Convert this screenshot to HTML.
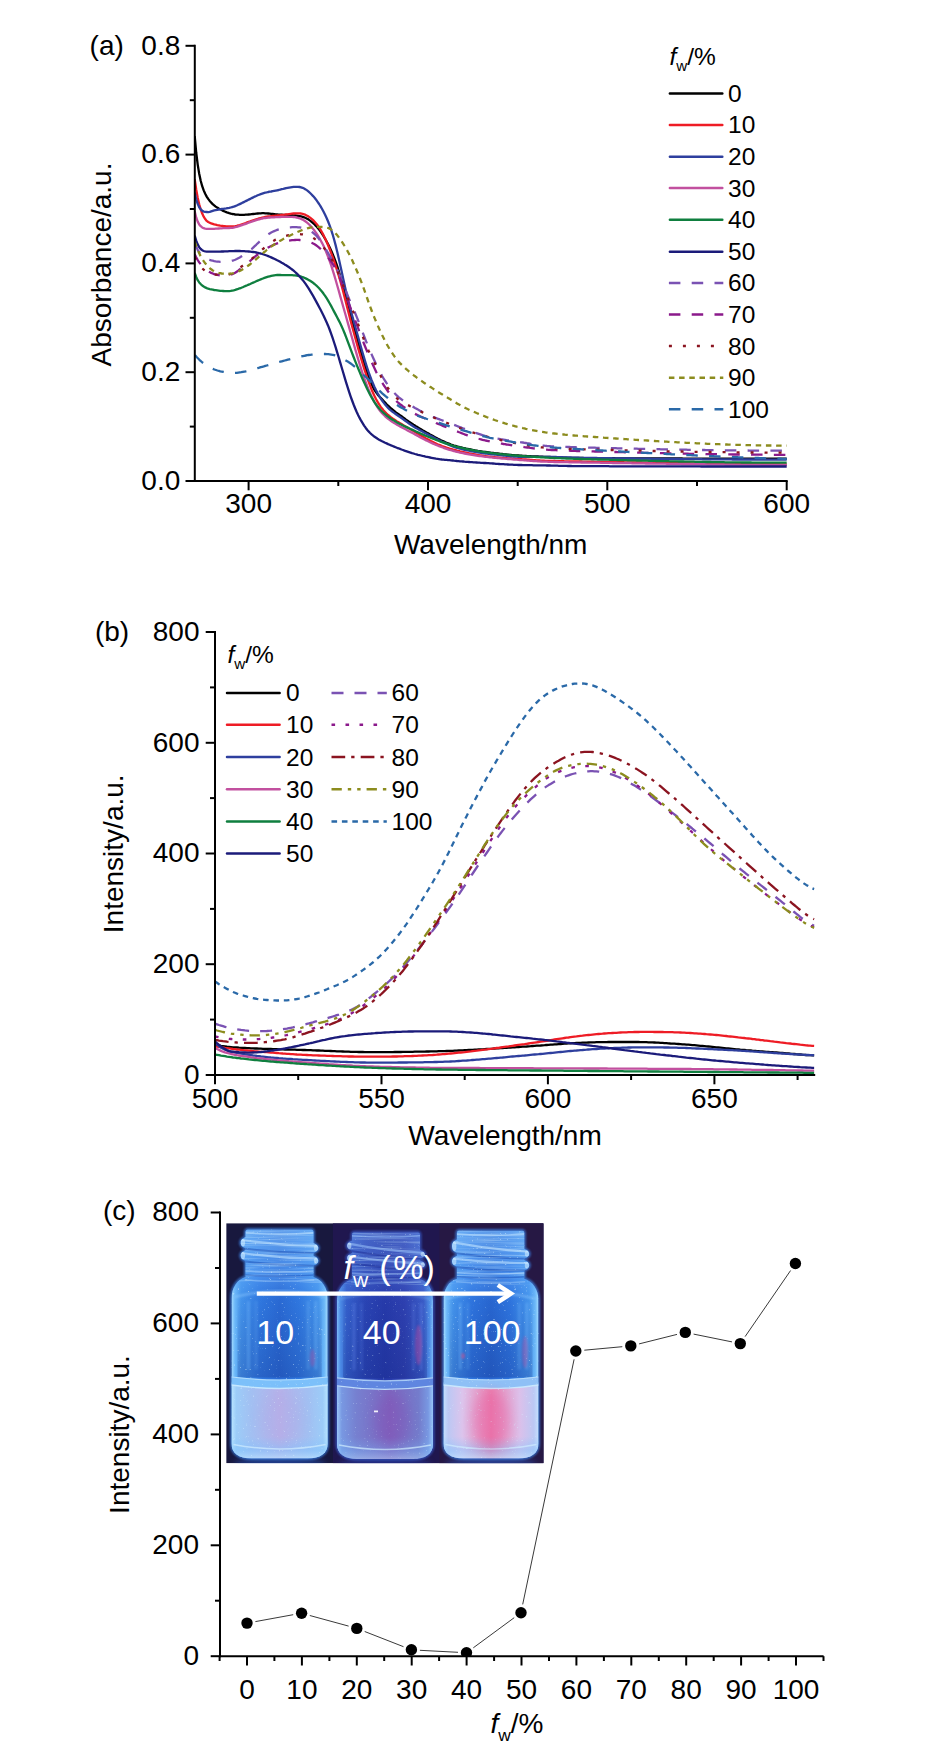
<!DOCTYPE html>
<html lang="en"><head><meta charset="utf-8"><title>Figure</title>
<style>html,body{margin:0;padding:0;background:#fff}svg{display:block}text{font-family:"Liberation Sans", Arial, Helvetica, sans-serif;fill:#000}</style></head><body>
<svg width="947" height="1758" viewBox="0 0 947 1758">
<rect width="947" height="1758" fill="#fff"/>
<g id="chart-a">
<clipPath id="clipA"><rect x="194.8" y="40" width="592.4" height="441.0"/></clipPath>
<g clip-path="url(#clipA)" fill="none" stroke-width="2.3" stroke-linejoin="round">
<path d="M194.7 136.1 L196.2 152.5 L197.7 164.6 L199.2 173.7 L200.7 180.7 L202.2 186.2 L203.7 190.4 L205.2 193.8 L206.7 196.6 L208.2 198.9 L209.7 200.9 L211.2 202.6 L212.7 204.1 L214.2 205.4 L215.7 206.6 L217.2 207.6 L218.7 208.5 L220.2 209.3 L221.7 210.1 L223.2 210.9 L224.7 211.5 L226.2 212.1 L227.7 212.7 L229.2 213.2 L230.7 213.6 L232.2 214.0 L233.7 214.2 L235.2 214.5 L236.7 214.6 L238.2 214.7 L239.7 214.8 L241.2 214.8 L242.7 214.8 L244.2 214.8 L245.7 214.7 L247.2 214.6 L248.7 214.5 L250.2 214.4 L251.7 214.2 L253.2 214.0 L254.7 213.9 L256.2 213.7 L257.7 213.5 L259.2 213.4 L260.7 213.3 L262.2 213.2 L263.7 213.2 L265.2 213.3 L266.7 213.4 L268.2 213.5 L269.7 213.7 L271.2 213.9 L272.7 214.0 L274.2 214.2 L275.7 214.4 L277.2 214.5 L278.7 214.6 L280.2 214.7 L281.7 214.7 L283.2 214.8 L284.6 214.8 L286.1 214.9 L287.6 215.0 L289.1 215.0 L290.6 215.1 L292.1 215.2 L293.6 215.3 L295.1 215.4 L296.6 215.6 L298.1 215.8 L299.6 216.1 L301.1 216.4 L302.6 216.8 L304.1 217.3 L305.6 218.0 L307.1 218.7 L308.6 219.6 L310.1 220.6 L311.6 221.8 L313.1 223.1 L314.6 224.5 L316.1 226.1 L317.6 227.8 L319.1 229.6 L320.6 231.7 L322.1 233.9 L323.6 236.2 L325.1 238.8 L326.6 241.5 L328.1 244.3 L329.6 247.3 L331.1 250.5 L332.6 254.0 L334.1 257.6 L335.6 261.6 L337.1 265.9 L338.6 270.6 L340.1 275.8 L341.6 281.3 L343.1 287.1 L344.6 293.0 L346.1 298.9 L347.6 304.7 L349.1 310.3 L350.6 315.7 L352.1 321.1 L353.6 326.5 L355.1 331.8 L356.6 337.1 L358.1 342.5 L359.6 347.8 L361.1 353.0 L362.6 358.1 L364.1 363.1 L365.6 367.9 L367.1 372.5 L368.6 376.8 L370.1 380.7 L371.6 384.3 L373.1 387.4 L374.6 390.1 L376.1 392.4 L377.6 394.4 L379.1 396.2 L380.6 397.8 L382.1 399.4 L383.6 401.0 L385.1 402.6 L386.6 404.2 L388.1 405.7 L389.6 407.1 L391.1 408.5 L392.6 409.7 L394.1 410.9 L395.6 412.1 L397.0 413.1 L398.5 414.2 L400.0 415.3 L401.5 416.3 L403.0 417.4 L404.5 418.5 L406.0 419.6 L407.5 420.6 L409.0 421.7 L410.5 422.7 L412.0 423.7 L413.5 424.7 L415.0 425.6 L416.5 426.6 L418.0 427.5 L419.5 428.4 L421.0 429.3 L422.5 430.2 L424.0 431.0 L425.5 431.9 L427.0 432.8 L428.5 433.6 L430.0 434.5 L431.5 435.3 L433.0 436.1 L434.5 436.9 L436.0 437.7 L437.5 438.5 L439.0 439.2 L440.5 440.0 L442.0 440.7 L443.5 441.4 L445.0 442.1 L446.5 442.7 L448.0 443.3 L449.5 443.9 L451.0 444.5 L452.5 445.0 L454.0 445.5 L455.5 445.9 L457.0 446.4 L458.5 446.8 L460.0 447.2 L461.5 447.5 L463.0 447.9 L464.5 448.2 L466.0 448.6 L467.5 448.9 L469.0 449.2 L470.5 449.5 L472.0 449.8 L473.5 450.1 L475.0 450.4 L476.5 450.6 L478.0 450.9 L479.5 451.1 L481.0 451.3 L482.5 451.6 L484.0 451.8 L485.5 452.0 L487.0 452.2 L488.5 452.4 L490.0 452.6 L491.5 452.8 L493.0 453.0 L494.5 453.2 L496.0 453.4 L497.5 453.5 L499.0 453.7 L500.5 453.9 L502.0 454.0 L503.5 454.2 L505.0 454.3 L506.5 454.5 L507.9 454.6 L509.4 454.8 L510.9 454.9 L512.4 455.1 L513.9 455.2 L515.4 455.3 L516.9 455.4 L518.4 455.5 L519.9 455.6 L521.4 455.7 L522.9 455.8 L524.4 455.9 L525.9 456.0 L527.4 456.1 L528.9 456.1 L530.4 456.2 L531.9 456.3 L533.4 456.3 L534.9 456.4 L536.4 456.5 L537.9 456.5 L539.4 456.6 L540.9 456.7 L542.4 456.7 L543.9 456.8 L545.4 456.8 L546.9 456.9 L548.4 457.0 L549.9 457.0 L551.4 457.1 L552.9 457.2 L554.4 457.2 L555.9 457.3 L557.4 457.3 L558.9 457.4 L560.4 457.5 L561.9 457.5 L563.4 457.6 L564.9 457.6 L566.4 457.7 L567.9 457.8 L569.4 457.8 L570.9 457.8 L572.4 457.9 L573.9 457.9 L575.4 457.9 L576.9 458.0 L578.4 458.0 L579.9 458.0 L581.4 458.0 L582.9 458.0 L584.4 458.1 L585.9 458.1 L587.4 458.1 L588.9 458.1 L590.4 458.1 L591.9 458.1 L593.4 458.1 L594.9 458.1 L596.4 458.1 L597.9 458.1 L599.4 458.2 L600.9 458.2 L602.4 458.2 L603.9 458.2 L605.4 458.2 L606.9 458.2 L608.4 458.2 L609.9 458.2 L611.4 458.2 L612.9 458.2 L614.4 458.2 L615.9 458.3 L617.4 458.3 L618.9 458.3 L620.3 458.3 L621.8 458.3 L623.3 458.3 L624.8 458.3 L626.3 458.3 L627.8 458.3 L629.3 458.3 L630.8 458.3 L632.3 458.3 L633.8 458.4 L635.3 458.4 L636.8 458.4 L638.3 458.4 L639.8 458.4 L641.3 458.4 L642.8 458.4 L644.3 458.4 L645.8 458.4 L647.3 458.4 L648.8 458.4 L650.3 458.4 L651.8 458.4 L653.3 458.4 L654.8 458.5 L656.3 458.5 L657.8 458.5 L659.3 458.5 L660.8 458.5 L662.3 458.5 L663.8 458.5 L665.3 458.5 L666.8 458.5 L668.3 458.5 L669.8 458.5 L671.3 458.5 L672.8 458.5 L674.3 458.5 L675.8 458.5 L677.3 458.5 L678.8 458.5 L680.3 458.5 L681.8 458.5 L683.3 458.6 L684.8 458.6 L686.3 458.6 L687.8 458.6 L689.3 458.6 L690.8 458.6 L692.3 458.6 L693.8 458.6 L695.3 458.6 L696.8 458.6 L698.3 458.6 L699.8 458.6 L701.3 458.6 L702.8 458.6 L704.3 458.6 L705.8 458.6 L707.3 458.6 L708.8 458.6 L710.3 458.6 L711.8 458.6 L713.3 458.6 L714.8 458.6 L716.3 458.6 L717.8 458.6 L719.3 458.6 L720.8 458.6 L722.3 458.6 L723.8 458.6 L725.3 458.7 L726.8 458.7 L728.3 458.7 L729.8 458.7 L731.2 458.7 L732.7 458.7 L734.2 458.7 L735.7 458.7 L737.2 458.7 L738.7 458.7 L740.2 458.7 L741.7 458.7 L743.2 458.7 L744.7 458.7 L746.2 458.7 L747.7 458.7 L749.2 458.7 L750.7 458.7 L752.2 458.7 L753.7 458.7 L755.2 458.7 L756.7 458.7 L758.2 458.7 L759.7 458.7 L761.2 458.7 L762.7 458.7 L764.2 458.7 L765.7 458.7 L767.2 458.7 L768.7 458.7 L770.2 458.7 L771.7 458.7 L773.2 458.7 L774.7 458.7 L776.2 458.7 L777.7 458.7 L779.2 458.7 L780.7 458.7 L782.2 458.7 L783.7 458.7 L785.2 458.7 L786.7 458.7" stroke="#000000"/>
<path d="M194.7 179.1 L196.2 189.5 L197.7 197.7 L199.2 204.2 L200.7 209.4 L202.2 213.6 L203.7 216.7 L205.2 219.1 L206.7 220.9 L208.2 222.0 L209.7 222.7 L211.2 223.4 L212.7 223.9 L214.2 224.4 L215.7 224.7 L217.2 225.1 L218.7 225.3 L220.2 225.6 L221.7 225.8 L223.2 226.0 L224.7 226.1 L226.2 226.3 L227.7 226.4 L229.2 226.5 L230.7 226.5 L232.2 226.4 L233.7 226.3 L235.2 226.1 L236.7 225.8 L238.2 225.4 L239.7 225.0 L241.2 224.5 L242.7 224.0 L244.2 223.5 L245.7 223.0 L247.2 222.4 L248.7 221.9 L250.2 221.4 L251.7 220.8 L253.2 220.3 L254.7 219.8 L256.2 219.3 L257.7 218.9 L259.2 218.4 L260.7 218.0 L262.2 217.6 L263.7 217.3 L265.2 217.0 L266.7 216.7 L268.2 216.5 L269.7 216.3 L271.2 216.1 L272.7 215.9 L274.2 215.8 L275.7 215.6 L277.2 215.5 L278.7 215.3 L280.2 215.2 L281.7 215.0 L283.2 214.8 L284.6 214.7 L286.1 214.5 L287.6 214.3 L289.1 214.1 L290.6 213.9 L292.1 213.7 L293.6 213.5 L295.1 213.4 L296.6 213.3 L298.1 213.3 L299.6 213.4 L301.1 213.5 L302.6 213.9 L304.1 214.3 L305.6 214.9 L307.1 215.7 L308.6 216.6 L310.1 217.6 L311.6 218.8 L313.1 220.1 L314.6 221.7 L316.1 223.4 L317.6 225.3 L319.1 227.5 L320.6 229.9 L322.1 232.5 L323.6 235.4 L325.1 238.5 L326.6 241.8 L328.1 245.3 L329.6 249.0 L331.1 252.9 L332.6 256.9 L334.1 261.2 L335.6 265.7 L337.1 270.3 L338.6 275.2 L340.1 280.3 L341.6 285.7 L343.1 291.3 L344.6 297.1 L346.1 303.0 L347.6 308.9 L349.1 314.8 L350.6 320.6 L352.1 326.3 L353.6 331.8 L355.1 337.3 L356.6 342.7 L358.1 348.1 L359.6 353.3 L361.1 358.4 L362.6 363.4 L364.1 368.3 L365.6 372.9 L367.1 377.4 L368.6 381.7 L370.1 385.7 L371.6 389.5 L373.1 393.0 L374.6 396.2 L376.1 399.2 L377.6 401.9 L379.1 404.3 L380.6 406.6 L382.1 408.6 L383.6 410.4 L385.1 412.1 L386.6 413.6 L388.1 415.0 L389.6 416.2 L391.1 417.4 L392.6 418.5 L394.1 419.5 L395.6 420.5 L397.0 421.4 L398.5 422.3 L400.0 423.2 L401.5 424.1 L403.0 425.0 L404.5 425.9 L406.0 426.8 L407.5 427.6 L409.0 428.5 L410.5 429.3 L412.0 430.2 L413.5 431.1 L415.0 432.0 L416.5 432.9 L418.0 433.8 L419.5 434.7 L421.0 435.6 L422.5 436.5 L424.0 437.3 L425.5 438.2 L427.0 439.0 L428.5 439.8 L430.0 440.6 L431.5 441.4 L433.0 442.1 L434.5 442.8 L436.0 443.5 L437.5 444.2 L439.0 444.8 L440.5 445.4 L442.0 446.0 L443.5 446.5 L445.0 447.0 L446.5 447.6 L448.0 448.0 L449.5 448.5 L451.0 448.9 L452.5 449.4 L454.0 449.8 L455.5 450.2 L457.0 450.6 L458.5 450.9 L460.0 451.3 L461.5 451.6 L463.0 452.0 L464.5 452.3 L466.0 452.6 L467.5 453.0 L469.0 453.3 L470.5 453.6 L472.0 453.9 L473.5 454.1 L475.0 454.4 L476.5 454.7 L478.0 454.9 L479.5 455.2 L481.0 455.4 L482.5 455.6 L484.0 455.9 L485.5 456.1 L487.0 456.3 L488.5 456.5 L490.0 456.6 L491.5 456.8 L493.0 457.0 L494.5 457.1 L496.0 457.3 L497.5 457.4 L499.0 457.6 L500.5 457.7 L502.0 457.8 L503.5 457.9 L505.0 458.1 L506.5 458.2 L507.9 458.3 L509.4 458.4 L510.9 458.5 L512.4 458.6 L513.9 458.7 L515.4 458.8 L516.9 458.9 L518.4 459.0 L519.9 459.1 L521.4 459.2 L522.9 459.3 L524.4 459.4 L525.9 459.5 L527.4 459.6 L528.9 459.7 L530.4 459.9 L531.9 460.0 L533.4 460.1 L534.9 460.2 L536.4 460.3 L537.9 460.4 L539.4 460.5 L540.9 460.6 L542.4 460.6 L543.9 460.7 L545.4 460.8 L546.9 460.8 L548.4 460.9 L549.9 460.9 L551.4 461.0 L552.9 461.0 L554.4 461.0 L555.9 461.1 L557.4 461.1 L558.9 461.1 L560.4 461.2 L561.9 461.2 L563.4 461.2 L564.9 461.3 L566.4 461.3 L567.9 461.3 L569.4 461.3 L570.9 461.4 L572.4 461.4 L573.9 461.4 L575.4 461.4 L576.9 461.5 L578.4 461.5 L579.9 461.5 L581.4 461.5 L582.9 461.6 L584.4 461.6 L585.9 461.6 L587.4 461.6 L588.9 461.7 L590.4 461.7 L591.9 461.7 L593.4 461.7 L594.9 461.8 L596.4 461.8 L597.9 461.8 L599.4 461.8 L600.9 461.9 L602.4 461.9 L603.9 461.9 L605.4 461.9 L606.9 462.0 L608.4 462.0 L609.9 462.0 L611.4 462.0 L612.9 462.1 L614.4 462.1 L615.9 462.1 L617.4 462.1 L618.9 462.2 L620.3 462.2 L621.8 462.2 L623.3 462.2 L624.8 462.3 L626.3 462.3 L627.8 462.3 L629.3 462.3 L630.8 462.4 L632.3 462.4 L633.8 462.4 L635.3 462.4 L636.8 462.5 L638.3 462.5 L639.8 462.5 L641.3 462.5 L642.8 462.6 L644.3 462.6 L645.8 462.6 L647.3 462.6 L648.8 462.6 L650.3 462.7 L651.8 462.7 L653.3 462.7 L654.8 462.7 L656.3 462.8 L657.8 462.8 L659.3 462.8 L660.8 462.8 L662.3 462.9 L663.8 462.9 L665.3 462.9 L666.8 462.9 L668.3 462.9 L669.8 463.0 L671.3 463.0 L672.8 463.0 L674.3 463.0 L675.8 463.1 L677.3 463.1 L678.8 463.1 L680.3 463.1 L681.8 463.1 L683.3 463.2 L684.8 463.2 L686.3 463.2 L687.8 463.2 L689.3 463.2 L690.8 463.3 L692.3 463.3 L693.8 463.3 L695.3 463.3 L696.8 463.3 L698.3 463.4 L699.8 463.4 L701.3 463.4 L702.8 463.4 L704.3 463.4 L705.8 463.5 L707.3 463.5 L708.8 463.5 L710.3 463.5 L711.8 463.5 L713.3 463.6 L714.8 463.6 L716.3 463.6 L717.8 463.6 L719.3 463.6 L720.8 463.7 L722.3 463.7 L723.8 463.7 L725.3 463.7 L726.8 463.7 L728.3 463.7 L729.8 463.8 L731.2 463.8 L732.7 463.8 L734.2 463.8 L735.7 463.8 L737.2 463.8 L738.7 463.9 L740.2 463.9 L741.7 463.9 L743.2 463.9 L744.7 463.9 L746.2 463.9 L747.7 464.0 L749.2 464.0 L750.7 464.0 L752.2 464.0 L753.7 464.0 L755.2 464.0 L756.7 464.0 L758.2 464.1 L759.7 464.1 L761.2 464.1 L762.7 464.1 L764.2 464.1 L765.7 464.1 L767.2 464.1 L768.7 464.2 L770.2 464.2 L771.7 464.2 L773.2 464.2 L774.7 464.2 L776.2 464.2 L777.7 464.2 L779.2 464.2 L780.7 464.3 L782.2 464.3 L783.7 464.3 L785.2 464.3 L786.7 464.3" stroke="#ee1c25"/>
<path d="M194.7 192.6 L196.2 199.3 L197.7 203.9 L199.2 207.3 L200.7 209.3 L202.2 210.7 L203.7 211.6 L205.2 211.9 L206.7 212.0 L208.2 212.1 L209.7 211.9 L211.2 211.4 L212.7 210.9 L214.2 210.4 L215.7 210.1 L217.2 209.8 L218.7 209.5 L220.2 209.3 L221.7 209.0 L223.2 208.8 L224.7 208.6 L226.2 208.4 L227.7 208.1 L229.2 207.9 L230.7 207.5 L232.2 207.1 L233.7 206.7 L235.2 206.1 L236.7 205.5 L238.2 204.8 L239.7 204.1 L241.2 203.4 L242.7 202.6 L244.2 201.9 L245.7 201.1 L247.2 200.4 L248.7 199.6 L250.2 198.9 L251.7 198.1 L253.2 197.4 L254.7 196.6 L256.2 196.0 L257.7 195.3 L259.2 194.7 L260.7 194.1 L262.2 193.6 L263.7 193.1 L265.2 192.7 L266.7 192.4 L268.2 192.0 L269.7 191.7 L271.2 191.5 L272.7 191.2 L274.2 190.9 L275.7 190.6 L277.2 190.3 L278.7 190.0 L280.2 189.6 L281.7 189.2 L283.2 188.9 L284.6 188.5 L286.1 188.2 L287.6 187.9 L289.1 187.6 L290.6 187.3 L292.1 187.1 L293.6 186.9 L295.1 186.8 L296.6 186.8 L298.1 186.8 L299.6 187.0 L301.1 187.3 L302.6 187.8 L304.1 188.5 L305.6 189.4 L307.1 190.4 L308.6 191.6 L310.1 193.0 L311.6 194.5 L313.1 196.1 L314.6 197.8 L316.1 199.7 L317.6 201.8 L319.1 204.0 L320.6 206.4 L322.1 209.0 L323.6 211.8 L325.1 214.8 L326.6 218.0 L328.1 221.5 L329.6 225.4 L331.1 229.6 L332.6 234.3 L334.1 239.5 L335.6 245.1 L337.1 251.2 L338.6 257.7 L340.1 264.4 L341.6 271.3 L343.1 278.2 L344.6 285.1 L346.1 291.7 L347.6 298.0 L349.1 304.1 L350.6 309.9 L352.1 315.4 L353.6 320.8 L355.1 326.2 L356.6 331.5 L358.1 336.8 L359.6 342.2 L361.1 347.5 L362.6 352.7 L364.1 357.8 L365.6 362.8 L367.1 367.5 L368.6 372.0 L370.1 376.2 L371.6 380.2 L373.1 383.8 L374.6 387.2 L376.1 390.3 L377.6 393.2 L379.1 395.8 L380.6 398.3 L382.1 400.5 L383.6 402.6 L385.1 404.5 L386.6 406.3 L388.1 407.9 L389.6 409.3 L391.1 410.6 L392.6 411.8 L394.1 412.9 L395.6 414.0 L397.0 415.0 L398.5 416.0 L400.0 417.0 L401.5 418.0 L403.0 419.1 L404.5 420.2 L406.0 421.3 L407.5 422.4 L409.0 423.5 L410.5 424.5 L412.0 425.5 L413.5 426.5 L415.0 427.4 L416.5 428.3 L418.0 429.1 L419.5 430.0 L421.0 430.8 L422.5 431.6 L424.0 432.4 L425.5 433.2 L427.0 434.0 L428.5 434.8 L430.0 435.5 L431.5 436.3 L433.0 437.1 L434.5 437.9 L436.0 438.7 L437.5 439.4 L439.0 440.2 L440.5 440.9 L442.0 441.7 L443.5 442.4 L445.0 443.1 L446.5 443.8 L448.0 444.5 L449.5 445.1 L451.0 445.7 L452.5 446.3 L454.0 446.8 L455.5 447.3 L457.0 447.8 L458.5 448.2 L460.0 448.6 L461.5 449.0 L463.0 449.4 L464.5 449.8 L466.0 450.1 L467.5 450.4 L469.0 450.7 L470.5 451.0 L472.0 451.3 L473.5 451.6 L475.0 451.9 L476.5 452.1 L478.0 452.4 L479.5 452.6 L481.0 452.9 L482.5 453.1 L484.0 453.3 L485.5 453.5 L487.0 453.7 L488.5 453.9 L490.0 454.1 L491.5 454.3 L493.0 454.4 L494.5 454.6 L496.0 454.7 L497.5 454.9 L499.0 455.0 L500.5 455.2 L502.0 455.3 L503.5 455.5 L505.0 455.7 L506.5 455.8 L507.9 456.0 L509.4 456.1 L510.9 456.3 L512.4 456.4 L513.9 456.6 L515.4 456.7 L516.9 456.7 L518.4 456.8 L519.9 456.8 L521.4 456.9 L522.9 456.9 L524.4 456.9 L525.9 456.9 L527.4 456.9 L528.9 456.9 L530.4 456.9 L531.9 456.9 L533.4 456.9 L534.9 456.9 L536.4 456.9 L537.9 456.9 L539.4 456.9 L540.9 456.9 L542.4 456.9 L543.9 456.9 L545.4 456.9 L546.9 456.9 L548.4 456.9 L549.9 456.9 L551.4 456.9 L552.9 457.0 L554.4 457.0 L555.9 457.0 L557.4 457.1 L558.9 457.1 L560.4 457.2 L561.9 457.2 L563.4 457.3 L564.9 457.3 L566.4 457.4 L567.9 457.4 L569.4 457.5 L570.9 457.5 L572.4 457.6 L573.9 457.6 L575.4 457.7 L576.9 457.7 L578.4 457.7 L579.9 457.8 L581.4 457.8 L582.9 457.8 L584.4 457.9 L585.9 457.9 L587.4 457.9 L588.9 457.9 L590.4 457.9 L591.9 458.0 L593.4 458.0 L594.9 458.0 L596.4 458.0 L597.9 458.1 L599.4 458.1 L600.9 458.1 L602.4 458.1 L603.9 458.1 L605.4 458.2 L606.9 458.2 L608.4 458.2 L609.9 458.2 L611.4 458.2 L612.9 458.3 L614.4 458.3 L615.9 458.3 L617.4 458.3 L618.9 458.3 L620.3 458.4 L621.8 458.4 L623.3 458.4 L624.8 458.4 L626.3 458.4 L627.8 458.5 L629.3 458.5 L630.8 458.5 L632.3 458.5 L633.8 458.5 L635.3 458.6 L636.8 458.6 L638.3 458.6 L639.8 458.6 L641.3 458.6 L642.8 458.7 L644.3 458.7 L645.8 458.7 L647.3 458.7 L648.8 458.7 L650.3 458.7 L651.8 458.8 L653.3 458.8 L654.8 458.8 L656.3 458.8 L657.8 458.8 L659.3 458.8 L660.8 458.9 L662.3 458.9 L663.8 458.9 L665.3 458.9 L666.8 458.9 L668.3 458.9 L669.8 459.0 L671.3 459.0 L672.8 459.0 L674.3 459.0 L675.8 459.0 L677.3 459.0 L678.8 459.0 L680.3 459.1 L681.8 459.1 L683.3 459.1 L684.8 459.1 L686.3 459.1 L687.8 459.1 L689.3 459.1 L690.8 459.2 L692.3 459.2 L693.8 459.2 L695.3 459.2 L696.8 459.2 L698.3 459.2 L699.8 459.2 L701.3 459.2 L702.8 459.3 L704.3 459.3 L705.8 459.3 L707.3 459.3 L708.8 459.3 L710.3 459.3 L711.8 459.3 L713.3 459.3 L714.8 459.3 L716.3 459.4 L717.8 459.4 L719.3 459.4 L720.8 459.4 L722.3 459.4 L723.8 459.4 L725.3 459.4 L726.8 459.4 L728.3 459.4 L729.8 459.4 L731.2 459.4 L732.7 459.5 L734.2 459.5 L735.7 459.5 L737.2 459.5 L738.7 459.5 L740.2 459.5 L741.7 459.5 L743.2 459.5 L744.7 459.5 L746.2 459.5 L747.7 459.5 L749.2 459.5 L750.7 459.5 L752.2 459.5 L753.7 459.5 L755.2 459.5 L756.7 459.6 L758.2 459.6 L759.7 459.6 L761.2 459.6 L762.7 459.6 L764.2 459.6 L765.7 459.6 L767.2 459.6 L768.7 459.6 L770.2 459.6 L771.7 459.6 L773.2 459.6 L774.7 459.6 L776.2 459.6 L777.7 459.6 L779.2 459.6 L780.7 459.6 L782.2 459.6 L783.7 459.6 L785.2 459.6 L786.7 459.6" stroke="#2e3f9e"/>
<path d="M194.7 211.2 L196.2 217.4 L197.7 221.6 L199.2 224.4 L200.7 226.2 L202.2 227.4 L203.7 228.2 L205.2 228.6 L206.7 228.8 L208.2 228.9 L209.7 228.9 L211.2 228.9 L212.7 228.9 L214.2 228.8 L215.7 228.7 L217.2 228.6 L218.7 228.5 L220.2 228.4 L221.7 228.3 L223.2 228.2 L224.7 228.2 L226.2 228.1 L227.7 228.1 L229.2 228.0 L230.7 227.9 L232.2 227.8 L233.7 227.6 L235.2 227.2 L236.7 226.9 L238.2 226.4 L239.7 225.9 L241.2 225.4 L242.7 224.9 L244.2 224.3 L245.7 223.8 L247.2 223.3 L248.7 222.7 L250.2 222.2 L251.7 221.7 L253.2 221.2 L254.7 220.7 L256.2 220.2 L257.7 219.7 L259.2 219.3 L260.7 218.9 L262.2 218.5 L263.7 218.2 L265.2 218.0 L266.7 217.8 L268.2 217.6 L269.7 217.5 L271.2 217.4 L272.7 217.3 L274.2 217.3 L275.7 217.2 L277.2 217.1 L278.7 217.1 L280.2 217.0 L281.7 216.9 L283.2 216.9 L284.6 216.8 L286.1 216.8 L287.6 216.8 L289.1 216.8 L290.6 216.8 L292.1 216.9 L293.6 217.0 L295.1 217.2 L296.6 217.5 L298.1 217.9 L299.6 218.3 L301.1 218.9 L302.6 219.6 L304.1 220.5 L305.6 221.5 L307.1 222.6 L308.6 224.0 L310.1 225.4 L311.6 227.1 L313.1 228.9 L314.6 230.8 L316.1 232.9 L317.6 235.2 L319.1 237.6 L320.6 240.3 L322.1 243.1 L323.6 246.1 L325.1 249.4 L326.6 253.0 L328.1 256.8 L329.6 260.8 L331.1 265.2 L332.6 269.8 L334.1 274.7 L335.6 279.8 L337.1 285.0 L338.6 290.3 L340.1 295.6 L341.6 300.9 L343.1 306.3 L344.6 311.5 L346.1 316.8 L347.6 322.1 L349.1 327.4 L350.6 332.7 L352.1 338.0 L353.6 343.4 L355.1 348.7 L356.6 353.9 L358.1 359.0 L359.6 364.0 L361.1 368.8 L362.6 373.4 L364.1 377.8 L365.6 382.0 L367.1 386.0 L368.6 389.7 L370.1 393.3 L371.6 396.6 L373.1 399.6 L374.6 402.4 L376.1 405.0 L377.6 407.4 L379.1 409.5 L380.6 411.5 L382.1 413.2 L383.6 414.8 L385.1 416.3 L386.6 417.6 L388.1 418.8 L389.6 419.9 L391.1 421.0 L392.6 422.0 L394.1 422.9 L395.6 423.8 L397.0 424.7 L398.5 425.6 L400.0 426.4 L401.5 427.2 L403.0 428.0 L404.5 428.8 L406.0 429.6 L407.5 430.4 L409.0 431.2 L410.5 432.0 L412.0 432.8 L413.5 433.6 L415.0 434.4 L416.5 435.2 L418.0 436.1 L419.5 436.9 L421.0 437.7 L422.5 438.5 L424.0 439.3 L425.5 440.1 L427.0 440.8 L428.5 441.5 L430.0 442.2 L431.5 442.9 L433.0 443.6 L434.5 444.2 L436.0 444.9 L437.5 445.5 L439.0 446.1 L440.5 446.7 L442.0 447.2 L443.5 447.8 L445.0 448.3 L446.5 448.8 L448.0 449.3 L449.5 449.8 L451.0 450.2 L452.5 450.6 L454.0 451.1 L455.5 451.5 L457.0 451.8 L458.5 452.2 L460.0 452.6 L461.5 452.9 L463.0 453.2 L464.5 453.5 L466.0 453.8 L467.5 454.1 L469.0 454.4 L470.5 454.6 L472.0 454.9 L473.5 455.1 L475.0 455.3 L476.5 455.6 L478.0 455.8 L479.5 456.0 L481.0 456.2 L482.5 456.4 L484.0 456.6 L485.5 456.8 L487.0 456.9 L488.5 457.1 L490.0 457.3 L491.5 457.4 L493.0 457.6 L494.5 457.8 L496.0 457.9 L497.5 458.0 L499.0 458.2 L500.5 458.3 L502.0 458.5 L503.5 458.6 L505.0 458.7 L506.5 458.9 L507.9 459.0 L509.4 459.1 L510.9 459.2 L512.4 459.4 L513.9 459.5 L515.4 459.6 L516.9 459.7 L518.4 459.8 L519.9 460.0 L521.4 460.1 L522.9 460.2 L524.4 460.3 L525.9 460.4 L527.4 460.6 L528.9 460.7 L530.4 460.8 L531.9 460.9 L533.4 461.0 L534.9 461.1 L536.4 461.2 L537.9 461.3 L539.4 461.4 L540.9 461.5 L542.4 461.6 L543.9 461.6 L545.4 461.7 L546.9 461.7 L548.4 461.8 L549.9 461.8 L551.4 461.9 L552.9 461.9 L554.4 462.0 L555.9 462.0 L557.4 462.0 L558.9 462.1 L560.4 462.1 L561.9 462.1 L563.4 462.2 L564.9 462.2 L566.4 462.2 L567.9 462.2 L569.4 462.3 L570.9 462.3 L572.4 462.3 L573.9 462.3 L575.4 462.4 L576.9 462.4 L578.4 462.4 L579.9 462.4 L581.4 462.5 L582.9 462.5 L584.4 462.5 L585.9 462.5 L587.4 462.6 L588.9 462.6 L590.4 462.6 L591.9 462.6 L593.4 462.7 L594.9 462.7 L596.4 462.7 L597.9 462.7 L599.4 462.7 L600.9 462.8 L602.4 462.8 L603.9 462.8 L605.4 462.8 L606.9 462.9 L608.4 462.9 L609.9 462.9 L611.4 462.9 L612.9 463.0 L614.4 463.0 L615.9 463.0 L617.4 463.0 L618.9 463.1 L620.3 463.1 L621.8 463.1 L623.3 463.1 L624.8 463.1 L626.3 463.2 L627.8 463.2 L629.3 463.2 L630.8 463.2 L632.3 463.3 L633.8 463.3 L635.3 463.3 L636.8 463.3 L638.3 463.3 L639.8 463.4 L641.3 463.4 L642.8 463.4 L644.3 463.4 L645.8 463.5 L647.3 463.5 L648.8 463.5 L650.3 463.5 L651.8 463.5 L653.3 463.6 L654.8 463.6 L656.3 463.6 L657.8 463.6 L659.3 463.7 L660.8 463.7 L662.3 463.7 L663.8 463.7 L665.3 463.7 L666.8 463.8 L668.3 463.8 L669.8 463.8 L671.3 463.8 L672.8 463.8 L674.3 463.9 L675.8 463.9 L677.3 463.9 L678.8 463.9 L680.3 463.9 L681.8 464.0 L683.3 464.0 L684.8 464.0 L686.3 464.0 L687.8 464.0 L689.3 464.0 L690.8 464.1 L692.3 464.1 L693.8 464.1 L695.3 464.1 L696.8 464.1 L698.3 464.2 L699.8 464.2 L701.3 464.2 L702.8 464.2 L704.3 464.2 L705.8 464.2 L707.3 464.3 L708.8 464.3 L710.3 464.3 L711.8 464.3 L713.3 464.3 L714.8 464.3 L716.3 464.4 L717.8 464.4 L719.3 464.4 L720.8 464.4 L722.3 464.4 L723.8 464.4 L725.3 464.5 L726.8 464.5 L728.3 464.5 L729.8 464.5 L731.2 464.5 L732.7 464.5 L734.2 464.5 L735.7 464.6 L737.2 464.6 L738.7 464.6 L740.2 464.6 L741.7 464.6 L743.2 464.6 L744.7 464.6 L746.2 464.6 L747.7 464.7 L749.2 464.7 L750.7 464.7 L752.2 464.7 L753.7 464.7 L755.2 464.7 L756.7 464.7 L758.2 464.7 L759.7 464.7 L761.2 464.8 L762.7 464.8 L764.2 464.8 L765.7 464.8 L767.2 464.8 L768.7 464.8 L770.2 464.8 L771.7 464.8 L773.2 464.8 L774.7 464.8 L776.2 464.8 L777.7 464.9 L779.2 464.9 L780.7 464.9 L782.2 464.9 L783.7 464.9 L785.2 464.9 L786.7 464.9" stroke="#c2509f"/>
<path d="M194.7 272.9 L196.2 276.9 L197.7 280.2 L199.2 282.4 L200.7 284.1 L202.2 285.5 L203.7 286.5 L205.2 287.4 L206.7 288.1 L208.2 288.7 L209.7 289.1 L211.2 289.4 L212.7 289.7 L214.2 290.0 L215.7 290.2 L217.2 290.4 L218.7 290.6 L220.2 290.8 L221.7 290.9 L223.2 291.0 L224.7 291.1 L226.2 291.2 L227.7 291.2 L229.2 291.1 L230.7 290.9 L232.2 290.6 L233.7 290.3 L235.2 289.9 L236.7 289.4 L238.2 288.9 L239.7 288.3 L241.2 287.8 L242.7 287.2 L244.2 286.5 L245.7 285.9 L247.2 285.3 L248.7 284.6 L250.2 284.0 L251.7 283.3 L253.2 282.6 L254.7 282.0 L256.2 281.3 L257.7 280.6 L259.2 280.0 L260.7 279.4 L262.2 278.8 L263.7 278.2 L265.2 277.7 L266.7 277.2 L268.2 276.7 L269.7 276.3 L271.2 275.9 L272.7 275.6 L274.2 275.3 L275.7 275.1 L277.2 275.0 L278.7 275.0 L280.2 275.0 L281.7 275.1 L283.2 275.1 L284.6 275.2 L286.1 275.2 L287.6 275.2 L289.1 275.2 L290.6 275.2 L292.1 275.2 L293.6 275.3 L295.1 275.4 L296.6 275.6 L298.1 275.8 L299.6 276.2 L301.1 276.6 L302.6 277.2 L304.1 277.7 L305.6 278.4 L307.1 279.1 L308.6 279.9 L310.1 280.8 L311.6 281.8 L313.1 282.8 L314.6 284.0 L316.1 285.3 L317.6 286.8 L319.1 288.3 L320.6 290.0 L322.1 291.8 L323.6 293.8 L325.1 295.9 L326.6 298.2 L328.1 300.6 L329.6 303.2 L331.1 305.9 L332.6 308.7 L334.1 311.6 L335.6 314.4 L337.1 317.2 L338.6 320.1 L340.1 323.0 L341.6 326.2 L343.1 329.6 L344.6 333.3 L346.1 337.2 L347.6 341.2 L349.1 345.2 L350.6 349.2 L352.1 353.2 L353.6 357.0 L355.1 360.9 L356.6 364.6 L358.1 368.3 L359.6 371.9 L361.1 375.5 L362.6 379.0 L364.1 382.3 L365.6 385.6 L367.1 388.8 L368.6 391.8 L370.1 394.7 L371.6 397.4 L373.1 399.9 L374.6 402.3 L376.1 404.5 L377.6 406.5 L379.1 408.3 L380.6 410.0 L382.1 411.5 L383.6 412.9 L385.1 414.2 L386.6 415.5 L388.1 416.6 L389.6 417.7 L391.1 418.7 L392.6 419.7 L394.1 420.6 L395.6 421.5 L397.0 422.4 L398.5 423.2 L400.0 424.0 L401.5 424.7 L403.0 425.5 L404.5 426.2 L406.0 426.9 L407.5 427.6 L409.0 428.3 L410.5 429.0 L412.0 429.6 L413.5 430.3 L415.0 431.0 L416.5 431.7 L418.0 432.4 L419.5 433.0 L421.0 433.7 L422.5 434.4 L424.0 435.0 L425.5 435.7 L427.0 436.3 L428.5 436.9 L430.0 437.5 L431.5 438.1 L433.0 438.7 L434.5 439.3 L436.0 439.9 L437.5 440.5 L439.0 441.0 L440.5 441.6 L442.0 442.1 L443.5 442.7 L445.0 443.2 L446.5 443.7 L448.0 444.2 L449.5 444.7 L451.0 445.1 L452.5 445.6 L454.0 446.0 L455.5 446.4 L457.0 446.8 L458.5 447.1 L460.0 447.5 L461.5 447.8 L463.0 448.2 L464.5 448.5 L466.0 448.8 L467.5 449.2 L469.0 449.5 L470.5 449.8 L472.0 450.0 L473.5 450.3 L475.0 450.6 L476.5 450.9 L478.0 451.1 L479.5 451.4 L481.0 451.6 L482.5 451.8 L484.0 452.0 L485.5 452.3 L487.0 452.5 L488.5 452.7 L490.0 452.9 L491.5 453.1 L493.0 453.3 L494.5 453.4 L496.0 453.6 L497.5 453.8 L499.0 454.0 L500.5 454.1 L502.0 454.3 L503.5 454.4 L505.0 454.6 L506.5 454.7 L507.9 454.9 L509.4 455.0 L510.9 455.2 L512.4 455.3 L513.9 455.4 L515.4 455.5 L516.9 455.7 L518.4 455.8 L519.9 455.9 L521.4 456.0 L522.9 456.1 L524.4 456.2 L525.9 456.3 L527.4 456.4 L528.9 456.5 L530.4 456.6 L531.9 456.7 L533.4 456.8 L534.9 456.9 L536.4 457.0 L537.9 457.1 L539.4 457.2 L540.9 457.3 L542.4 457.4 L543.9 457.4 L545.4 457.5 L546.9 457.6 L548.4 457.7 L549.9 457.8 L551.4 457.8 L552.9 457.9 L554.4 458.0 L555.9 458.0 L557.4 458.1 L558.9 458.2 L560.4 458.2 L561.9 458.3 L563.4 458.4 L564.9 458.4 L566.4 458.5 L567.9 458.5 L569.4 458.6 L570.9 458.7 L572.4 458.7 L573.9 458.8 L575.4 458.8 L576.9 458.9 L578.4 458.9 L579.9 459.0 L581.4 459.0 L582.9 459.0 L584.4 459.1 L585.9 459.1 L587.4 459.2 L588.9 459.2 L590.4 459.2 L591.9 459.3 L593.4 459.3 L594.9 459.4 L596.4 459.4 L597.9 459.5 L599.4 459.5 L600.9 459.5 L602.4 459.6 L603.9 459.6 L605.4 459.7 L606.9 459.7 L608.4 459.7 L609.9 459.8 L611.4 459.8 L612.9 459.9 L614.4 459.9 L615.9 459.9 L617.4 460.0 L618.9 460.0 L620.3 460.1 L621.8 460.1 L623.3 460.1 L624.8 460.2 L626.3 460.2 L627.8 460.3 L629.3 460.3 L630.8 460.3 L632.3 460.4 L633.8 460.4 L635.3 460.4 L636.8 460.5 L638.3 460.5 L639.8 460.6 L641.3 460.6 L642.8 460.6 L644.3 460.7 L645.8 460.7 L647.3 460.7 L648.8 460.8 L650.3 460.8 L651.8 460.8 L653.3 460.9 L654.8 460.9 L656.3 461.0 L657.8 461.0 L659.3 461.0 L660.8 461.1 L662.3 461.1 L663.8 461.1 L665.3 461.2 L666.8 461.2 L668.3 461.2 L669.8 461.3 L671.3 461.3 L672.8 461.3 L674.3 461.4 L675.8 461.4 L677.3 461.4 L678.8 461.5 L680.3 461.5 L681.8 461.5 L683.3 461.5 L684.8 461.6 L686.3 461.6 L687.8 461.6 L689.3 461.7 L690.8 461.7 L692.3 461.7 L693.8 461.7 L695.3 461.8 L696.8 461.8 L698.3 461.8 L699.8 461.9 L701.3 461.9 L702.8 461.9 L704.3 461.9 L705.8 462.0 L707.3 462.0 L708.8 462.0 L710.3 462.0 L711.8 462.1 L713.3 462.1 L714.8 462.1 L716.3 462.1 L717.8 462.2 L719.3 462.2 L720.8 462.2 L722.3 462.2 L723.8 462.2 L725.3 462.3 L726.8 462.3 L728.3 462.3 L729.8 462.3 L731.2 462.3 L732.7 462.4 L734.2 462.4 L735.7 462.4 L737.2 462.4 L738.7 462.4 L740.2 462.4 L741.7 462.5 L743.2 462.5 L744.7 462.5 L746.2 462.5 L747.7 462.5 L749.2 462.5 L750.7 462.5 L752.2 462.6 L753.7 462.6 L755.2 462.6 L756.7 462.6 L758.2 462.6 L759.7 462.6 L761.2 462.6 L762.7 462.6 L764.2 462.6 L765.7 462.6 L767.2 462.7 L768.7 462.7 L770.2 462.7 L771.7 462.7 L773.2 462.7 L774.7 462.7 L776.2 462.7 L777.7 462.7 L779.2 462.7 L780.7 462.7 L782.2 462.7 L783.7 462.7 L785.2 462.7 L786.7 462.7" stroke="#0f7f3f"/>
<path d="M194.7 235.7 L196.2 240.7 L197.7 244.4 L199.2 247.1 L200.7 249.0 L202.2 250.2 L203.7 251.0 L205.2 251.4 L206.7 251.6 L208.2 251.7 L209.7 251.7 L211.2 251.7 L212.7 251.7 L214.2 251.7 L215.7 251.7 L217.2 251.7 L218.7 251.6 L220.2 251.6 L221.7 251.5 L223.2 251.5 L224.7 251.4 L226.2 251.3 L227.7 251.3 L229.2 251.2 L230.7 251.1 L232.2 251.1 L233.7 251.1 L235.2 251.0 L236.7 251.0 L238.2 251.0 L239.7 251.0 L241.2 251.1 L242.7 251.1 L244.2 251.2 L245.7 251.3 L247.2 251.4 L248.7 251.5 L250.2 251.6 L251.7 251.8 L253.2 252.0 L254.7 252.2 L256.2 252.5 L257.7 252.8 L259.2 253.2 L260.7 253.5 L262.2 254.0 L263.7 254.5 L265.2 255.0 L266.7 255.5 L268.2 256.1 L269.7 256.7 L271.2 257.4 L272.7 258.1 L274.2 258.8 L275.7 259.5 L277.2 260.3 L278.7 261.0 L280.2 261.8 L281.7 262.7 L283.2 263.5 L284.6 264.4 L286.1 265.3 L287.6 266.3 L289.1 267.3 L290.6 268.4 L292.1 269.5 L293.6 270.7 L295.1 272.0 L296.6 273.4 L298.1 274.9 L299.6 276.5 L301.1 278.2 L302.6 279.9 L304.1 281.9 L305.6 283.9 L307.1 286.1 L308.6 288.3 L310.1 290.8 L311.6 293.3 L313.1 295.9 L314.6 298.6 L316.1 301.4 L317.6 304.1 L319.1 307.0 L320.6 309.8 L322.1 312.7 L323.6 315.7 L325.1 318.9 L326.6 322.2 L328.1 325.7 L329.6 329.5 L331.1 333.6 L332.6 337.9 L334.1 342.5 L335.6 347.2 L337.1 352.1 L338.6 357.0 L340.1 362.1 L341.6 367.2 L343.1 372.3 L344.6 377.4 L346.1 382.4 L347.6 387.2 L349.1 391.9 L350.6 396.3 L352.1 400.5 L353.6 404.5 L355.1 408.2 L356.6 411.7 L358.1 414.9 L359.6 417.9 L361.1 420.7 L362.6 423.2 L364.1 425.6 L365.6 427.7 L367.1 429.7 L368.6 431.4 L370.1 433.0 L371.6 434.4 L373.1 435.6 L374.6 436.8 L376.1 437.8 L377.6 438.8 L379.1 439.7 L380.6 440.5 L382.1 441.3 L383.6 442.0 L385.1 442.8 L386.6 443.4 L388.1 444.1 L389.6 444.7 L391.1 445.4 L392.6 446.0 L394.1 446.6 L395.6 447.2 L397.0 447.8 L398.5 448.3 L400.0 448.9 L401.5 449.5 L403.0 450.0 L404.5 450.6 L406.0 451.1 L407.5 451.6 L409.0 452.1 L410.5 452.6 L412.0 453.1 L413.5 453.5 L415.0 454.0 L416.5 454.4 L418.0 454.8 L419.5 455.1 L421.0 455.5 L422.5 455.9 L424.0 456.2 L425.5 456.6 L427.0 456.9 L428.5 457.2 L430.0 457.5 L431.5 457.8 L433.0 458.1 L434.5 458.4 L436.0 458.7 L437.5 458.9 L439.0 459.1 L440.5 459.3 L442.0 459.5 L443.5 459.6 L445.0 459.8 L446.5 459.9 L448.0 460.1 L449.5 460.2 L451.0 460.4 L452.5 460.5 L454.0 460.7 L455.5 460.8 L457.0 461.0 L458.5 461.1 L460.0 461.3 L461.5 461.4 L463.0 461.5 L464.5 461.7 L466.0 461.8 L467.5 461.9 L469.0 462.0 L470.5 462.1 L472.0 462.2 L473.5 462.3 L475.0 462.4 L476.5 462.5 L478.0 462.6 L479.5 462.7 L481.0 462.8 L482.5 462.9 L484.0 463.0 L485.5 463.0 L487.0 463.1 L488.5 463.2 L490.0 463.3 L491.5 463.4 L493.0 463.5 L494.5 463.6 L496.0 463.8 L497.5 463.9 L499.0 464.0 L500.5 464.1 L502.0 464.1 L503.5 464.2 L505.0 464.3 L506.5 464.4 L507.9 464.5 L509.4 464.6 L510.9 464.6 L512.4 464.7 L513.9 464.8 L515.4 464.8 L516.9 464.9 L518.4 465.0 L519.9 465.0 L521.4 465.0 L522.9 465.1 L524.4 465.1 L525.9 465.1 L527.4 465.2 L528.9 465.2 L530.4 465.2 L531.9 465.2 L533.4 465.3 L534.9 465.3 L536.4 465.3 L537.9 465.3 L539.4 465.3 L540.9 465.4 L542.4 465.4 L543.9 465.4 L545.4 465.4 L546.9 465.5 L548.4 465.5 L549.9 465.5 L551.4 465.6 L552.9 465.6 L554.4 465.6 L555.9 465.7 L557.4 465.7 L558.9 465.8 L560.4 465.8 L561.9 465.8 L563.4 465.9 L564.9 465.9 L566.4 465.9 L567.9 466.0 L569.4 466.0 L570.9 466.0 L572.4 466.1 L573.9 466.1 L575.4 466.1 L576.9 466.1 L578.4 466.1 L579.9 466.1 L581.4 466.2 L582.9 466.2 L584.4 466.2 L585.9 466.2 L587.4 466.2 L588.9 466.2 L590.4 466.2 L591.9 466.2 L593.4 466.2 L594.9 466.2 L596.4 466.2 L597.9 466.2 L599.4 466.2 L600.9 466.2 L602.4 466.2 L603.9 466.2 L605.4 466.2 L606.9 466.2 L608.4 466.2 L609.9 466.3 L611.4 466.3 L612.9 466.3 L614.4 466.3 L615.9 466.3 L617.4 466.3 L618.9 466.3 L620.3 466.3 L621.8 466.3 L623.3 466.3 L624.8 466.3 L626.3 466.3 L627.8 466.3 L629.3 466.3 L630.8 466.3 L632.3 466.3 L633.8 466.3 L635.3 466.3 L636.8 466.3 L638.3 466.3 L639.8 466.3 L641.3 466.3 L642.8 466.3 L644.3 466.3 L645.8 466.4 L647.3 466.4 L648.8 466.4 L650.3 466.4 L651.8 466.4 L653.3 466.4 L654.8 466.4 L656.3 466.4 L657.8 466.4 L659.3 466.4 L660.8 466.4 L662.3 466.4 L663.8 466.4 L665.3 466.4 L666.8 466.4 L668.3 466.4 L669.8 466.4 L671.3 466.4 L672.8 466.4 L674.3 466.4 L675.8 466.4 L677.3 466.4 L678.8 466.4 L680.3 466.4 L681.8 466.4 L683.3 466.4 L684.8 466.4 L686.3 466.4 L687.8 466.4 L689.3 466.4 L690.8 466.4 L692.3 466.4 L693.8 466.4 L695.3 466.4 L696.8 466.4 L698.3 466.4 L699.8 466.4 L701.3 466.5 L702.8 466.5 L704.3 466.5 L705.8 466.5 L707.3 466.5 L708.8 466.5 L710.3 466.5 L711.8 466.5 L713.3 466.5 L714.8 466.5 L716.3 466.5 L717.8 466.5 L719.3 466.5 L720.8 466.5 L722.3 466.5 L723.8 466.5 L725.3 466.5 L726.8 466.5 L728.3 466.5 L729.8 466.5 L731.2 466.5 L732.7 466.5 L734.2 466.5 L735.7 466.5 L737.2 466.5 L738.7 466.5 L740.2 466.5 L741.7 466.5 L743.2 466.5 L744.7 466.5 L746.2 466.5 L747.7 466.5 L749.2 466.5 L750.7 466.5 L752.2 466.5 L753.7 466.5 L755.2 466.5 L756.7 466.5 L758.2 466.5 L759.7 466.5 L761.2 466.5 L762.7 466.5 L764.2 466.5 L765.7 466.5 L767.2 466.5 L768.7 466.5 L770.2 466.5 L771.7 466.5 L773.2 466.5 L774.7 466.5 L776.2 466.5 L777.7 466.5 L779.2 466.5 L780.7 466.5 L782.2 466.5 L783.7 466.5 L785.2 466.5 L786.7 466.5" stroke="#1b1b7a"/>
<path d="M194.7 243.3 L196.2 246.7 L197.7 249.8 L199.2 252.3 L200.7 254.1 L202.2 255.5 L203.7 256.7 L205.2 257.7 L206.7 258.6 L208.2 259.2 L209.7 259.8 L211.2 260.3 L212.7 260.7 L214.2 261.1 L215.7 261.4 L217.2 261.6 L218.7 261.7 L220.2 261.8 L221.7 261.8 L223.2 261.8 L224.7 261.8 L226.2 261.7 L227.7 261.6 L229.2 261.4 L230.7 261.1 L232.2 260.7 L233.7 260.3 L235.2 259.7 L236.7 259.0 L238.2 258.2 L239.7 257.4 L241.2 256.5 L242.7 255.6 L244.2 254.6 L245.7 253.6 L247.2 252.6 L248.7 251.5 L250.2 250.3 L251.7 249.0 L253.2 247.6 L254.7 246.2 L256.2 244.8 L257.7 243.3 L259.2 241.9 L260.7 240.4 L262.2 239.1 L263.7 237.8 L265.2 236.5 L266.7 235.4 L268.2 234.4 L269.7 233.4 L271.2 232.5 L272.7 231.8 L274.2 231.1 L275.7 230.5 L277.2 229.9 L278.7 229.4 L280.2 229.0 L281.7 228.6 L283.2 228.3 L284.6 228.0 L286.1 227.8 L287.6 227.6 L289.1 227.4 L290.6 227.3 L292.1 227.2 L293.6 227.2 L295.1 227.1 L296.6 227.2 L298.1 227.3 L299.6 227.4 L301.1 227.7 L302.6 228.0 L304.1 228.4 L305.6 228.9 L307.1 229.4 L308.6 230.1 L310.1 230.9 L311.6 231.8 L313.1 232.8 L314.6 234.1 L316.1 235.5 L317.6 237.1 L319.1 239.0 L320.6 241.1 L322.1 243.3 L323.6 245.6 L325.1 248.0 L326.6 250.5 L328.1 253.1 L329.6 255.6 L331.1 258.2 L332.6 260.8 L334.1 263.5 L335.6 266.3 L337.1 269.4 L338.6 272.6 L340.1 276.1 L341.6 279.8 L343.1 283.6 L344.6 287.5 L346.1 291.4 L347.6 295.2 L349.1 298.9 L350.6 302.5 L352.1 306.0 L353.6 309.5 L355.1 313.0 L356.6 316.6 L358.1 320.4 L359.6 324.3 L361.1 328.3 L362.6 332.3 L364.1 336.2 L365.6 340.1 L367.1 343.8 L368.6 347.5 L370.1 351.0 L371.6 354.4 L373.1 357.7 L374.6 361.0 L376.1 364.2 L377.6 367.3 L379.1 370.4 L380.6 373.3 L382.1 376.0 L383.6 378.5 L385.1 380.9 L386.6 383.2 L388.1 385.3 L389.6 387.3 L391.1 389.2 L392.6 391.0 L394.1 392.7 L395.6 394.2 L397.0 395.7 L398.5 397.1 L400.0 398.3 L401.5 399.4 L403.0 400.5 L404.5 401.5 L406.0 402.5 L407.5 403.4 L409.0 404.3 L410.5 405.2 L412.0 406.1 L413.5 407.0 L415.0 407.9 L416.5 408.7 L418.0 409.6 L419.5 410.4 L421.0 411.2 L422.5 412.0 L424.0 412.7 L425.5 413.4 L427.0 414.1 L428.5 414.8 L430.0 415.5 L431.5 416.1 L433.0 416.8 L434.5 417.4 L436.0 418.0 L437.5 418.6 L439.0 419.1 L440.5 419.7 L442.0 420.3 L443.5 420.9 L445.0 421.4 L446.5 422.0 L448.0 422.6 L449.5 423.1 L451.0 423.7 L452.5 424.3 L454.0 424.9 L455.5 425.4 L457.0 426.0 L458.5 426.6 L460.0 427.2 L461.5 427.7 L463.0 428.3 L464.5 428.8 L466.0 429.4 L467.5 429.9 L469.0 430.5 L470.5 431.0 L472.0 431.5 L473.5 432.1 L475.0 432.6 L476.5 433.1 L478.0 433.6 L479.5 434.1 L481.0 434.6 L482.5 435.1 L484.0 435.5 L485.5 436.0 L487.0 436.4 L488.5 436.8 L490.0 437.1 L491.5 437.5 L493.0 437.8 L494.5 438.1 L496.0 438.4 L497.5 438.7 L499.0 438.9 L500.5 439.2 L502.0 439.4 L503.5 439.6 L505.0 439.8 L506.5 440.1 L507.9 440.3 L509.4 440.5 L510.9 440.7 L512.4 440.9 L513.9 441.1 L515.4 441.3 L516.9 441.6 L518.4 441.8 L519.9 442.0 L521.4 442.3 L522.9 442.5 L524.4 442.8 L525.9 443.0 L527.4 443.3 L528.9 443.5 L530.4 443.8 L531.9 444.1 L533.4 444.3 L534.9 444.6 L536.4 444.8 L537.9 445.0 L539.4 445.2 L540.9 445.4 L542.4 445.6 L543.9 445.7 L545.4 445.8 L546.9 446.0 L548.4 446.1 L549.9 446.2 L551.4 446.3 L552.9 446.3 L554.4 446.4 L555.9 446.5 L557.4 446.6 L558.9 446.6 L560.4 446.7 L561.9 446.8 L563.4 446.8 L564.9 446.9 L566.4 446.9 L567.9 447.0 L569.4 447.0 L570.9 447.1 L572.4 447.1 L573.9 447.2 L575.4 447.2 L576.9 447.3 L578.4 447.3 L579.9 447.3 L581.4 447.4 L582.9 447.4 L584.4 447.5 L585.9 447.5 L587.4 447.5 L588.9 447.6 L590.4 447.6 L591.9 447.6 L593.4 447.7 L594.9 447.7 L596.4 447.8 L597.9 447.8 L599.4 447.8 L600.9 447.9 L602.4 447.9 L603.9 448.0 L605.4 448.0 L606.9 448.0 L608.4 448.1 L609.9 448.1 L611.4 448.1 L612.9 448.2 L614.4 448.2 L615.9 448.2 L617.4 448.3 L618.9 448.3 L620.3 448.4 L621.8 448.4 L623.3 448.4 L624.8 448.5 L626.3 448.5 L627.8 448.5 L629.3 448.6 L630.8 448.6 L632.3 448.6 L633.8 448.7 L635.3 448.7 L636.8 448.7 L638.3 448.8 L639.8 448.8 L641.3 448.8 L642.8 448.9 L644.3 448.9 L645.8 448.9 L647.3 449.0 L648.8 449.0 L650.3 449.0 L651.8 449.1 L653.3 449.1 L654.8 449.1 L656.3 449.2 L657.8 449.2 L659.3 449.2 L660.8 449.3 L662.3 449.3 L663.8 449.3 L665.3 449.4 L666.8 449.4 L668.3 449.4 L669.8 449.4 L671.3 449.5 L672.8 449.5 L674.3 449.5 L675.8 449.6 L677.3 449.6 L678.8 449.6 L680.3 449.6 L681.8 449.7 L683.3 449.7 L684.8 449.7 L686.3 449.7 L687.8 449.8 L689.3 449.8 L690.8 449.8 L692.3 449.8 L693.8 449.9 L695.3 449.9 L696.8 449.9 L698.3 449.9 L699.8 450.0 L701.3 450.0 L702.8 450.0 L704.3 450.0 L705.8 450.1 L707.3 450.1 L708.8 450.1 L710.3 450.1 L711.8 450.1 L713.3 450.2 L714.8 450.2 L716.3 450.2 L717.8 450.2 L719.3 450.2 L720.8 450.3 L722.3 450.3 L723.8 450.3 L725.3 450.3 L726.8 450.3 L728.3 450.4 L729.8 450.4 L731.2 450.4 L732.7 450.4 L734.2 450.4 L735.7 450.4 L737.2 450.4 L738.7 450.5 L740.2 450.5 L741.7 450.5 L743.2 450.5 L744.7 450.5 L746.2 450.5 L747.7 450.5 L749.2 450.6 L750.7 450.6 L752.2 450.6 L753.7 450.6 L755.2 450.6 L756.7 450.6 L758.2 450.6 L759.7 450.6 L761.2 450.6 L762.7 450.6 L764.2 450.6 L765.7 450.7 L767.2 450.7 L768.7 450.7 L770.2 450.7 L771.7 450.7 L773.2 450.7 L774.7 450.7 L776.2 450.7 L777.7 450.7 L779.2 450.7 L780.7 450.7 L782.2 450.7 L783.7 450.7 L785.2 450.7 L786.7 450.7" stroke="#7a52b3" stroke-dasharray="11.5 11.3"/>
<path d="M194.7 254.3 L196.2 257.3 L197.7 260.0 L199.2 262.4 L200.7 264.3 L202.2 266.1 L203.7 267.7 L205.2 269.1 L206.7 270.2 L208.2 271.2 L209.7 272.1 L211.2 272.9 L212.7 273.5 L214.2 274.1 L215.7 274.5 L217.2 274.8 L218.7 275.1 L220.2 275.3 L221.7 275.4 L223.2 275.5 L224.7 275.5 L226.2 275.5 L227.7 275.4 L229.2 275.1 L230.7 274.7 L232.2 274.2 L233.7 273.5 L235.2 272.7 L236.7 271.7 L238.2 270.6 L239.7 269.4 L241.2 268.3 L242.7 267.0 L244.2 265.8 L245.7 264.6 L247.2 263.3 L248.7 262.0 L250.2 260.8 L251.7 259.5 L253.2 258.2 L254.7 256.9 L256.2 255.7 L257.7 254.5 L259.2 253.3 L260.7 252.2 L262.2 251.2 L263.7 250.2 L265.2 249.2 L266.7 248.3 L268.2 247.5 L269.7 246.7 L271.2 246.0 L272.7 245.3 L274.2 244.6 L275.7 244.0 L277.2 243.4 L278.7 242.9 L280.2 242.5 L281.7 242.1 L283.2 241.7 L284.6 241.4 L286.1 241.1 L287.6 240.9 L289.1 240.6 L290.6 240.4 L292.1 240.2 L293.6 240.1 L295.1 240.0 L296.6 239.9 L298.1 239.9 L299.6 240.0 L301.1 240.1 L302.6 240.3 L304.1 240.5 L305.6 240.8 L307.1 241.2 L308.6 241.6 L310.1 242.2 L311.6 242.8 L313.1 243.5 L314.6 244.3 L316.1 245.3 L317.6 246.4 L319.1 247.6 L320.6 249.0 L322.1 250.6 L323.6 252.2 L325.1 253.9 L326.6 255.7 L328.1 257.6 L329.6 259.5 L331.1 261.6 L332.6 263.7 L334.1 266.1 L335.6 268.7 L337.1 271.7 L338.6 275.0 L340.1 278.7 L341.6 282.7 L343.1 287.0 L344.6 291.3 L346.1 295.7 L347.6 300.0 L349.1 304.2 L350.6 308.2 L352.1 312.2 L353.6 316.2 L355.1 320.2 L356.6 324.2 L358.1 328.2 L359.6 332.2 L361.1 336.2 L362.6 340.1 L364.1 344.0 L365.6 347.7 L367.1 351.4 L368.6 355.0 L370.1 358.5 L371.6 361.9 L373.1 365.3 L374.6 368.5 L376.1 371.7 L377.6 374.7 L379.1 377.5 L380.6 380.1 L382.1 382.6 L383.6 385.0 L385.1 387.2 L386.6 389.4 L388.1 391.5 L389.6 393.5 L391.1 395.4 L392.6 397.2 L394.1 398.8 L395.6 400.3 L397.0 401.7 L398.5 403.0 L400.0 404.2 L401.5 405.3 L403.0 406.4 L404.5 407.4 L406.0 408.5 L407.5 409.5 L409.0 410.5 L410.5 411.4 L412.0 412.3 L413.5 413.1 L415.0 413.9 L416.5 414.6 L418.0 415.4 L419.5 416.1 L421.0 416.7 L422.5 417.4 L424.0 418.0 L425.5 418.6 L427.0 419.3 L428.5 419.9 L430.0 420.5 L431.5 421.1 L433.0 421.7 L434.5 422.3 L436.0 423.0 L437.5 423.6 L439.0 424.2 L440.5 424.8 L442.0 425.4 L443.5 426.1 L445.0 426.7 L446.5 427.3 L448.0 427.9 L449.5 428.5 L451.0 429.0 L452.5 429.6 L454.0 430.2 L455.5 430.8 L457.0 431.4 L458.5 432.0 L460.0 432.5 L461.5 433.1 L463.0 433.7 L464.5 434.3 L466.0 434.8 L467.5 435.3 L469.0 435.9 L470.5 436.4 L472.0 436.9 L473.5 437.3 L475.0 437.8 L476.5 438.2 L478.0 438.6 L479.5 439.0 L481.0 439.4 L482.5 439.8 L484.0 440.1 L485.5 440.5 L487.0 440.8 L488.5 441.1 L490.0 441.5 L491.5 441.8 L493.0 442.1 L494.5 442.4 L496.0 442.7 L497.5 442.9 L499.0 443.2 L500.5 443.5 L502.0 443.7 L503.5 444.0 L505.0 444.2 L506.5 444.5 L507.9 444.7 L509.4 444.9 L510.9 445.1 L512.4 445.4 L513.9 445.6 L515.4 445.8 L516.9 446.0 L518.4 446.2 L519.9 446.4 L521.4 446.6 L522.9 446.8 L524.4 447.1 L525.9 447.3 L527.4 447.5 L528.9 447.7 L530.4 447.9 L531.9 448.1 L533.4 448.3 L534.9 448.5 L536.4 448.7 L537.9 448.9 L539.4 449.0 L540.9 449.2 L542.4 449.3 L543.9 449.5 L545.4 449.6 L546.9 449.7 L548.4 449.8 L549.9 449.9 L551.4 450.0 L552.9 450.0 L554.4 450.1 L555.9 450.2 L557.4 450.3 L558.9 450.3 L560.4 450.4 L561.9 450.5 L563.4 450.5 L564.9 450.6 L566.4 450.6 L567.9 450.7 L569.4 450.7 L570.9 450.8 L572.4 450.8 L573.9 450.9 L575.4 450.9 L576.9 451.0 L578.4 451.0 L579.9 451.1 L581.4 451.1 L582.9 451.1 L584.4 451.2 L585.9 451.2 L587.4 451.3 L588.9 451.3 L590.4 451.3 L591.9 451.4 L593.4 451.4 L594.9 451.5 L596.4 451.5 L597.9 451.6 L599.4 451.6 L600.9 451.6 L602.4 451.7 L603.9 451.7 L605.4 451.8 L606.9 451.8 L608.4 451.8 L609.9 451.9 L611.4 451.9 L612.9 452.0 L614.4 452.0 L615.9 452.0 L617.4 452.1 L618.9 452.1 L620.3 452.2 L621.8 452.2 L623.3 452.2 L624.8 452.3 L626.3 452.3 L627.8 452.4 L629.3 452.4 L630.8 452.4 L632.3 452.5 L633.8 452.5 L635.3 452.5 L636.8 452.6 L638.3 452.6 L639.8 452.7 L641.3 452.7 L642.8 452.7 L644.3 452.8 L645.8 452.8 L647.3 452.8 L648.8 452.9 L650.3 452.9 L651.8 453.0 L653.3 453.0 L654.8 453.0 L656.3 453.1 L657.8 453.1 L659.3 453.1 L660.8 453.2 L662.3 453.2 L663.8 453.2 L665.3 453.3 L666.8 453.3 L668.3 453.3 L669.8 453.4 L671.3 453.4 L672.8 453.4 L674.3 453.5 L675.8 453.5 L677.3 453.5 L678.8 453.6 L680.3 453.6 L681.8 453.6 L683.3 453.6 L684.8 453.7 L686.3 453.7 L687.8 453.7 L689.3 453.8 L690.8 453.8 L692.3 453.8 L693.8 453.9 L695.3 453.9 L696.8 453.9 L698.3 453.9 L699.8 454.0 L701.3 454.0 L702.8 454.0 L704.3 454.0 L705.8 454.1 L707.3 454.1 L708.8 454.1 L710.3 454.1 L711.8 454.2 L713.3 454.2 L714.8 454.2 L716.3 454.2 L717.8 454.3 L719.3 454.3 L720.8 454.3 L722.3 454.3 L723.8 454.3 L725.3 454.4 L726.8 454.4 L728.3 454.4 L729.8 454.4 L731.2 454.4 L732.7 454.5 L734.2 454.5 L735.7 454.5 L737.2 454.5 L738.7 454.5 L740.2 454.5 L741.7 454.6 L743.2 454.6 L744.7 454.6 L746.2 454.6 L747.7 454.6 L749.2 454.6 L750.7 454.6 L752.2 454.7 L753.7 454.7 L755.2 454.7 L756.7 454.7 L758.2 454.7 L759.7 454.7 L761.2 454.7 L762.7 454.7 L764.2 454.7 L765.7 454.7 L767.2 454.8 L768.7 454.8 L770.2 454.8 L771.7 454.8 L773.2 454.8 L774.7 454.8 L776.2 454.8 L777.7 454.8 L779.2 454.8 L780.7 454.8 L782.2 454.8 L783.7 454.8 L785.2 454.8 L786.7 454.8" stroke="#8b1a8b" stroke-dasharray="11.5 11.3"/>
<path d="M194.7 256.8 L196.2 259.6 L197.7 262.2 L199.2 264.6 L200.7 266.7 L202.2 268.4 L203.7 269.7 L205.2 270.8 L206.7 271.8 L208.2 272.7 L209.7 273.4 L211.2 273.9 L212.7 274.3 L214.2 274.4 L215.7 274.6 L217.2 274.7 L218.7 274.8 L220.2 274.9 L221.7 274.9 L223.2 274.9 L224.7 274.9 L226.2 274.8 L227.7 274.6 L229.2 274.3 L230.7 273.8 L232.2 273.2 L233.7 272.3 L235.2 271.3 L236.7 270.2 L238.2 269.1 L239.7 268.0 L241.2 266.8 L242.7 265.7 L244.2 264.6 L245.7 263.5 L247.2 262.4 L248.7 261.3 L250.2 260.2 L251.7 259.0 L253.2 257.7 L254.7 256.4 L256.2 255.1 L257.7 253.7 L259.2 252.4 L260.7 251.0 L262.2 249.6 L263.7 248.3 L265.2 247.0 L266.7 245.7 L268.2 244.6 L269.7 243.4 L271.2 242.4 L272.7 241.4 L274.2 240.5 L275.7 239.6 L277.2 238.9 L278.7 238.3 L280.2 237.7 L281.7 237.1 L283.2 236.6 L284.6 236.2 L286.1 235.8 L287.6 235.4 L289.1 235.1 L290.6 234.8 L292.1 234.6 L293.6 234.4 L295.1 234.3 L296.6 234.2 L298.1 234.2 L299.6 234.2 L301.1 234.3 L302.6 234.4 L304.1 234.6 L305.6 234.8 L307.1 235.1 L308.6 235.6 L310.1 236.1 L311.6 236.9 L313.1 237.8 L314.6 238.8 L316.1 240.0 L317.6 241.3 L319.1 242.7 L320.6 244.2 L322.1 245.8 L323.6 247.5 L325.1 249.3 L326.6 251.3 L328.1 253.4 L329.6 255.7 L331.1 258.2 L332.6 260.9 L334.1 263.7 L335.6 266.8 L337.1 270.1 L338.6 273.7 L340.1 277.4 L341.6 281.4 L343.1 285.4 L344.6 289.5 L346.1 293.6 L347.6 297.6 L349.1 301.4 L350.6 305.2 L352.1 309.0 L353.6 312.7 L355.1 316.5 L356.6 320.3 L358.1 324.2 L359.6 328.2 L361.1 332.2 L362.6 336.1 L364.1 340.0 L365.6 343.8 L367.1 347.3 L368.6 350.7 L370.1 353.9 L371.6 356.9 L373.1 359.9 L374.6 363.0 L376.1 366.1 L377.6 369.3 L379.1 372.5 L380.6 375.7 L382.1 378.6 L383.6 381.4 L385.1 383.9 L386.6 386.2 L388.1 388.3 L389.6 390.3 L391.1 392.2 L392.6 394.0 L394.1 395.6 L395.6 397.1 L397.0 398.4 L398.5 399.6 L400.0 400.6 L401.5 401.6 L403.0 402.5 L404.5 403.3 L406.0 404.1 L407.5 404.9 L409.0 405.6 L410.5 406.4 L412.0 407.1 L413.5 407.9 L415.0 408.7 L416.5 409.4 L418.0 410.2 L419.5 410.9 L421.0 411.6 L422.5 412.4 L424.0 413.1 L425.5 413.8 L427.0 414.5 L428.5 415.2 L430.0 415.9 L431.5 416.6 L433.0 417.2 L434.5 417.9 L436.0 418.5 L437.5 419.2 L439.0 419.8 L440.5 420.4 L442.0 421.0 L443.5 421.6 L445.0 422.2 L446.5 422.8 L448.0 423.4 L449.5 424.0 L451.0 424.6 L452.5 425.2 L454.0 425.8 L455.5 426.4 L457.0 426.9 L458.5 427.5 L460.0 428.1 L461.5 428.6 L463.0 429.2 L464.5 429.7 L466.0 430.2 L467.5 430.7 L469.0 431.2 L470.5 431.7 L472.0 432.2 L473.5 432.7 L475.0 433.1 L476.5 433.6 L478.0 434.0 L479.5 434.5 L481.0 434.9 L482.5 435.3 L484.0 435.7 L485.5 436.2 L487.0 436.6 L488.5 437.0 L490.0 437.4 L491.5 437.8 L493.0 438.1 L494.5 438.5 L496.0 438.9 L497.5 439.3 L499.0 439.6 L500.5 440.0 L502.0 440.3 L503.5 440.6 L505.0 441.0 L506.5 441.3 L507.9 441.6 L509.4 441.9 L510.9 442.2 L512.4 442.5 L513.9 442.8 L515.4 443.1 L516.9 443.3 L518.4 443.6 L519.9 443.9 L521.4 444.2 L522.9 444.4 L524.4 444.7 L525.9 445.0 L527.4 445.2 L528.9 445.5 L530.4 445.7 L531.9 446.0 L533.4 446.2 L534.9 446.5 L536.4 446.7 L537.9 446.9 L539.4 447.1 L540.9 447.3 L542.4 447.4 L543.9 447.6 L545.4 447.7 L546.9 447.8 L548.4 447.9 L549.9 448.0 L551.4 448.1 L552.9 448.2 L554.4 448.3 L555.9 448.4 L557.4 448.4 L558.9 448.5 L560.4 448.6 L561.9 448.6 L563.4 448.7 L564.9 448.7 L566.4 448.8 L567.9 448.8 L569.4 448.9 L570.9 448.9 L572.4 449.0 L573.9 449.0 L575.4 449.1 L576.9 449.1 L578.4 449.2 L579.9 449.2 L581.4 449.2 L582.9 449.3 L584.4 449.3 L585.9 449.4 L587.4 449.4 L588.9 449.4 L590.4 449.5 L591.9 449.5 L593.4 449.5 L594.9 449.6 L596.4 449.6 L597.9 449.7 L599.4 449.7 L600.9 449.7 L602.4 449.8 L603.9 449.8 L605.4 449.9 L606.9 449.9 L608.4 449.9 L609.9 450.0 L611.4 450.0 L612.9 450.0 L614.4 450.1 L615.9 450.1 L617.4 450.2 L618.9 450.2 L620.3 450.2 L621.8 450.3 L623.3 450.3 L624.8 450.3 L626.3 450.4 L627.8 450.4 L629.3 450.4 L630.8 450.5 L632.3 450.5 L633.8 450.5 L635.3 450.6 L636.8 450.6 L638.3 450.6 L639.8 450.7 L641.3 450.7 L642.8 450.8 L644.3 450.8 L645.8 450.8 L647.3 450.9 L648.8 450.9 L650.3 450.9 L651.8 450.9 L653.3 451.0 L654.8 451.0 L656.3 451.0 L657.8 451.1 L659.3 451.1 L660.8 451.1 L662.3 451.2 L663.8 451.2 L665.3 451.2 L666.8 451.3 L668.3 451.3 L669.8 451.3 L671.3 451.4 L672.8 451.4 L674.3 451.4 L675.8 451.4 L677.3 451.5 L678.8 451.5 L680.3 451.5 L681.8 451.5 L683.3 451.6 L684.8 451.6 L686.3 451.6 L687.8 451.7 L689.3 451.7 L690.8 451.7 L692.3 451.7 L693.8 451.8 L695.3 451.8 L696.8 451.8 L698.3 451.8 L699.8 451.9 L701.3 451.9 L702.8 451.9 L704.3 451.9 L705.8 451.9 L707.3 452.0 L708.8 452.0 L710.3 452.0 L711.8 452.0 L713.3 452.1 L714.8 452.1 L716.3 452.1 L717.8 452.1 L719.3 452.1 L720.8 452.2 L722.3 452.2 L723.8 452.2 L725.3 452.2 L726.8 452.2 L728.3 452.2 L729.8 452.3 L731.2 452.3 L732.7 452.3 L734.2 452.3 L735.7 452.3 L737.2 452.3 L738.7 452.4 L740.2 452.4 L741.7 452.4 L743.2 452.4 L744.7 452.4 L746.2 452.4 L747.7 452.4 L749.2 452.4 L750.7 452.5 L752.2 452.5 L753.7 452.5 L755.2 452.5 L756.7 452.5 L758.2 452.5 L759.7 452.5 L761.2 452.5 L762.7 452.5 L764.2 452.5 L765.7 452.6 L767.2 452.6 L768.7 452.6 L770.2 452.6 L771.7 452.6 L773.2 452.6 L774.7 452.6 L776.2 452.6 L777.7 452.6 L779.2 452.6 L780.7 452.6 L782.2 452.6 L783.7 452.6 L785.2 452.6 L786.7 452.6" stroke="#8b1420" stroke-dasharray="3 11"/>
<path d="M194.7 241.6 L196.2 245.9 L197.7 249.8 L199.2 253.3 L200.7 256.3 L202.2 258.9 L203.7 261.2 L205.2 263.3 L206.7 265.1 L208.2 266.7 L209.7 268.1 L211.2 269.3 L212.7 270.4 L214.2 271.2 L215.7 271.9 L217.2 272.4 L218.7 272.9 L220.2 273.2 L221.7 273.5 L223.2 273.7 L224.7 273.8 L226.2 273.8 L227.7 273.8 L229.2 273.7 L230.7 273.6 L232.2 273.4 L233.7 273.1 L235.2 272.7 L236.7 272.2 L238.2 271.6 L239.7 270.9 L241.2 270.2 L242.7 269.3 L244.2 268.4 L245.7 267.4 L247.2 266.4 L248.7 265.3 L250.2 264.2 L251.7 263.0 L253.2 261.8 L254.7 260.5 L256.2 259.2 L257.7 257.9 L259.2 256.5 L260.7 255.2 L262.2 253.8 L263.7 252.5 L265.2 251.3 L266.7 250.0 L268.2 248.9 L269.7 247.7 L271.2 246.6 L272.7 245.6 L274.2 244.5 L275.7 243.5 L277.2 242.6 L278.7 241.7 L280.2 240.8 L281.7 239.9 L283.2 239.1 L284.6 238.3 L286.1 237.5 L287.6 236.7 L289.1 236.0 L290.6 235.2 L292.1 234.5 L293.6 233.8 L295.1 233.1 L296.6 232.4 L298.1 231.7 L299.6 231.1 L301.1 230.5 L302.6 229.9 L304.1 229.4 L305.6 228.9 L307.1 228.4 L308.6 228.0 L310.1 227.7 L311.6 227.4 L313.1 227.2 L314.6 227.1 L316.1 227.0 L317.6 226.9 L319.1 226.9 L320.6 226.9 L322.1 227.0 L323.6 227.1 L325.1 227.3 L326.6 227.6 L328.1 228.0 L329.6 228.6 L331.1 229.5 L332.6 230.5 L334.1 231.8 L335.6 233.4 L337.1 235.1 L338.6 237.1 L340.1 239.1 L341.6 241.3 L343.1 243.6 L344.6 246.0 L346.1 248.5 L347.6 251.2 L349.1 254.0 L350.6 257.0 L352.1 260.1 L353.6 263.4 L355.1 266.7 L356.6 270.2 L358.1 273.8 L359.6 277.5 L361.1 281.3 L362.6 285.3 L364.1 289.4 L365.6 293.7 L367.1 298.0 L368.6 302.3 L370.1 306.5 L371.6 310.5 L373.1 314.4 L374.6 318.1 L376.1 321.7 L377.6 325.2 L379.1 328.6 L380.6 331.9 L382.1 335.1 L383.6 338.1 L385.1 341.1 L386.6 343.9 L388.1 346.5 L389.6 349.1 L391.1 351.5 L392.6 353.7 L394.1 355.9 L395.6 357.9 L397.0 359.7 L398.5 361.5 L400.0 363.1 L401.5 364.6 L403.0 366.1 L404.5 367.5 L406.0 368.9 L407.5 370.2 L409.0 371.5 L410.5 372.7 L412.0 373.9 L413.5 375.1 L415.0 376.2 L416.5 377.4 L418.0 378.5 L419.5 379.6 L421.0 380.6 L422.5 381.6 L424.0 382.7 L425.5 383.7 L427.0 384.7 L428.5 385.7 L430.0 386.7 L431.5 387.6 L433.0 388.6 L434.5 389.6 L436.0 390.6 L437.5 391.5 L439.0 392.5 L440.5 393.4 L442.0 394.3 L443.5 395.3 L445.0 396.2 L446.5 397.1 L448.0 397.9 L449.5 398.8 L451.0 399.7 L452.5 400.6 L454.0 401.6 L455.5 402.5 L457.0 403.4 L458.5 404.3 L460.0 405.1 L461.5 406.0 L463.0 406.8 L464.5 407.6 L466.0 408.3 L467.5 409.0 L469.0 409.7 L470.5 410.4 L472.0 411.1 L473.5 411.7 L475.0 412.3 L476.5 413.0 L478.0 413.6 L479.5 414.2 L481.0 414.8 L482.5 415.4 L484.0 416.0 L485.5 416.6 L487.0 417.2 L488.5 417.8 L490.0 418.3 L491.5 418.9 L493.0 419.4 L494.5 420.0 L496.0 420.5 L497.5 421.0 L499.0 421.5 L500.5 422.0 L502.0 422.5 L503.5 422.9 L505.0 423.4 L506.5 423.8 L507.9 424.3 L509.4 424.7 L510.9 425.1 L512.4 425.5 L513.9 425.9 L515.4 426.3 L516.9 426.7 L518.4 427.0 L519.9 427.4 L521.4 427.7 L522.9 428.1 L524.4 428.4 L525.9 428.8 L527.4 429.1 L528.9 429.4 L530.4 429.7 L531.9 430.0 L533.4 430.3 L534.9 430.6 L536.4 430.9 L537.9 431.2 L539.4 431.4 L540.9 431.7 L542.4 431.9 L543.9 432.1 L545.4 432.4 L546.9 432.6 L548.4 432.8 L549.9 433.0 L551.4 433.2 L552.9 433.4 L554.4 433.5 L555.9 433.7 L557.4 433.9 L558.9 434.1 L560.4 434.2 L561.9 434.4 L563.4 434.5 L564.9 434.7 L566.4 434.8 L567.9 435.0 L569.4 435.1 L570.9 435.2 L572.4 435.4 L573.9 435.5 L575.4 435.6 L576.9 435.7 L578.4 435.9 L579.9 436.0 L581.4 436.1 L582.9 436.2 L584.4 436.3 L585.9 436.4 L587.4 436.5 L588.9 436.6 L590.4 436.7 L591.9 436.8 L593.4 436.9 L594.9 437.0 L596.4 437.1 L597.9 437.2 L599.4 437.3 L600.9 437.4 L602.4 437.5 L603.9 437.7 L605.4 437.8 L606.9 437.9 L608.4 438.0 L609.9 438.1 L611.4 438.2 L612.9 438.3 L614.4 438.4 L615.9 438.5 L617.4 438.6 L618.9 438.7 L620.3 438.8 L621.8 438.9 L623.3 439.0 L624.8 439.1 L626.3 439.2 L627.8 439.3 L629.3 439.4 L630.8 439.5 L632.3 439.6 L633.8 439.7 L635.3 439.8 L636.8 439.9 L638.3 440.0 L639.8 440.1 L641.3 440.2 L642.8 440.3 L644.3 440.3 L645.8 440.4 L647.3 440.5 L648.8 440.6 L650.3 440.7 L651.8 440.8 L653.3 440.9 L654.8 441.0 L656.3 441.1 L657.8 441.2 L659.3 441.3 L660.8 441.4 L662.3 441.4 L663.8 441.5 L665.3 441.6 L666.8 441.7 L668.3 441.8 L669.8 441.9 L671.3 442.0 L672.8 442.0 L674.3 442.1 L675.8 442.2 L677.3 442.3 L678.8 442.4 L680.3 442.5 L681.8 442.5 L683.3 442.6 L684.8 442.7 L686.3 442.8 L687.8 442.8 L689.3 442.9 L690.8 443.0 L692.3 443.1 L693.8 443.1 L695.3 443.2 L696.8 443.3 L698.3 443.4 L699.8 443.4 L701.3 443.5 L702.8 443.6 L704.3 443.6 L705.8 443.7 L707.3 443.8 L708.8 443.8 L710.3 443.9 L711.8 443.9 L713.3 444.0 L714.8 444.1 L716.3 444.1 L717.8 444.2 L719.3 444.2 L720.8 444.3 L722.3 444.4 L723.8 444.4 L725.3 444.5 L726.8 444.5 L728.3 444.6 L729.8 444.6 L731.2 444.7 L732.7 444.7 L734.2 444.8 L735.7 444.8 L737.2 444.8 L738.7 444.9 L740.2 444.9 L741.7 445.0 L743.2 445.0 L744.7 445.0 L746.2 445.1 L747.7 445.1 L749.2 445.2 L750.7 445.2 L752.2 445.2 L753.7 445.3 L755.2 445.3 L756.7 445.3 L758.2 445.3 L759.7 445.4 L761.2 445.4 L762.7 445.4 L764.2 445.4 L765.7 445.5 L767.2 445.5 L768.7 445.5 L770.2 445.5 L771.7 445.5 L773.2 445.5 L774.7 445.5 L776.2 445.6 L777.7 445.6 L779.2 445.6 L780.7 445.6 L782.2 445.6 L783.7 445.6 L785.2 445.6 L786.7 445.6" stroke="#8c8c1e" stroke-dasharray="5.5 4.7"/>
<path d="M194.9 355.0 L196.4 356.7 L197.9 358.3 L199.4 359.8 L200.9 361.2 L202.4 362.5 L203.9 363.6 L205.4 364.7 L206.9 365.8 L208.4 366.7 L209.9 367.6 L211.4 368.3 L212.9 368.9 L214.4 369.5 L215.9 370.0 L217.4 370.5 L218.9 370.9 L220.3 371.3 L221.8 371.6 L223.3 371.9 L224.8 372.2 L226.3 372.4 L227.8 372.6 L229.3 372.8 L230.8 372.9 L232.3 372.9 L233.8 372.9 L235.3 372.9 L236.8 372.8 L238.3 372.6 L239.8 372.4 L241.3 372.2 L242.8 371.9 L244.3 371.6 L245.8 371.3 L247.3 370.9 L248.8 370.6 L250.3 370.2 L251.8 369.8 L253.3 369.4 L254.8 369.0 L256.3 368.5 L257.8 368.1 L259.3 367.7 L260.8 367.2 L262.3 366.8 L263.8 366.4 L265.3 365.9 L266.8 365.5 L268.3 365.1 L269.8 364.6 L271.3 364.2 L272.8 363.8 L274.3 363.3 L275.8 362.9 L277.3 362.5 L278.8 362.1 L280.3 361.7 L281.8 361.3 L283.3 360.9 L284.8 360.5 L286.3 360.1 L287.8 359.7 L289.3 359.3 L290.8 358.9 L292.3 358.6 L293.8 358.2 L295.3 357.8 L296.8 357.5 L298.3 357.1 L299.8 356.8 L301.3 356.4 L302.8 356.1 L304.3 355.8 L305.8 355.5 L307.2 355.2 L308.7 355.0 L310.2 354.8 L311.7 354.6 L313.2 354.5 L314.7 354.4 L316.2 354.2 L317.7 354.1 L319.2 354.1 L320.7 354.0 L322.2 354.0 L323.7 354.0 L325.2 354.0 L326.7 354.1 L328.2 354.2 L329.7 354.4 L331.2 354.6 L332.7 354.8 L334.2 355.2 L335.7 355.6 L337.2 356.2 L338.7 356.8 L340.2 357.5 L341.7 358.3 L343.2 359.1 L344.7 359.9 L346.2 360.7 L347.7 361.6 L349.2 362.5 L350.7 363.5 L352.2 364.6 L353.7 365.8 L355.2 367.0 L356.7 368.4 L358.2 369.8 L359.7 371.2 L361.2 372.7 L362.7 374.1 L364.2 375.5 L365.7 376.8 L367.2 378.3 L368.7 379.7 L370.2 381.3 L371.7 382.8 L373.2 384.4 L374.7 386.0 L376.2 387.6 L377.7 389.1 L379.2 390.5 L380.7 391.9 L382.2 393.3 L383.7 394.6 L385.2 395.9 L386.7 397.1 L388.2 398.4 L389.7 399.6 L391.2 400.8 L392.7 401.9 L394.2 403.0 L395.6 404.1 L397.1 405.1 L398.6 406.0 L400.1 406.9 L401.6 407.8 L403.1 408.6 L404.6 409.4 L406.1 410.2 L407.6 411.0 L409.1 411.8 L410.6 412.5 L412.1 413.3 L413.6 414.0 L415.1 414.6 L416.6 415.3 L418.1 415.9 L419.6 416.4 L421.1 417.0 L422.6 417.5 L424.1 418.0 L425.6 418.5 L427.1 419.0 L428.6 419.4 L430.1 419.9 L431.6 420.4 L433.1 420.9 L434.6 421.3 L436.1 421.8 L437.6 422.3 L439.1 422.8 L440.6 423.3 L442.1 423.8 L443.6 424.3 L445.1 424.8 L446.6 425.3 L448.1 425.8 L449.6 426.3 L451.1 426.8 L452.6 427.2 L454.1 427.7 L455.6 428.1 L457.1 428.6 L458.6 429.0 L460.1 429.5 L461.6 429.9 L463.1 430.4 L464.6 430.8 L466.1 431.2 L467.6 431.7 L469.1 432.1 L470.6 432.6 L472.1 433.0 L473.6 433.4 L475.1 433.9 L476.6 434.3 L478.1 434.7 L479.6 435.2 L481.1 435.6 L482.5 436.0 L484.0 436.3 L485.5 436.7 L487.0 437.1 L488.5 437.4 L490.0 437.8 L491.5 438.1 L493.0 438.4 L494.5 438.7 L496.0 439.0 L497.5 439.3 L499.0 439.5 L500.5 439.8 L502.0 440.1 L503.5 440.4 L505.0 440.6 L506.5 440.9 L508.0 441.2 L509.5 441.4 L511.0 441.7 L512.5 442.0 L514.0 442.2 L515.5 442.5 L517.0 442.7 L518.5 443.0 L520.0 443.2 L521.5 443.5 L523.0 443.7 L524.5 444.0 L526.0 444.2 L527.5 444.4 L529.0 444.7 L530.5 444.9 L532.0 445.1 L533.5 445.3 L535.0 445.5 L536.5 445.7 L538.0 445.9 L539.5 446.1 L541.0 446.3 L542.5 446.5 L544.0 446.6 L545.5 446.8 L547.0 446.9 L548.5 447.1 L550.0 447.2 L551.5 447.3 L553.0 447.5 L554.5 447.6 L556.0 447.7 L557.5 447.8 L559.0 447.9 L560.5 448.0 L562.0 448.1 L563.5 448.2 L565.0 448.3 L566.5 448.4 L568.0 448.5 L569.4 448.6 L570.9 448.7 L572.4 448.8 L573.9 448.9 L575.4 448.9 L576.9 449.0 L578.4 449.1 L579.9 449.2 L581.4 449.3 L582.9 449.4 L584.4 449.5 L585.9 449.6 L587.4 449.6 L588.9 449.7 L590.4 449.8 L591.9 449.9 L593.4 450.0 L594.9 450.1 L596.4 450.2 L597.9 450.3 L599.4 450.3 L600.9 450.4 L602.4 450.5 L603.9 450.6 L605.4 450.7 L606.9 450.8 L608.4 450.9 L609.9 450.9 L611.4 451.0 L612.9 451.1 L614.4 451.2 L615.9 451.3 L617.4 451.4 L618.9 451.4 L620.4 451.5 L621.9 451.6 L623.4 451.7 L624.9 451.8 L626.4 451.9 L627.9 451.9 L629.4 452.0 L630.9 452.1 L632.4 452.2 L633.9 452.3 L635.4 452.4 L636.9 452.4 L638.4 452.5 L639.9 452.6 L641.4 452.7 L642.9 452.8 L644.4 452.8 L645.9 452.9 L647.4 453.0 L648.9 453.1 L650.4 453.2 L651.9 453.2 L653.4 453.3 L654.9 453.4 L656.3 453.5 L657.8 453.6 L659.3 453.6 L660.8 453.7 L662.3 453.8 L663.8 453.9 L665.3 453.9 L666.8 454.0 L668.3 454.1 L669.8 454.2 L671.3 454.3 L672.8 454.3 L674.3 454.4 L675.8 454.5 L677.3 454.6 L678.8 454.6 L680.3 454.7 L681.8 454.8 L683.3 454.8 L684.8 454.9 L686.3 455.0 L687.8 455.1 L689.3 455.1 L690.8 455.2 L692.3 455.3 L693.8 455.3 L695.3 455.4 L696.8 455.5 L698.3 455.6 L699.8 455.6 L701.3 455.7 L702.8 455.8 L704.3 455.8 L705.8 455.9 L707.3 456.0 L708.8 456.0 L710.3 456.1 L711.8 456.2 L713.3 456.2 L714.8 456.3 L716.3 456.4 L717.8 456.4 L719.3 456.5 L720.8 456.6 L722.3 456.6 L723.8 456.7 L725.3 456.7 L726.8 456.8 L728.3 456.9 L729.8 456.9 L731.3 457.0 L732.8 457.1 L734.3 457.1 L735.8 457.2 L737.3 457.2 L738.8 457.3 L740.3 457.3 L741.8 457.4 L743.2 457.5 L744.7 457.5 L746.2 457.6 L747.7 457.6 L749.2 457.7 L750.7 457.7 L752.2 457.8 L753.7 457.8 L755.2 457.9 L756.7 458.0 L758.2 458.0 L759.7 458.1 L761.2 458.1 L762.7 458.2 L764.2 458.2 L765.7 458.3 L767.2 458.3 L768.7 458.4 L770.2 458.4 L771.7 458.5 L773.2 458.5 L774.7 458.5 L776.2 458.6 L777.7 458.6 L779.2 458.7 L780.7 458.7 L782.2 458.8 L783.7 458.8 L785.2 458.8 L786.7 458.9" stroke="#2a69a8" stroke-dasharray="11.5 11.3"/>
</g>
<g stroke="#000" stroke-width="2" fill="none" stroke-linecap="butt">
<path d="M194.8 44.8 V482.0"/>
<path d="M193.8 481.0 H787.7"/>
<path d="M185.5 481.0 H194.8"/>
<path d="M189.8 426.6 H194.8"/>
<path d="M185.5 372.2 H194.8"/>
<path d="M189.8 317.8 H194.8"/>
<path d="M185.5 263.4 H194.8"/>
<path d="M189.8 209.0 H194.8"/>
<path d="M185.5 154.6 H194.8"/>
<path d="M189.8 100.2 H194.8"/>
<path d="M185.5 45.8 H194.8"/>
<path d="M248.6 481.0 V490.3"/>
<path d="M338.3 481.0 V486.0"/>
<path d="M428.0 481.0 V490.3"/>
<path d="M517.7 481.0 V486.0"/>
<path d="M607.3 481.0 V490.3"/>
<path d="M697.0 481.0 V486.0"/>
<path d="M786.7 481.0 V490.3"/>
</g>
<text x="180.3" y="489.7" font-size="28.0" text-anchor="end">0.0</text>
<text x="180.3" y="380.9" font-size="28.0" text-anchor="end">0.2</text>
<text x="180.3" y="272.1" font-size="28.0" text-anchor="end">0.4</text>
<text x="180.3" y="163.3" font-size="28.0" text-anchor="end">0.6</text>
<text x="180.3" y="54.5" font-size="28.0" text-anchor="end">0.8</text>
<text x="248.6" y="513.0" font-size="28.0" text-anchor="middle">300</text>
<text x="428.0" y="513.0" font-size="28.0" text-anchor="middle">400</text>
<text x="607.3" y="513.0" font-size="28.0" text-anchor="middle">500</text>
<text x="786.7" y="513.0" font-size="28.0" text-anchor="middle">600</text>
<text x="490.7" y="554.1" font-size="28.0" text-anchor="middle">Wavelength/nm</text>
<text transform="translate(111.4 264.5) rotate(-90)" font-size="28.0" text-anchor="middle">Absorbance/a.u.</text>
<text x="89.6" y="55.3" font-size="28.0">(a)</text>
<text x="669.5" y="64.5" font-size="24.5" text-anchor="start" fill="#000"><tspan font-style="italic">f</tspan><tspan font-size="15.2" dy="6.6">w</tspan><tspan dy="-6.6">/%</tspan></text>
<path d="M669.9 93.6 H722.3" stroke="#000000" stroke-width="2.5" stroke-linecap="round" fill="none"/>
<text x="728" y="102.0" font-size="24.5">0</text>
<path d="M669.9 125.0 H722.3" stroke="#ee1c25" stroke-width="2.5" stroke-linecap="round" fill="none"/>
<text x="728" y="133.4" font-size="24.5">10</text>
<path d="M669.9 156.7 H722.3" stroke="#2e3f9e" stroke-width="2.5" stroke-linecap="round" fill="none"/>
<text x="728" y="165.1" font-size="24.5">20</text>
<path d="M669.9 188.1 H722.3" stroke="#c2509f" stroke-width="2.5" stroke-linecap="round" fill="none"/>
<text x="728" y="196.5" font-size="24.5">30</text>
<path d="M669.9 219.8 H722.3" stroke="#0f7f3f" stroke-width="2.5" stroke-linecap="round" fill="none"/>
<text x="728" y="228.2" font-size="24.5">40</text>
<path d="M669.9 251.7 H722.3" stroke="#1b1b7a" stroke-width="2.5" stroke-linecap="round" fill="none"/>
<text x="728" y="260.1" font-size="24.5">50</text>
<path d="M668.9 283.0 H723.3" stroke="#7a52b3" stroke-width="2.5" fill="none" stroke-dasharray="11.5 11.3"/>
<text x="728" y="291.4" font-size="24.5">60</text>
<path d="M668.9 314.6 H723.3" stroke="#8b1a8b" stroke-width="2.5" fill="none" stroke-dasharray="11.5 11.3"/>
<text x="728" y="323.0" font-size="24.5">70</text>
<path d="M668.9 346.1 H723.3" stroke="#8b1420" stroke-width="2.5" fill="none" stroke-dasharray="3 11"/>
<text x="728" y="354.5" font-size="24.5">80</text>
<path d="M668.9 377.7 H723.3" stroke="#8c8c1e" stroke-width="2.5" fill="none" stroke-dasharray="5.5 4.7"/>
<text x="728" y="386.1" font-size="24.5">90</text>
<path d="M668.9 409.2 H723.3" stroke="#2a69a8" stroke-width="2.5" fill="none" stroke-dasharray="11.5 11.3"/>
<text x="728" y="417.6" font-size="24.5">100</text>
</g>
<g id="chart-b">
<clipPath id="clipB"><rect x="215.0" y="620" width="599.7" height="455.0"/></clipPath>
<g clip-path="url(#clipB)" fill="none" stroke-width="2.3" stroke-linejoin="round">
<path d="M215.0 1044.6 L217.0 1045.0 L219.0 1045.4 L221.0 1045.8 L223.0 1046.1 L225.0 1046.4 L227.0 1046.7 L229.0 1046.9 L231.0 1047.1 L233.0 1047.3 L235.0 1047.4 L237.0 1047.5 L239.0 1047.7 L241.0 1047.8 L243.0 1047.9 L245.0 1048.0 L247.0 1048.1 L249.0 1048.2 L251.0 1048.3 L253.0 1048.4 L254.9 1048.5 L256.9 1048.5 L258.9 1048.6 L260.9 1048.7 L262.9 1048.8 L264.9 1048.8 L266.9 1048.9 L268.9 1049.0 L270.9 1049.0 L272.9 1049.1 L274.9 1049.2 L276.9 1049.2 L278.9 1049.3 L280.9 1049.3 L282.9 1049.4 L284.9 1049.5 L286.9 1049.5 L288.9 1049.6 L290.9 1049.6 L292.9 1049.7 L294.9 1049.7 L296.9 1049.8 L298.9 1049.9 L300.9 1049.9 L302.9 1050.0 L304.9 1050.0 L306.9 1050.1 L308.9 1050.2 L310.9 1050.2 L312.9 1050.3 L314.9 1050.4 L316.9 1050.5 L318.9 1050.5 L320.9 1050.6 L322.9 1050.7 L324.9 1050.8 L326.9 1050.9 L328.9 1050.9 L330.8 1051.0 L332.8 1051.1 L334.8 1051.2 L336.8 1051.3 L338.8 1051.3 L340.8 1051.4 L342.8 1051.5 L344.8 1051.6 L346.8 1051.6 L348.8 1051.7 L350.8 1051.8 L352.8 1051.8 L354.8 1051.9 L356.8 1051.9 L358.8 1052.0 L360.8 1052.0 L362.8 1052.0 L364.8 1052.1 L366.8 1052.1 L368.8 1052.1 L370.8 1052.1 L372.8 1052.1 L374.8 1052.2 L376.8 1052.2 L378.8 1052.2 L380.8 1052.2 L382.8 1052.1 L384.8 1052.1 L386.8 1052.1 L388.8 1052.1 L390.8 1052.1 L392.8 1052.1 L394.8 1052.0 L396.8 1052.0 L398.8 1052.0 L400.8 1052.0 L402.8 1051.9 L404.8 1051.9 L406.8 1051.9 L408.7 1051.9 L410.7 1051.8 L412.7 1051.8 L414.7 1051.7 L416.7 1051.7 L418.7 1051.7 L420.7 1051.6 L422.7 1051.6 L424.7 1051.6 L426.7 1051.5 L428.7 1051.5 L430.7 1051.4 L432.7 1051.4 L434.7 1051.3 L436.7 1051.3 L438.7 1051.2 L440.7 1051.2 L442.7 1051.1 L444.7 1051.1 L446.7 1051.0 L448.7 1050.9 L450.7 1050.9 L452.7 1050.8 L454.7 1050.7 L456.7 1050.6 L458.7 1050.5 L460.7 1050.4 L462.7 1050.3 L464.7 1050.2 L466.7 1050.1 L468.7 1050.0 L470.7 1049.9 L472.7 1049.8 L474.7 1049.7 L476.7 1049.6 L478.7 1049.5 L480.7 1049.4 L482.7 1049.3 L484.6 1049.1 L486.6 1049.0 L488.6 1048.9 L490.6 1048.8 L492.6 1048.7 L494.6 1048.5 L496.6 1048.4 L498.6 1048.3 L500.6 1048.2 L502.6 1048.0 L504.6 1047.9 L506.6 1047.8 L508.6 1047.7 L510.6 1047.5 L512.6 1047.4 L514.6 1047.3 L516.6 1047.1 L518.6 1047.0 L520.6 1046.9 L522.6 1046.7 L524.6 1046.6 L526.6 1046.5 L528.6 1046.3 L530.6 1046.2 L532.6 1046.0 L534.6 1045.9 L536.6 1045.7 L538.6 1045.6 L540.6 1045.5 L542.6 1045.3 L544.6 1045.2 L546.6 1045.0 L548.6 1044.9 L550.6 1044.7 L552.6 1044.6 L554.6 1044.4 L556.6 1044.3 L558.6 1044.1 L560.6 1044.0 L562.5 1043.8 L564.5 1043.7 L566.5 1043.6 L568.5 1043.4 L570.5 1043.3 L572.5 1043.2 L574.5 1043.1 L576.5 1043.0 L578.5 1042.9 L580.5 1042.8 L582.5 1042.7 L584.5 1042.6 L586.5 1042.6 L588.5 1042.5 L590.5 1042.4 L592.5 1042.3 L594.5 1042.3 L596.5 1042.2 L598.5 1042.2 L600.5 1042.1 L602.5 1042.1 L604.5 1042.1 L606.5 1042.1 L608.5 1042.0 L610.5 1042.0 L612.5 1042.0 L614.5 1042.0 L616.5 1042.0 L618.5 1042.0 L620.5 1042.0 L622.5 1042.0 L624.5 1042.0 L626.5 1042.0 L628.5 1042.0 L630.5 1042.0 L632.5 1042.0 L634.5 1042.0 L636.5 1042.0 L638.4 1042.0 L640.4 1042.1 L642.4 1042.1 L644.4 1042.1 L646.4 1042.2 L648.4 1042.3 L650.4 1042.3 L652.4 1042.4 L654.4 1042.5 L656.4 1042.6 L658.4 1042.7 L660.4 1042.8 L662.4 1042.9 L664.4 1043.1 L666.4 1043.2 L668.4 1043.3 L670.4 1043.5 L672.4 1043.6 L674.4 1043.7 L676.4 1043.9 L678.4 1044.0 L680.4 1044.1 L682.4 1044.3 L684.4 1044.4 L686.4 1044.6 L688.4 1044.7 L690.4 1044.9 L692.4 1045.1 L694.4 1045.2 L696.4 1045.4 L698.4 1045.6 L700.4 1045.8 L702.4 1045.9 L704.4 1046.1 L706.4 1046.3 L708.4 1046.5 L710.4 1046.7 L712.4 1046.9 L714.4 1047.1 L716.3 1047.3 L718.3 1047.5 L720.3 1047.7 L722.3 1047.9 L724.3 1048.1 L726.3 1048.3 L728.3 1048.5 L730.3 1048.7 L732.3 1048.9 L734.3 1049.1 L736.3 1049.3 L738.3 1049.5 L740.3 1049.7 L742.3 1049.8 L744.3 1050.0 L746.3 1050.2 L748.3 1050.3 L750.3 1050.5 L752.3 1050.7 L754.3 1050.8 L756.3 1051.0 L758.3 1051.1 L760.3 1051.3 L762.3 1051.4 L764.3 1051.6 L766.3 1051.8 L768.3 1051.9 L770.3 1052.1 L772.3 1052.2 L774.3 1052.4 L776.3 1052.5 L778.3 1052.7 L780.3 1052.9 L782.3 1053.0 L784.3 1053.2 L786.3 1053.4 L788.3 1053.5 L790.3 1053.7 L792.2 1053.8 L794.2 1054.0 L796.2 1054.2 L798.2 1054.3 L800.2 1054.5 L802.2 1054.7 L804.2 1054.8 L806.2 1055.0 L808.2 1055.1 L810.2 1055.2 L812.2 1055.3 L814.2 1055.4" stroke="#000000"/>
<path d="M215.0 1046.3 L217.0 1046.6 L219.0 1046.9 L221.0 1047.2 L223.0 1047.5 L225.0 1047.9 L227.0 1048.1 L229.0 1048.4 L231.0 1048.7 L233.0 1049.0 L235.0 1049.2 L237.0 1049.5 L239.0 1049.7 L241.0 1049.9 L243.0 1050.1 L245.0 1050.3 L247.0 1050.5 L249.0 1050.7 L251.0 1050.9 L253.0 1051.1 L254.9 1051.3 L256.9 1051.4 L258.9 1051.6 L260.9 1051.8 L262.9 1051.9 L264.9 1052.1 L266.9 1052.2 L268.9 1052.4 L270.9 1052.6 L272.9 1052.7 L274.9 1052.9 L276.9 1053.0 L278.9 1053.2 L280.9 1053.3 L282.9 1053.5 L284.9 1053.6 L286.9 1053.8 L288.9 1053.9 L290.9 1054.1 L292.9 1054.2 L294.9 1054.3 L296.9 1054.5 L298.9 1054.6 L300.9 1054.7 L302.9 1054.8 L304.9 1054.9 L306.9 1055.0 L308.9 1055.1 L310.9 1055.2 L312.9 1055.3 L314.9 1055.4 L316.9 1055.4 L318.9 1055.5 L320.9 1055.6 L322.9 1055.7 L324.9 1055.7 L326.9 1055.8 L328.9 1055.9 L330.8 1055.9 L332.8 1056.0 L334.8 1056.1 L336.8 1056.1 L338.8 1056.2 L340.8 1056.2 L342.8 1056.3 L344.8 1056.4 L346.8 1056.4 L348.8 1056.5 L350.8 1056.5 L352.8 1056.5 L354.8 1056.6 L356.8 1056.6 L358.8 1056.6 L360.8 1056.7 L362.8 1056.7 L364.8 1056.7 L366.8 1056.7 L368.8 1056.7 L370.8 1056.7 L372.8 1056.7 L374.8 1056.7 L376.8 1056.7 L378.8 1056.7 L380.8 1056.7 L382.8 1056.7 L384.8 1056.7 L386.8 1056.6 L388.8 1056.6 L390.8 1056.6 L392.8 1056.5 L394.8 1056.5 L396.8 1056.5 L398.8 1056.4 L400.8 1056.4 L402.8 1056.3 L404.8 1056.2 L406.8 1056.2 L408.7 1056.1 L410.7 1056.1 L412.7 1056.0 L414.7 1055.9 L416.7 1055.8 L418.7 1055.7 L420.7 1055.6 L422.7 1055.5 L424.7 1055.4 L426.7 1055.3 L428.7 1055.2 L430.7 1055.1 L432.7 1055.0 L434.7 1054.8 L436.7 1054.7 L438.7 1054.5 L440.7 1054.4 L442.7 1054.2 L444.7 1054.1 L446.7 1053.9 L448.7 1053.7 L450.7 1053.5 L452.7 1053.3 L454.7 1053.1 L456.7 1052.9 L458.7 1052.7 L460.7 1052.5 L462.7 1052.3 L464.7 1052.1 L466.7 1051.8 L468.7 1051.6 L470.7 1051.4 L472.7 1051.1 L474.7 1050.9 L476.7 1050.7 L478.7 1050.4 L480.7 1050.2 L482.7 1049.9 L484.6 1049.6 L486.6 1049.4 L488.6 1049.1 L490.6 1048.9 L492.6 1048.6 L494.6 1048.3 L496.6 1048.0 L498.6 1047.8 L500.6 1047.5 L502.6 1047.2 L504.6 1046.9 L506.6 1046.6 L508.6 1046.4 L510.6 1046.1 L512.6 1045.8 L514.6 1045.5 L516.6 1045.2 L518.6 1044.9 L520.6 1044.6 L522.6 1044.3 L524.6 1044.1 L526.6 1043.8 L528.6 1043.5 L530.6 1043.2 L532.6 1042.9 L534.6 1042.6 L536.6 1042.3 L538.6 1042.0 L540.6 1041.7 L542.6 1041.4 L544.6 1041.1 L546.6 1040.8 L548.6 1040.5 L550.6 1040.2 L552.6 1039.8 L554.6 1039.5 L556.6 1039.2 L558.6 1038.9 L560.6 1038.6 L562.5 1038.3 L564.5 1038.0 L566.5 1037.7 L568.5 1037.5 L570.5 1037.2 L572.5 1036.9 L574.5 1036.6 L576.5 1036.4 L578.5 1036.1 L580.5 1035.9 L582.5 1035.7 L584.5 1035.4 L586.5 1035.2 L588.5 1035.0 L590.5 1034.8 L592.5 1034.6 L594.5 1034.4 L596.5 1034.2 L598.5 1034.0 L600.5 1033.8 L602.5 1033.7 L604.5 1033.5 L606.5 1033.4 L608.5 1033.2 L610.5 1033.1 L612.5 1033.0 L614.5 1032.9 L616.5 1032.8 L618.5 1032.6 L620.5 1032.5 L622.5 1032.4 L624.5 1032.4 L626.5 1032.3 L628.5 1032.2 L630.5 1032.1 L632.5 1032.1 L634.5 1032.0 L636.5 1032.0 L638.4 1032.0 L640.4 1031.9 L642.4 1031.9 L644.4 1031.9 L646.4 1031.9 L648.4 1031.9 L650.4 1031.9 L652.4 1031.9 L654.4 1032.0 L656.4 1032.0 L658.4 1032.0 L660.4 1032.0 L662.4 1032.0 L664.4 1032.1 L666.4 1032.1 L668.4 1032.1 L670.4 1032.2 L672.4 1032.2 L674.4 1032.3 L676.4 1032.3 L678.4 1032.4 L680.4 1032.5 L682.4 1032.6 L684.4 1032.7 L686.4 1032.8 L688.4 1032.9 L690.4 1033.0 L692.4 1033.1 L694.4 1033.3 L696.4 1033.4 L698.4 1033.6 L700.4 1033.7 L702.4 1033.9 L704.4 1034.0 L706.4 1034.2 L708.4 1034.3 L710.4 1034.5 L712.4 1034.7 L714.4 1034.9 L716.3 1035.0 L718.3 1035.2 L720.3 1035.4 L722.3 1035.6 L724.3 1035.8 L726.3 1036.0 L728.3 1036.3 L730.3 1036.5 L732.3 1036.7 L734.3 1036.9 L736.3 1037.1 L738.3 1037.4 L740.3 1037.6 L742.3 1037.8 L744.3 1038.0 L746.3 1038.3 L748.3 1038.5 L750.3 1038.7 L752.3 1039.0 L754.3 1039.2 L756.3 1039.5 L758.3 1039.7 L760.3 1040.0 L762.3 1040.2 L764.3 1040.5 L766.3 1040.7 L768.3 1040.9 L770.3 1041.2 L772.3 1041.4 L774.3 1041.7 L776.3 1041.9 L778.3 1042.1 L780.3 1042.4 L782.3 1042.6 L784.3 1042.8 L786.3 1043.1 L788.3 1043.3 L790.3 1043.5 L792.2 1043.8 L794.2 1044.0 L796.2 1044.2 L798.2 1044.4 L800.2 1044.7 L802.2 1044.9 L804.2 1045.1 L806.2 1045.3 L808.2 1045.5 L810.2 1045.6 L812.2 1045.8 L814.2 1045.9" stroke="#ee1c25"/>
<path d="M215.0 1042.9 L217.0 1044.7 L219.0 1046.2 L221.0 1047.6 L223.0 1048.6 L225.0 1049.6 L227.0 1050.4 L229.0 1051.1 L231.0 1051.6 L233.0 1052.1 L235.0 1052.5 L237.0 1052.9 L239.0 1053.2 L241.0 1053.6 L243.0 1053.9 L245.0 1054.3 L247.0 1054.6 L249.0 1054.9 L251.0 1055.2 L253.0 1055.5 L254.9 1055.7 L256.9 1056.0 L258.9 1056.2 L260.9 1056.5 L262.9 1056.7 L264.9 1056.9 L266.9 1057.1 L268.9 1057.3 L270.9 1057.5 L272.9 1057.6 L274.9 1057.8 L276.9 1058.0 L278.9 1058.2 L280.9 1058.3 L282.9 1058.5 L284.9 1058.6 L286.9 1058.8 L288.9 1058.9 L290.9 1059.0 L292.9 1059.2 L294.9 1059.3 L296.9 1059.4 L298.9 1059.6 L300.9 1059.7 L302.9 1059.8 L304.9 1059.9 L306.9 1060.0 L308.9 1060.1 L310.9 1060.2 L312.9 1060.4 L314.9 1060.5 L316.9 1060.6 L318.9 1060.7 L320.9 1060.8 L322.9 1060.9 L324.9 1061.0 L326.9 1061.1 L328.9 1061.2 L330.8 1061.3 L332.8 1061.4 L334.8 1061.5 L336.8 1061.6 L338.8 1061.7 L340.8 1061.8 L342.8 1061.9 L344.8 1061.9 L346.8 1062.0 L348.8 1062.1 L350.8 1062.2 L352.8 1062.2 L354.8 1062.3 L356.8 1062.4 L358.8 1062.4 L360.8 1062.5 L362.8 1062.5 L364.8 1062.5 L366.8 1062.6 L368.8 1062.6 L370.8 1062.6 L372.8 1062.6 L374.8 1062.6 L376.8 1062.6 L378.8 1062.6 L380.8 1062.6 L382.8 1062.6 L384.8 1062.6 L386.8 1062.6 L388.8 1062.6 L390.8 1062.6 L392.8 1062.6 L394.8 1062.6 L396.8 1062.6 L398.8 1062.5 L400.8 1062.5 L402.8 1062.5 L404.8 1062.5 L406.8 1062.5 L408.7 1062.4 L410.7 1062.4 L412.7 1062.4 L414.7 1062.4 L416.7 1062.3 L418.7 1062.3 L420.7 1062.3 L422.7 1062.3 L424.7 1062.2 L426.7 1062.2 L428.7 1062.2 L430.7 1062.1 L432.7 1062.1 L434.7 1062.0 L436.7 1062.0 L438.7 1061.9 L440.7 1061.9 L442.7 1061.8 L444.7 1061.7 L446.7 1061.7 L448.7 1061.6 L450.7 1061.5 L452.7 1061.4 L454.7 1061.3 L456.7 1061.1 L458.7 1061.0 L460.7 1060.9 L462.7 1060.7 L464.7 1060.6 L466.7 1060.5 L468.7 1060.3 L470.7 1060.2 L472.7 1060.0 L474.7 1059.9 L476.7 1059.7 L478.7 1059.6 L480.7 1059.4 L482.7 1059.2 L484.6 1059.1 L486.6 1058.9 L488.6 1058.7 L490.6 1058.6 L492.6 1058.4 L494.6 1058.2 L496.6 1058.0 L498.6 1057.8 L500.6 1057.6 L502.6 1057.5 L504.6 1057.3 L506.6 1057.1 L508.6 1056.9 L510.6 1056.7 L512.6 1056.5 L514.6 1056.4 L516.6 1056.2 L518.6 1056.0 L520.6 1055.8 L522.6 1055.6 L524.6 1055.5 L526.6 1055.3 L528.6 1055.1 L530.6 1054.9 L532.6 1054.7 L534.6 1054.5 L536.6 1054.3 L538.6 1054.2 L540.6 1054.0 L542.6 1053.8 L544.6 1053.6 L546.6 1053.4 L548.6 1053.2 L550.6 1053.0 L552.6 1052.8 L554.6 1052.6 L556.6 1052.4 L558.6 1052.2 L560.6 1052.0 L562.5 1051.8 L564.5 1051.6 L566.5 1051.4 L568.5 1051.2 L570.5 1051.0 L572.5 1050.8 L574.5 1050.6 L576.5 1050.5 L578.5 1050.3 L580.5 1050.1 L582.5 1050.0 L584.5 1049.8 L586.5 1049.7 L588.5 1049.5 L590.5 1049.4 L592.5 1049.2 L594.5 1049.1 L596.5 1049.0 L598.5 1048.8 L600.5 1048.7 L602.5 1048.6 L604.5 1048.5 L606.5 1048.4 L608.5 1048.3 L610.5 1048.2 L612.5 1048.1 L614.5 1048.0 L616.5 1047.9 L618.5 1047.8 L620.5 1047.8 L622.5 1047.7 L624.5 1047.6 L626.5 1047.6 L628.5 1047.5 L630.5 1047.5 L632.5 1047.4 L634.5 1047.4 L636.5 1047.4 L638.4 1047.3 L640.4 1047.3 L642.4 1047.3 L644.4 1047.3 L646.4 1047.3 L648.4 1047.3 L650.4 1047.3 L652.4 1047.3 L654.4 1047.4 L656.4 1047.4 L658.4 1047.4 L660.4 1047.4 L662.4 1047.4 L664.4 1047.5 L666.4 1047.5 L668.4 1047.5 L670.4 1047.6 L672.4 1047.6 L674.4 1047.7 L676.4 1047.7 L678.4 1047.8 L680.4 1047.8 L682.4 1047.9 L684.4 1047.9 L686.4 1048.0 L688.4 1048.1 L690.4 1048.2 L692.4 1048.3 L694.4 1048.4 L696.4 1048.5 L698.4 1048.5 L700.4 1048.6 L702.4 1048.7 L704.4 1048.8 L706.4 1048.9 L708.4 1049.0 L710.4 1049.1 L712.4 1049.2 L714.4 1049.3 L716.3 1049.4 L718.3 1049.5 L720.3 1049.6 L722.3 1049.7 L724.3 1049.8 L726.3 1049.9 L728.3 1050.0 L730.3 1050.1 L732.3 1050.2 L734.3 1050.3 L736.3 1050.4 L738.3 1050.5 L740.3 1050.6 L742.3 1050.8 L744.3 1050.9 L746.3 1051.0 L748.3 1051.2 L750.3 1051.3 L752.3 1051.4 L754.3 1051.6 L756.3 1051.7 L758.3 1051.9 L760.3 1052.0 L762.3 1052.2 L764.3 1052.3 L766.3 1052.4 L768.3 1052.6 L770.3 1052.7 L772.3 1052.9 L774.3 1053.0 L776.3 1053.1 L778.3 1053.3 L780.3 1053.4 L782.3 1053.5 L784.3 1053.6 L786.3 1053.8 L788.3 1053.9 L790.3 1054.0 L792.2 1054.1 L794.2 1054.3 L796.2 1054.4 L798.2 1054.5 L800.2 1054.6 L802.2 1054.7 L804.2 1054.8 L806.2 1055.0 L808.2 1055.0 L810.2 1055.1 L812.2 1055.2 L814.2 1055.3" stroke="#2e3f9e"/>
<path d="M215.0 1047.9 L217.0 1049.0 L219.0 1049.9 L221.0 1050.9 L223.0 1051.7 L225.0 1052.4 L227.0 1052.9 L229.0 1053.5 L231.0 1054.0 L233.0 1054.4 L235.0 1054.8 L237.0 1055.2 L239.0 1055.5 L241.0 1055.8 L243.0 1056.1 L245.0 1056.4 L247.0 1056.7 L249.0 1057.0 L251.0 1057.3 L253.0 1057.6 L254.9 1057.8 L256.9 1058.1 L258.9 1058.3 L260.9 1058.5 L262.9 1058.7 L264.9 1059.0 L266.9 1059.2 L268.9 1059.4 L270.9 1059.6 L272.9 1059.8 L274.9 1059.9 L276.9 1060.1 L278.9 1060.3 L280.9 1060.5 L282.9 1060.7 L284.9 1060.8 L286.9 1061.0 L288.9 1061.2 L290.9 1061.3 L292.9 1061.5 L294.9 1061.6 L296.9 1061.8 L298.9 1061.9 L300.9 1062.1 L302.9 1062.3 L304.9 1062.4 L306.9 1062.6 L308.9 1062.7 L310.9 1062.8 L312.9 1063.0 L314.9 1063.1 L316.9 1063.3 L318.9 1063.4 L320.9 1063.6 L322.9 1063.7 L324.9 1063.9 L326.9 1064.0 L328.9 1064.2 L330.8 1064.3 L332.8 1064.4 L334.8 1064.6 L336.8 1064.7 L338.8 1064.8 L340.8 1065.0 L342.8 1065.1 L344.8 1065.2 L346.8 1065.3 L348.8 1065.4 L350.8 1065.5 L352.8 1065.7 L354.8 1065.8 L356.8 1065.9 L358.8 1066.0 L360.8 1066.1 L362.8 1066.1 L364.8 1066.2 L366.8 1066.3 L368.8 1066.4 L370.8 1066.5 L372.8 1066.5 L374.8 1066.6 L376.8 1066.7 L378.8 1066.7 L380.8 1066.8 L382.8 1066.8 L384.8 1066.9 L386.8 1066.9 L388.8 1067.0 L390.8 1067.0 L392.8 1067.1 L394.8 1067.1 L396.8 1067.2 L398.8 1067.2 L400.8 1067.3 L402.8 1067.3 L404.8 1067.4 L406.8 1067.4 L408.7 1067.4 L410.7 1067.5 L412.7 1067.5 L414.7 1067.5 L416.7 1067.6 L418.7 1067.6 L420.7 1067.6 L422.7 1067.7 L424.7 1067.7 L426.7 1067.7 L428.7 1067.7 L430.7 1067.8 L432.7 1067.8 L434.7 1067.8 L436.7 1067.8 L438.7 1067.8 L440.7 1067.9 L442.7 1067.9 L444.7 1067.9 L446.7 1067.9 L448.7 1067.9 L450.7 1067.9 L452.7 1067.9 L454.7 1067.9 L456.7 1068.0 L458.7 1068.0 L460.7 1068.0 L462.7 1068.0 L464.7 1068.0 L466.7 1068.0 L468.7 1068.0 L470.7 1068.0 L472.7 1068.0 L474.7 1068.0 L476.7 1068.0 L478.7 1068.0 L480.7 1068.1 L482.7 1068.1 L484.6 1068.1 L486.6 1068.1 L488.6 1068.1 L490.6 1068.1 L492.6 1068.1 L494.6 1068.1 L496.6 1068.1 L498.6 1068.1 L500.6 1068.1 L502.6 1068.1 L504.6 1068.1 L506.6 1068.1 L508.6 1068.1 L510.6 1068.2 L512.6 1068.2 L514.6 1068.2 L516.6 1068.2 L518.6 1068.2 L520.6 1068.2 L522.6 1068.2 L524.6 1068.2 L526.6 1068.2 L528.6 1068.2 L530.6 1068.2 L532.6 1068.2 L534.6 1068.3 L536.6 1068.3 L538.6 1068.3 L540.6 1068.3 L542.6 1068.3 L544.6 1068.3 L546.6 1068.3 L548.6 1068.3 L550.6 1068.3 L552.6 1068.3 L554.6 1068.3 L556.6 1068.3 L558.6 1068.4 L560.6 1068.4 L562.5 1068.4 L564.5 1068.4 L566.5 1068.4 L568.5 1068.4 L570.5 1068.4 L572.5 1068.4 L574.5 1068.4 L576.5 1068.4 L578.5 1068.4 L580.5 1068.4 L582.5 1068.4 L584.5 1068.5 L586.5 1068.5 L588.5 1068.5 L590.5 1068.5 L592.5 1068.5 L594.5 1068.5 L596.5 1068.5 L598.5 1068.5 L600.5 1068.5 L602.5 1068.5 L604.5 1068.5 L606.5 1068.5 L608.5 1068.6 L610.5 1068.6 L612.5 1068.6 L614.5 1068.6 L616.5 1068.6 L618.5 1068.6 L620.5 1068.6 L622.5 1068.6 L624.5 1068.6 L626.5 1068.6 L628.5 1068.7 L630.5 1068.7 L632.5 1068.7 L634.5 1068.7 L636.5 1068.7 L638.4 1068.7 L640.4 1068.7 L642.4 1068.7 L644.4 1068.7 L646.4 1068.7 L648.4 1068.8 L650.4 1068.8 L652.4 1068.8 L654.4 1068.8 L656.4 1068.8 L658.4 1068.8 L660.4 1068.8 L662.4 1068.8 L664.4 1068.9 L666.4 1068.9 L668.4 1068.9 L670.4 1068.9 L672.4 1068.9 L674.4 1068.9 L676.4 1068.9 L678.4 1068.9 L680.4 1069.0 L682.4 1069.0 L684.4 1069.0 L686.4 1069.0 L688.4 1069.0 L690.4 1069.0 L692.4 1069.1 L694.4 1069.1 L696.4 1069.1 L698.4 1069.1 L700.4 1069.1 L702.4 1069.1 L704.4 1069.2 L706.4 1069.2 L708.4 1069.2 L710.4 1069.2 L712.4 1069.2 L714.4 1069.3 L716.3 1069.3 L718.3 1069.3 L720.3 1069.3 L722.3 1069.4 L724.3 1069.4 L726.3 1069.4 L728.3 1069.4 L730.3 1069.5 L732.3 1069.5 L734.3 1069.5 L736.3 1069.5 L738.3 1069.6 L740.3 1069.6 L742.3 1069.6 L744.3 1069.6 L746.3 1069.7 L748.3 1069.7 L750.3 1069.7 L752.3 1069.8 L754.3 1069.8 L756.3 1069.8 L758.3 1069.8 L760.3 1069.9 L762.3 1069.9 L764.3 1069.9 L766.3 1070.0 L768.3 1070.0 L770.3 1070.0 L772.3 1070.0 L774.3 1070.1 L776.3 1070.1 L778.3 1070.1 L780.3 1070.2 L782.3 1070.2 L784.3 1070.2 L786.3 1070.3 L788.3 1070.3 L790.3 1070.3 L792.2 1070.4 L794.2 1070.4 L796.2 1070.4 L798.2 1070.5 L800.2 1070.5 L802.2 1070.5 L804.2 1070.6 L806.2 1070.6 L808.2 1070.6 L810.2 1070.6 L812.2 1070.7 L814.2 1070.7" stroke="#c2509f"/>
<path d="M215.0 1054.6 L217.0 1054.9 L219.0 1055.2 L221.0 1055.6 L223.0 1055.9 L225.0 1056.2 L227.0 1056.6 L229.0 1056.9 L231.0 1057.2 L233.0 1057.5 L235.0 1057.7 L237.0 1058.0 L239.0 1058.2 L241.0 1058.5 L243.0 1058.7 L245.0 1058.9 L247.0 1059.1 L249.0 1059.4 L251.0 1059.6 L253.0 1059.8 L254.9 1060.0 L256.9 1060.2 L258.9 1060.4 L260.9 1060.6 L262.9 1060.8 L264.9 1060.9 L266.9 1061.1 L268.9 1061.3 L270.9 1061.5 L272.9 1061.6 L274.9 1061.8 L276.9 1062.0 L278.9 1062.1 L280.9 1062.3 L282.9 1062.4 L284.9 1062.6 L286.9 1062.7 L288.9 1062.9 L290.9 1063.0 L292.9 1063.2 L294.9 1063.3 L296.9 1063.5 L298.9 1063.6 L300.9 1063.8 L302.9 1063.9 L304.9 1064.0 L306.9 1064.2 L308.9 1064.3 L310.9 1064.4 L312.9 1064.6 L314.9 1064.7 L316.9 1064.8 L318.9 1065.0 L320.9 1065.1 L322.9 1065.2 L324.9 1065.3 L326.9 1065.5 L328.9 1065.6 L330.8 1065.7 L332.8 1065.8 L334.8 1065.9 L336.8 1066.1 L338.8 1066.2 L340.8 1066.3 L342.8 1066.4 L344.8 1066.5 L346.8 1066.6 L348.8 1066.7 L350.8 1066.8 L352.8 1066.9 L354.8 1067.0 L356.8 1067.1 L358.8 1067.2 L360.8 1067.3 L362.8 1067.4 L364.8 1067.5 L366.8 1067.6 L368.8 1067.7 L370.8 1067.7 L372.8 1067.8 L374.8 1067.9 L376.8 1067.9 L378.8 1068.0 L380.8 1068.1 L382.8 1068.1 L384.8 1068.2 L386.8 1068.3 L388.8 1068.3 L390.8 1068.4 L392.8 1068.5 L394.8 1068.5 L396.8 1068.6 L398.8 1068.6 L400.8 1068.7 L402.8 1068.7 L404.8 1068.8 L406.8 1068.8 L408.7 1068.9 L410.7 1068.9 L412.7 1069.0 L414.7 1069.0 L416.7 1069.1 L418.7 1069.1 L420.7 1069.2 L422.7 1069.2 L424.7 1069.3 L426.7 1069.3 L428.7 1069.3 L430.7 1069.4 L432.7 1069.4 L434.7 1069.4 L436.7 1069.5 L438.7 1069.5 L440.7 1069.5 L442.7 1069.6 L444.7 1069.6 L446.7 1069.6 L448.7 1069.6 L450.7 1069.7 L452.7 1069.7 L454.7 1069.7 L456.7 1069.7 L458.7 1069.8 L460.7 1069.8 L462.7 1069.8 L464.7 1069.8 L466.7 1069.9 L468.7 1069.9 L470.7 1069.9 L472.7 1069.9 L474.7 1069.9 L476.7 1070.0 L478.7 1070.0 L480.7 1070.0 L482.7 1070.0 L484.6 1070.0 L486.6 1070.1 L488.6 1070.1 L490.6 1070.1 L492.6 1070.1 L494.6 1070.1 L496.6 1070.1 L498.6 1070.2 L500.6 1070.2 L502.6 1070.2 L504.6 1070.2 L506.6 1070.2 L508.6 1070.3 L510.6 1070.3 L512.6 1070.3 L514.6 1070.3 L516.6 1070.3 L518.6 1070.3 L520.6 1070.4 L522.6 1070.4 L524.6 1070.4 L526.6 1070.4 L528.6 1070.4 L530.6 1070.5 L532.6 1070.5 L534.6 1070.5 L536.6 1070.5 L538.6 1070.5 L540.6 1070.5 L542.6 1070.6 L544.6 1070.6 L546.6 1070.6 L548.6 1070.6 L550.6 1070.6 L552.6 1070.7 L554.6 1070.7 L556.6 1070.7 L558.6 1070.7 L560.6 1070.7 L562.5 1070.7 L564.5 1070.8 L566.5 1070.8 L568.5 1070.8 L570.5 1070.8 L572.5 1070.8 L574.5 1070.8 L576.5 1070.9 L578.5 1070.9 L580.5 1070.9 L582.5 1070.9 L584.5 1070.9 L586.5 1070.9 L588.5 1071.0 L590.5 1071.0 L592.5 1071.0 L594.5 1071.0 L596.5 1071.0 L598.5 1071.0 L600.5 1071.1 L602.5 1071.1 L604.5 1071.1 L606.5 1071.1 L608.5 1071.1 L610.5 1071.1 L612.5 1071.2 L614.5 1071.2 L616.5 1071.2 L618.5 1071.2 L620.5 1071.2 L622.5 1071.2 L624.5 1071.3 L626.5 1071.3 L628.5 1071.3 L630.5 1071.3 L632.5 1071.3 L634.5 1071.3 L636.5 1071.4 L638.4 1071.4 L640.4 1071.4 L642.4 1071.4 L644.4 1071.4 L646.4 1071.4 L648.4 1071.5 L650.4 1071.5 L652.4 1071.5 L654.4 1071.5 L656.4 1071.5 L658.4 1071.5 L660.4 1071.6 L662.4 1071.6 L664.4 1071.6 L666.4 1071.6 L668.4 1071.6 L670.4 1071.6 L672.4 1071.7 L674.4 1071.7 L676.4 1071.7 L678.4 1071.7 L680.4 1071.7 L682.4 1071.7 L684.4 1071.8 L686.4 1071.8 L688.4 1071.8 L690.4 1071.8 L692.4 1071.8 L694.4 1071.8 L696.4 1071.9 L698.4 1071.9 L700.4 1071.9 L702.4 1071.9 L704.4 1071.9 L706.4 1071.9 L708.4 1072.0 L710.4 1072.0 L712.4 1072.0 L714.4 1072.0 L716.3 1072.0 L718.3 1072.0 L720.3 1072.1 L722.3 1072.1 L724.3 1072.1 L726.3 1072.1 L728.3 1072.1 L730.3 1072.1 L732.3 1072.2 L734.3 1072.2 L736.3 1072.2 L738.3 1072.2 L740.3 1072.2 L742.3 1072.2 L744.3 1072.3 L746.3 1072.3 L748.3 1072.3 L750.3 1072.3 L752.3 1072.3 L754.3 1072.3 L756.3 1072.4 L758.3 1072.4 L760.3 1072.4 L762.3 1072.4 L764.3 1072.4 L766.3 1072.4 L768.3 1072.5 L770.3 1072.5 L772.3 1072.5 L774.3 1072.5 L776.3 1072.5 L778.3 1072.5 L780.3 1072.6 L782.3 1072.6 L784.3 1072.6 L786.3 1072.6 L788.3 1072.6 L790.3 1072.6 L792.2 1072.7 L794.2 1072.7 L796.2 1072.7 L798.2 1072.7 L800.2 1072.7 L802.2 1072.7 L804.2 1072.8 L806.2 1072.8 L808.2 1072.8 L810.2 1072.8 L812.2 1072.8 L814.2 1072.8" stroke="#0f7f3f"/>
<path d="M215.0 1041.3 L217.0 1043.1 L219.0 1044.8 L221.0 1046.4 L223.0 1047.7 L225.0 1049.1 L227.0 1050.3 L229.0 1051.1 L231.0 1051.5 L233.0 1051.7 L235.0 1051.9 L237.0 1052.0 L239.0 1052.2 L241.0 1052.3 L243.0 1052.4 L245.0 1052.5 L247.0 1052.6 L249.0 1052.6 L251.0 1052.6 L253.0 1052.5 L254.9 1052.4 L256.9 1052.3 L258.9 1052.1 L260.9 1052.0 L262.9 1051.8 L264.9 1051.5 L266.9 1051.3 L268.9 1051.0 L270.9 1050.7 L272.9 1050.5 L274.9 1050.2 L276.9 1049.9 L278.9 1049.5 L280.9 1049.2 L282.9 1048.8 L284.9 1048.5 L286.9 1048.1 L288.9 1047.7 L290.9 1047.3 L292.9 1046.9 L294.9 1046.5 L296.9 1046.1 L298.9 1045.7 L300.9 1045.2 L302.9 1044.8 L304.9 1044.4 L306.9 1043.9 L308.9 1043.5 L310.9 1043.0 L312.9 1042.6 L314.9 1042.1 L316.9 1041.6 L318.9 1041.2 L320.9 1040.7 L322.9 1040.2 L324.9 1039.8 L326.9 1039.3 L328.9 1038.9 L330.8 1038.5 L332.8 1038.1 L334.8 1037.7 L336.8 1037.3 L338.8 1037.0 L340.8 1036.6 L342.8 1036.3 L344.8 1036.1 L346.8 1035.8 L348.8 1035.5 L350.8 1035.3 L352.8 1035.1 L354.8 1034.9 L356.8 1034.7 L358.8 1034.5 L360.8 1034.3 L362.8 1034.1 L364.8 1033.9 L366.8 1033.8 L368.8 1033.6 L370.8 1033.5 L372.8 1033.3 L374.8 1033.2 L376.8 1033.0 L378.8 1032.9 L380.8 1032.8 L382.8 1032.6 L384.8 1032.5 L386.8 1032.4 L388.8 1032.3 L390.8 1032.2 L392.8 1032.1 L394.8 1032.0 L396.8 1031.9 L398.8 1031.8 L400.8 1031.8 L402.8 1031.7 L404.8 1031.6 L406.8 1031.6 L408.7 1031.5 L410.7 1031.5 L412.7 1031.5 L414.7 1031.4 L416.7 1031.4 L418.7 1031.4 L420.7 1031.3 L422.7 1031.3 L424.7 1031.3 L426.7 1031.3 L428.7 1031.3 L430.7 1031.3 L432.7 1031.3 L434.7 1031.3 L436.7 1031.3 L438.7 1031.3 L440.7 1031.3 L442.7 1031.3 L444.7 1031.4 L446.7 1031.4 L448.7 1031.4 L450.7 1031.5 L452.7 1031.6 L454.7 1031.7 L456.7 1031.7 L458.7 1031.8 L460.7 1031.9 L462.7 1032.0 L464.7 1032.1 L466.7 1032.3 L468.7 1032.4 L470.7 1032.5 L472.7 1032.6 L474.7 1032.8 L476.7 1032.9 L478.7 1033.1 L480.7 1033.3 L482.7 1033.5 L484.6 1033.6 L486.6 1033.8 L488.6 1034.0 L490.6 1034.2 L492.6 1034.5 L494.6 1034.7 L496.6 1034.9 L498.6 1035.1 L500.6 1035.3 L502.6 1035.5 L504.6 1035.7 L506.6 1035.9 L508.6 1036.1 L510.6 1036.4 L512.6 1036.6 L514.6 1036.8 L516.6 1037.0 L518.6 1037.2 L520.6 1037.4 L522.6 1037.6 L524.6 1037.8 L526.6 1038.0 L528.6 1038.2 L530.6 1038.4 L532.6 1038.7 L534.6 1038.9 L536.6 1039.1 L538.6 1039.3 L540.6 1039.5 L542.6 1039.7 L544.6 1040.0 L546.6 1040.2 L548.6 1040.4 L550.6 1040.7 L552.6 1040.9 L554.6 1041.1 L556.6 1041.4 L558.6 1041.6 L560.6 1041.8 L562.5 1042.1 L564.5 1042.3 L566.5 1042.6 L568.5 1042.8 L570.5 1043.1 L572.5 1043.3 L574.5 1043.6 L576.5 1043.8 L578.5 1044.1 L580.5 1044.3 L582.5 1044.6 L584.5 1044.8 L586.5 1045.1 L588.5 1045.3 L590.5 1045.6 L592.5 1045.9 L594.5 1046.1 L596.5 1046.4 L598.5 1046.7 L600.5 1046.9 L602.5 1047.2 L604.5 1047.4 L606.5 1047.7 L608.5 1048.0 L610.5 1048.2 L612.5 1048.5 L614.5 1048.8 L616.5 1049.0 L618.5 1049.3 L620.5 1049.6 L622.5 1049.8 L624.5 1050.1 L626.5 1050.3 L628.5 1050.6 L630.5 1050.9 L632.5 1051.1 L634.5 1051.4 L636.5 1051.6 L638.4 1051.9 L640.4 1052.1 L642.4 1052.4 L644.4 1052.6 L646.4 1052.9 L648.4 1053.1 L650.4 1053.4 L652.4 1053.6 L654.4 1053.8 L656.4 1054.1 L658.4 1054.3 L660.4 1054.6 L662.4 1054.8 L664.4 1055.0 L666.4 1055.3 L668.4 1055.5 L670.4 1055.7 L672.4 1056.0 L674.4 1056.2 L676.4 1056.4 L678.4 1056.7 L680.4 1056.9 L682.4 1057.1 L684.4 1057.3 L686.4 1057.6 L688.4 1057.8 L690.4 1058.0 L692.4 1058.2 L694.4 1058.4 L696.4 1058.7 L698.4 1058.9 L700.4 1059.1 L702.4 1059.3 L704.4 1059.5 L706.4 1059.7 L708.4 1059.9 L710.4 1060.1 L712.4 1060.3 L714.4 1060.5 L716.3 1060.7 L718.3 1060.8 L720.3 1061.0 L722.3 1061.2 L724.3 1061.4 L726.3 1061.6 L728.3 1061.7 L730.3 1061.9 L732.3 1062.1 L734.3 1062.3 L736.3 1062.4 L738.3 1062.6 L740.3 1062.8 L742.3 1062.9 L744.3 1063.1 L746.3 1063.3 L748.3 1063.4 L750.3 1063.6 L752.3 1063.7 L754.3 1063.9 L756.3 1064.1 L758.3 1064.2 L760.3 1064.4 L762.3 1064.5 L764.3 1064.7 L766.3 1064.8 L768.3 1065.0 L770.3 1065.1 L772.3 1065.3 L774.3 1065.4 L776.3 1065.6 L778.3 1065.7 L780.3 1065.8 L782.3 1066.0 L784.3 1066.1 L786.3 1066.2 L788.3 1066.4 L790.3 1066.5 L792.2 1066.6 L794.2 1066.8 L796.2 1066.9 L798.2 1067.0 L800.2 1067.2 L802.2 1067.3 L804.2 1067.4 L806.2 1067.5 L808.2 1067.6 L810.2 1067.7 L812.2 1067.8 L814.2 1067.8" stroke="#1b1b7a"/>
<path d="M215.0 1023.6 L217.0 1024.3 L219.0 1025.0 L221.0 1025.6 L223.0 1026.2 L225.0 1026.8 L227.0 1027.4 L229.0 1027.9 L231.0 1028.4 L233.0 1028.7 L235.0 1029.0 L237.0 1029.3 L239.0 1029.6 L241.0 1029.9 L243.0 1030.1 L245.0 1030.4 L247.0 1030.6 L249.0 1030.8 L251.0 1030.9 L253.0 1031.1 L254.9 1031.2 L256.9 1031.2 L258.9 1031.2 L260.9 1031.2 L262.9 1031.2 L264.9 1031.1 L266.9 1031.0 L268.9 1030.8 L270.9 1030.7 L272.9 1030.5 L274.9 1030.3 L276.9 1030.1 L278.9 1029.8 L280.9 1029.5 L282.9 1029.2 L284.9 1028.9 L286.9 1028.6 L288.9 1028.2 L290.9 1027.8 L292.9 1027.4 L294.9 1026.9 L296.9 1026.4 L298.9 1026.0 L300.9 1025.5 L302.9 1024.9 L304.9 1024.4 L306.9 1023.9 L308.9 1023.4 L310.9 1022.8 L312.9 1022.3 L314.9 1021.7 L316.9 1021.2 L318.9 1020.6 L320.9 1020.1 L322.9 1019.5 L324.9 1018.9 L326.9 1018.3 L328.9 1017.7 L330.8 1017.1 L332.8 1016.5 L334.8 1015.9 L336.8 1015.2 L338.8 1014.6 L340.8 1013.9 L342.8 1013.2 L344.8 1012.5 L346.8 1011.7 L348.8 1010.9 L350.8 1010.0 L352.8 1009.1 L354.8 1008.1 L356.8 1006.9 L358.8 1005.7 L360.8 1004.4 L362.8 1003.0 L364.8 1001.5 L366.8 1000.0 L368.8 998.4 L370.8 996.8 L372.8 995.2 L374.8 993.5 L376.8 991.9 L378.8 990.2 L380.8 988.5 L382.8 986.8 L384.8 985.0 L386.8 983.3 L388.8 981.5 L390.8 979.6 L392.8 977.7 L394.8 975.7 L396.8 973.7 L398.8 971.6 L400.8 969.4 L402.8 967.3 L404.8 965.0 L406.8 962.8 L408.7 960.5 L410.7 958.1 L412.7 955.8 L414.7 953.4 L416.7 950.9 L418.7 948.5 L420.7 946.0 L422.7 943.5 L424.7 941.0 L426.7 938.4 L428.7 935.8 L430.7 933.2 L432.7 930.6 L434.7 928.0 L436.7 925.3 L438.7 922.6 L440.7 919.9 L442.7 917.2 L444.7 914.5 L446.7 911.7 L448.7 908.9 L450.7 906.1 L452.7 903.3 L454.7 900.4 L456.7 897.5 L458.7 894.6 L460.7 891.6 L462.7 888.6 L464.7 885.6 L466.7 882.5 L468.7 879.5 L470.7 876.5 L472.7 873.5 L474.7 870.5 L476.7 867.5 L478.7 864.6 L480.7 861.7 L482.7 858.8 L484.6 855.9 L486.6 853.0 L488.6 850.1 L490.6 847.2 L492.6 844.3 L494.6 841.5 L496.6 838.7 L498.6 835.9 L500.6 833.3 L502.6 830.6 L504.6 828.1 L506.6 825.6 L508.6 823.2 L510.6 820.8 L512.6 818.5 L514.6 816.2 L516.6 814.0 L518.6 811.7 L520.6 809.6 L522.6 807.5 L524.6 805.4 L526.6 803.3 L528.6 801.4 L530.6 799.4 L532.6 797.6 L534.6 795.8 L536.6 794.1 L538.6 792.4 L540.6 790.8 L542.6 789.3 L544.6 787.8 L546.6 786.4 L548.6 785.1 L550.6 783.9 L552.6 782.7 L554.6 781.6 L556.6 780.5 L558.6 779.5 L560.6 778.6 L562.5 777.7 L564.5 776.8 L566.5 776.0 L568.5 775.3 L570.5 774.6 L572.5 774.0 L574.5 773.5 L576.5 773.0 L578.5 772.5 L580.5 772.1 L582.5 771.8 L584.5 771.6 L586.5 771.4 L588.5 771.3 L590.5 771.2 L592.5 771.2 L594.5 771.3 L596.5 771.4 L598.5 771.6 L600.5 771.9 L602.5 772.2 L604.5 772.6 L606.5 773.0 L608.5 773.5 L610.5 774.1 L612.5 774.7 L614.5 775.4 L616.5 776.2 L618.5 777.0 L620.5 777.9 L622.5 778.9 L624.5 779.9 L626.5 781.0 L628.5 782.1 L630.5 783.2 L632.5 784.4 L634.5 785.6 L636.5 786.8 L638.4 788.1 L640.4 789.4 L642.4 790.6 L644.4 792.0 L646.4 793.3 L648.4 794.7 L650.4 796.1 L652.4 797.5 L654.4 799.0 L656.4 800.5 L658.4 802.0 L660.4 803.5 L662.4 805.0 L664.4 806.6 L666.4 808.1 L668.4 809.7 L670.4 811.3 L672.4 812.8 L674.4 814.4 L676.4 816.0 L678.4 817.5 L680.4 819.1 L682.4 820.7 L684.4 822.3 L686.4 823.8 L688.4 825.4 L690.4 827.0 L692.4 828.7 L694.4 830.3 L696.4 831.9 L698.4 833.5 L700.4 835.2 L702.4 836.8 L704.4 838.5 L706.4 840.1 L708.4 841.8 L710.4 843.5 L712.4 845.2 L714.4 846.9 L716.3 848.6 L718.3 850.3 L720.3 852.0 L722.3 853.8 L724.3 855.5 L726.3 857.2 L728.3 858.9 L730.3 860.6 L732.3 862.3 L734.3 864.0 L736.3 865.7 L738.3 867.3 L740.3 869.0 L742.3 870.6 L744.3 872.2 L746.3 873.8 L748.3 875.4 L750.3 877.0 L752.3 878.6 L754.3 880.2 L756.3 881.7 L758.3 883.3 L760.3 884.9 L762.3 886.4 L764.3 888.0 L766.3 889.6 L768.3 891.2 L770.3 892.7 L772.3 894.3 L774.3 895.9 L776.3 897.5 L778.3 899.1 L780.3 900.7 L782.3 902.3 L784.3 903.9 L786.3 905.6 L788.3 907.2 L790.3 908.8 L792.2 910.4 L794.2 912.0 L796.2 913.6 L798.2 915.2 L800.2 916.8 L802.2 918.3 L804.2 919.8 L806.2 921.2 L808.2 922.6 L810.2 923.8 L812.2 924.8 L814.2 925.8" stroke="#7a52b3" stroke-dasharray="12 11"/>
<path d="M215.0 1036.5 L217.0 1036.9 L219.0 1037.3 L221.0 1037.7 L223.0 1038.0 L225.0 1038.3 L227.0 1038.6 L229.0 1038.9 L231.0 1039.0 L233.0 1039.1 L235.0 1039.2 L237.0 1039.3 L239.0 1039.4 L241.0 1039.4 L243.0 1039.5 L245.0 1039.5 L247.0 1039.5 L249.0 1039.5 L251.0 1039.5 L253.0 1039.4 L254.9 1039.3 L256.9 1039.2 L258.9 1039.1 L260.9 1038.9 L262.9 1038.7 L264.9 1038.5 L266.9 1038.3 L268.9 1038.1 L270.9 1037.8 L272.9 1037.5 L274.9 1037.3 L276.9 1036.9 L278.9 1036.6 L280.9 1036.3 L282.9 1035.9 L284.9 1035.5 L286.9 1035.0 L288.9 1034.6 L290.9 1034.1 L292.9 1033.7 L294.9 1033.2 L296.9 1032.7 L298.9 1032.1 L300.9 1031.6 L302.9 1031.1 L304.9 1030.6 L306.9 1030.0 L308.9 1029.5 L310.9 1028.9 L312.9 1028.4 L314.9 1027.8 L316.9 1027.2 L318.9 1026.7 L320.9 1026.1 L322.9 1025.5 L324.9 1024.8 L326.9 1024.2 L328.9 1023.5 L330.8 1022.8 L332.8 1022.1 L334.8 1021.4 L336.8 1020.6 L338.8 1019.7 L340.8 1018.8 L342.8 1017.9 L344.8 1016.9 L346.8 1015.9 L348.8 1014.8 L350.8 1013.7 L352.8 1012.5 L354.8 1011.3 L356.8 1010.0 L358.8 1008.7 L360.8 1007.4 L362.8 1006.0 L364.8 1004.5 L366.8 1003.1 L368.8 1001.5 L370.8 1000.0 L372.8 998.4 L374.8 996.7 L376.8 995.0 L378.8 993.3 L380.8 991.5 L382.8 989.7 L384.8 987.9 L386.8 986.0 L388.8 984.1 L390.8 982.1 L392.8 980.1 L394.8 978.1 L396.8 976.0 L398.8 973.8 L400.8 971.6 L402.8 969.3 L404.8 967.0 L406.8 964.6 L408.7 962.2 L410.7 959.7 L412.7 957.1 L414.7 954.5 L416.7 951.9 L418.7 949.2 L420.7 946.5 L422.7 943.7 L424.7 941.0 L426.7 938.1 L428.7 935.3 L430.7 932.4 L432.7 929.5 L434.7 926.5 L436.7 923.6 L438.7 920.6 L440.7 917.6 L442.7 914.6 L444.7 911.6 L446.7 908.6 L448.7 905.6 L450.7 902.6 L452.7 899.6 L454.7 896.6 L456.7 893.5 L458.7 890.5 L460.7 887.4 L462.7 884.4 L464.7 881.3 L466.7 878.1 L468.7 875.0 L470.7 871.8 L472.7 868.6 L474.7 865.4 L476.7 862.2 L478.7 859.1 L480.7 855.9 L482.7 852.8 L484.6 849.7 L486.6 846.7 L488.6 843.7 L490.6 840.7 L492.6 837.7 L494.6 834.7 L496.6 831.8 L498.6 828.9 L500.6 826.0 L502.6 823.1 L504.6 820.3 L506.6 817.6 L508.6 815.0 L510.6 812.4 L512.6 810.0 L514.6 807.6 L516.6 805.3 L518.6 803.2 L520.6 801.1 L522.6 799.0 L524.6 797.1 L526.6 795.1 L528.6 793.3 L530.6 791.4 L532.6 789.6 L534.6 787.9 L536.6 786.1 L538.6 784.5 L540.6 782.9 L542.6 781.3 L544.6 779.8 L546.6 778.4 L548.6 777.1 L550.6 775.9 L552.6 774.8 L554.6 773.7 L556.6 772.8 L558.6 771.9 L560.6 771.1 L562.5 770.4 L564.5 769.7 L566.5 769.1 L568.5 768.6 L570.5 768.1 L572.5 767.6 L574.5 767.2 L576.5 766.9 L578.5 766.6 L580.5 766.4 L582.5 766.2 L584.5 766.1 L586.5 766.1 L588.5 766.1 L590.5 766.2 L592.5 766.4 L594.5 766.6 L596.5 766.9 L598.5 767.3 L600.5 767.7 L602.5 768.2 L604.5 768.8 L606.5 769.4 L608.5 770.0 L610.5 770.7 L612.5 771.5 L614.5 772.3 L616.5 773.2 L618.5 774.2 L620.5 775.2 L622.5 776.3 L624.5 777.4 L626.5 778.6 L628.5 779.8 L630.5 781.0 L632.5 782.3 L634.5 783.6 L636.5 785.0 L638.4 786.3 L640.4 787.8 L642.4 789.2 L644.4 790.7 L646.4 792.2 L648.4 793.7 L650.4 795.3 L652.4 796.9 L654.4 798.5 L656.4 800.2 L658.4 801.9 L660.4 803.6 L662.4 805.4 L664.4 807.1 L666.4 808.9 L668.4 810.7 L670.4 812.5 L672.4 814.3 L674.4 816.1 L676.4 817.9 L678.4 819.7 L680.4 821.5 L682.4 823.3 L684.4 825.1 L686.4 827.0 L688.4 828.8 L690.4 830.7 L692.4 832.5 L694.4 834.3 L696.4 836.2 L698.4 838.0 L700.4 839.8 L702.4 841.6 L704.4 843.4 L706.4 845.2 L708.4 847.0 L710.4 848.7 L712.4 850.5 L714.4 852.2 L716.3 853.9 L718.3 855.7 L720.3 857.4 L722.3 859.1 L724.3 860.8 L726.3 862.4 L728.3 864.1 L730.3 865.8 L732.3 867.4 L734.3 869.1 L736.3 870.8 L738.3 872.4 L740.3 874.0 L742.3 875.7 L744.3 877.3 L746.3 878.9 L748.3 880.5 L750.3 882.1 L752.3 883.7 L754.3 885.3 L756.3 886.9 L758.3 888.4 L760.3 890.0 L762.3 891.5 L764.3 893.1 L766.3 894.6 L768.3 896.2 L770.3 897.7 L772.3 899.2 L774.3 900.7 L776.3 902.2 L778.3 903.7 L780.3 905.2 L782.3 906.7 L784.3 908.1 L786.3 909.6 L788.3 911.1 L790.3 912.5 L792.2 914.0 L794.2 915.4 L796.2 916.8 L798.2 918.2 L800.2 919.6 L802.2 920.9 L804.2 922.2 L806.2 923.4 L808.2 924.6 L810.2 925.6 L812.2 926.5 L814.2 927.3" stroke="#8b1a8b" stroke-dasharray="3.6 10.4"/>
<path d="M215.0 1039.9 L217.0 1040.2 L219.0 1040.6 L221.0 1040.9 L223.0 1041.2 L225.0 1041.4 L227.0 1041.7 L229.0 1041.9 L231.0 1042.1 L233.0 1042.2 L235.0 1042.3 L237.0 1042.5 L239.0 1042.6 L241.0 1042.7 L243.0 1042.8 L245.0 1042.8 L247.0 1042.9 L249.0 1042.9 L251.0 1042.9 L253.0 1042.9 L254.9 1042.9 L256.9 1042.8 L258.9 1042.7 L260.9 1042.6 L262.9 1042.4 L264.9 1042.2 L266.9 1042.0 L268.9 1041.8 L270.9 1041.6 L272.9 1041.3 L274.9 1041.0 L276.9 1040.7 L278.9 1040.4 L280.9 1040.1 L282.9 1039.7 L284.9 1039.3 L286.9 1038.8 L288.9 1038.3 L290.9 1037.8 L292.9 1037.3 L294.9 1036.7 L296.9 1036.1 L298.9 1035.5 L300.9 1034.9 L302.9 1034.2 L304.9 1033.6 L306.9 1032.9 L308.9 1032.2 L310.9 1031.6 L312.9 1030.9 L314.9 1030.2 L316.9 1029.5 L318.9 1028.8 L320.9 1028.0 L322.9 1027.3 L324.9 1026.5 L326.9 1025.8 L328.9 1025.0 L330.8 1024.2 L332.8 1023.4 L334.8 1022.6 L336.8 1021.8 L338.8 1020.9 L340.8 1020.0 L342.8 1019.2 L344.8 1018.3 L346.8 1017.3 L348.8 1016.4 L350.8 1015.4 L352.8 1014.4 L354.8 1013.4 L356.8 1012.3 L358.8 1011.1 L360.8 1009.9 L362.8 1008.7 L364.8 1007.4 L366.8 1006.0 L368.8 1004.5 L370.8 1003.0 L372.8 1001.4 L374.8 999.8 L376.8 998.1 L378.8 996.3 L380.8 994.5 L382.8 992.6 L384.8 990.7 L386.8 988.7 L388.8 986.7 L390.8 984.6 L392.8 982.5 L394.8 980.3 L396.8 978.0 L398.8 975.7 L400.8 973.3 L402.8 970.9 L404.8 968.4 L406.8 965.8 L408.7 963.2 L410.7 960.5 L412.7 957.8 L414.7 955.1 L416.7 952.3 L418.7 949.4 L420.7 946.5 L422.7 943.6 L424.7 940.7 L426.7 937.7 L428.7 934.7 L430.7 931.7 L432.7 928.6 L434.7 925.6 L436.7 922.5 L438.7 919.4 L440.7 916.2 L442.7 913.1 L444.7 909.9 L446.7 906.8 L448.7 903.6 L450.7 900.4 L452.7 897.2 L454.7 893.9 L456.7 890.7 L458.7 887.4 L460.7 884.2 L462.7 880.9 L464.7 877.7 L466.7 874.4 L468.7 871.1 L470.7 867.9 L472.7 864.7 L474.7 861.5 L476.7 858.3 L478.7 855.1 L480.7 852.0 L482.7 848.8 L484.6 845.7 L486.6 842.6 L488.6 839.6 L490.6 836.5 L492.6 833.4 L494.6 830.4 L496.6 827.4 L498.6 824.4 L500.6 821.4 L502.6 818.4 L504.6 815.5 L506.6 812.6 L508.6 809.7 L510.6 806.8 L512.6 804.1 L514.6 801.3 L516.6 798.7 L518.6 796.1 L520.6 793.6 L522.6 791.1 L524.6 788.7 L526.6 786.5 L528.6 784.3 L530.6 782.1 L532.6 780.1 L534.6 778.2 L536.6 776.3 L538.6 774.6 L540.6 772.9 L542.6 771.3 L544.6 769.8 L546.6 768.3 L548.6 766.9 L550.6 765.6 L552.6 764.3 L554.6 763.0 L556.6 761.8 L558.6 760.7 L560.6 759.5 L562.5 758.5 L564.5 757.5 L566.5 756.6 L568.5 755.7 L570.5 754.9 L572.5 754.3 L574.5 753.6 L576.5 753.1 L578.5 752.7 L580.5 752.3 L582.5 752.1 L584.5 751.9 L586.5 751.8 L588.5 751.8 L590.5 751.8 L592.5 752.0 L594.5 752.2 L596.5 752.5 L598.5 752.9 L600.5 753.3 L602.5 753.8 L604.5 754.3 L606.5 754.9 L608.5 755.5 L610.5 756.2 L612.5 756.9 L614.5 757.6 L616.5 758.5 L618.5 759.3 L620.5 760.2 L622.5 761.2 L624.5 762.2 L626.5 763.2 L628.5 764.3 L630.5 765.4 L632.5 766.5 L634.5 767.7 L636.5 768.9 L638.4 770.1 L640.4 771.4 L642.4 772.7 L644.4 774.0 L646.4 775.4 L648.4 776.9 L650.4 778.3 L652.4 779.8 L654.4 781.4 L656.4 783.0 L658.4 784.6 L660.4 786.2 L662.4 787.9 L664.4 789.6 L666.4 791.3 L668.4 793.0 L670.4 794.7 L672.4 796.4 L674.4 798.1 L676.4 799.9 L678.4 801.6 L680.4 803.4 L682.4 805.2 L684.4 807.0 L686.4 808.8 L688.4 810.6 L690.4 812.4 L692.4 814.2 L694.4 816.0 L696.4 817.9 L698.4 819.7 L700.4 821.5 L702.4 823.4 L704.4 825.2 L706.4 827.0 L708.4 828.8 L710.4 830.6 L712.4 832.4 L714.4 834.2 L716.3 836.0 L718.3 837.8 L720.3 839.6 L722.3 841.4 L724.3 843.2 L726.3 845.0 L728.3 846.8 L730.3 848.6 L732.3 850.4 L734.3 852.2 L736.3 854.0 L738.3 855.8 L740.3 857.6 L742.3 859.4 L744.3 861.2 L746.3 863.0 L748.3 864.8 L750.3 866.6 L752.3 868.4 L754.3 870.2 L756.3 872.0 L758.3 873.8 L760.3 875.5 L762.3 877.3 L764.3 879.1 L766.3 880.9 L768.3 882.6 L770.3 884.4 L772.3 886.1 L774.3 887.9 L776.3 889.6 L778.3 891.3 L780.3 893.1 L782.3 894.8 L784.3 896.5 L786.3 898.2 L788.3 899.9 L790.3 901.6 L792.2 903.3 L794.2 905.0 L796.2 906.7 L798.2 908.3 L800.2 910.0 L802.2 911.5 L804.2 913.1 L806.2 914.5 L808.2 915.9 L810.2 917.1 L812.2 918.2 L814.2 919.2" stroke="#8b1420" stroke-dasharray="13.7 6 3.3 6.2"/>
<path d="M215.0 1029.9 L217.0 1030.5 L219.0 1031.0 L221.0 1031.5 L223.0 1032.0 L225.0 1032.4 L227.0 1032.8 L229.0 1033.2 L231.0 1033.6 L233.0 1033.8 L235.0 1034.0 L237.0 1034.2 L239.0 1034.4 L241.0 1034.6 L243.0 1034.8 L245.0 1035.0 L247.0 1035.1 L249.0 1035.2 L251.0 1035.3 L253.0 1035.4 L254.9 1035.4 L256.9 1035.4 L258.9 1035.4 L260.9 1035.3 L262.9 1035.2 L264.9 1035.1 L266.9 1034.9 L268.9 1034.7 L270.9 1034.5 L272.9 1034.2 L274.9 1033.9 L276.9 1033.6 L278.9 1033.3 L280.9 1032.9 L282.9 1032.5 L284.9 1032.1 L286.9 1031.6 L288.9 1031.2 L290.9 1030.7 L292.9 1030.2 L294.9 1029.6 L296.9 1029.1 L298.9 1028.5 L300.9 1028.0 L302.9 1027.4 L304.9 1026.8 L306.9 1026.3 L308.9 1025.7 L310.9 1025.2 L312.9 1024.7 L314.9 1024.1 L316.9 1023.6 L318.9 1023.1 L320.9 1022.6 L322.9 1022.1 L324.9 1021.6 L326.9 1021.0 L328.9 1020.4 L330.8 1019.9 L332.8 1019.2 L334.8 1018.6 L336.8 1017.9 L338.8 1017.1 L340.8 1016.3 L342.8 1015.4 L344.8 1014.5 L346.8 1013.5 L348.8 1012.4 L350.8 1011.2 L352.8 1010.0 L354.8 1008.7 L356.8 1007.4 L358.8 1006.0 L360.8 1004.5 L362.8 1003.1 L364.8 1001.6 L366.8 1000.0 L368.8 998.5 L370.8 996.9 L372.8 995.2 L374.8 993.6 L376.8 991.8 L378.8 990.1 L380.8 988.3 L382.8 986.5 L384.8 984.6 L386.8 982.7 L388.8 980.7 L390.8 978.7 L392.8 976.7 L394.8 974.5 L396.8 972.3 L398.8 970.1 L400.8 967.8 L402.8 965.4 L404.8 963.0 L406.8 960.5 L408.7 958.0 L410.7 955.4 L412.7 952.8 L414.7 950.1 L416.7 947.4 L418.7 944.7 L420.7 941.9 L422.7 939.1 L424.7 936.3 L426.7 933.4 L428.7 930.6 L430.7 927.7 L432.7 924.8 L434.7 921.9 L436.7 919.0 L438.7 916.1 L440.7 913.2 L442.7 910.2 L444.7 907.3 L446.7 904.3 L448.7 901.3 L450.7 898.3 L452.7 895.2 L454.7 892.2 L456.7 889.1 L458.7 886.0 L460.7 882.9 L462.7 879.7 L464.7 876.6 L466.7 873.4 L468.7 870.2 L470.7 867.0 L472.7 863.8 L474.7 860.6 L476.7 857.4 L478.7 854.3 L480.7 851.1 L482.7 848.0 L484.6 844.9 L486.6 841.8 L488.6 838.8 L490.6 835.8 L492.6 832.8 L494.6 829.9 L496.6 827.0 L498.6 824.2 L500.6 821.5 L502.6 818.8 L504.6 816.2 L506.6 813.6 L508.6 811.2 L510.6 808.8 L512.6 806.4 L514.6 804.2 L516.6 802.0 L518.6 799.9 L520.6 797.9 L522.6 796.0 L524.6 794.0 L526.6 792.2 L528.6 790.4 L530.6 788.6 L532.6 786.9 L534.6 785.3 L536.6 783.6 L538.6 782.0 L540.6 780.5 L542.6 779.0 L544.6 777.5 L546.6 776.1 L548.6 774.7 L550.6 773.4 L552.6 772.2 L554.6 771.1 L556.6 770.1 L558.6 769.2 L560.6 768.3 L562.5 767.6 L564.5 766.9 L566.5 766.3 L568.5 765.8 L570.5 765.4 L572.5 765.0 L574.5 764.6 L576.5 764.3 L578.5 764.1 L580.5 763.9 L582.5 763.8 L584.5 763.7 L586.5 763.7 L588.5 763.8 L590.5 763.9 L592.5 764.1 L594.5 764.4 L596.5 764.7 L598.5 765.1 L600.5 765.6 L602.5 766.1 L604.5 766.6 L606.5 767.3 L608.5 767.9 L610.5 768.7 L612.5 769.4 L614.5 770.3 L616.5 771.2 L618.5 772.2 L620.5 773.2 L622.5 774.3 L624.5 775.5 L626.5 776.7 L628.5 777.9 L630.5 779.2 L632.5 780.5 L634.5 781.9 L636.5 783.2 L638.4 784.6 L640.4 786.0 L642.4 787.5 L644.4 789.0 L646.4 790.5 L648.4 792.0 L650.4 793.6 L652.4 795.2 L654.4 796.9 L656.4 798.5 L658.4 800.2 L660.4 802.0 L662.4 803.7 L664.4 805.5 L666.4 807.3 L668.4 809.1 L670.4 811.0 L672.4 812.8 L674.4 814.7 L676.4 816.6 L678.4 818.6 L680.4 820.5 L682.4 822.5 L684.4 824.5 L686.4 826.6 L688.4 828.6 L690.4 830.6 L692.4 832.7 L694.4 834.7 L696.4 836.7 L698.4 838.7 L700.4 840.6 L702.4 842.5 L704.4 844.4 L706.4 846.2 L708.4 848.0 L710.4 849.8 L712.4 851.5 L714.4 853.2 L716.3 854.8 L718.3 856.5 L720.3 858.1 L722.3 859.7 L724.3 861.3 L726.3 862.9 L728.3 864.4 L730.3 866.0 L732.3 867.6 L734.3 869.1 L736.3 870.7 L738.3 872.3 L740.3 873.9 L742.3 875.5 L744.3 877.1 L746.3 878.7 L748.3 880.3 L750.3 881.9 L752.3 883.5 L754.3 885.1 L756.3 886.7 L758.3 888.3 L760.3 889.8 L762.3 891.4 L764.3 893.0 L766.3 894.6 L768.3 896.1 L770.3 897.7 L772.3 899.2 L774.3 900.7 L776.3 902.3 L778.3 903.8 L780.3 905.3 L782.3 906.8 L784.3 908.3 L786.3 909.8 L788.3 911.3 L790.3 912.7 L792.2 914.2 L794.2 915.7 L796.2 917.1 L798.2 918.5 L800.2 919.9 L802.2 921.3 L804.2 922.6 L806.2 923.9 L808.2 925.0 L810.2 926.1 L812.2 927.0 L814.2 927.9" stroke="#8c8c1e" stroke-dasharray="10.3 6 3.4 6 3.4 6"/>
<path d="M215.0 981.5 L217.0 982.8 L219.0 984.2 L221.0 985.4 L223.0 986.6 L225.0 987.8 L227.0 988.9 L229.0 989.9 L231.0 991.0 L233.0 992.0 L235.0 992.8 L237.0 993.6 L239.0 994.3 L241.0 994.9 L243.0 995.5 L245.0 996.1 L247.0 996.7 L249.0 997.2 L251.0 997.7 L253.0 998.1 L254.9 998.5 L256.9 998.9 L258.9 999.2 L260.9 999.5 L262.9 999.7 L264.9 999.9 L266.9 1000.0 L268.9 1000.2 L270.9 1000.3 L272.9 1000.3 L274.9 1000.4 L276.9 1000.5 L278.9 1000.5 L280.9 1000.5 L282.9 1000.4 L284.9 1000.4 L286.9 1000.3 L288.9 1000.1 L290.9 999.9 L292.9 999.6 L294.9 999.3 L296.9 999.0 L298.9 998.6 L300.9 998.1 L302.9 997.6 L304.9 997.1 L306.9 996.5 L308.9 995.9 L310.9 995.3 L312.9 994.6 L314.9 993.9 L316.9 993.2 L318.9 992.5 L320.9 991.7 L322.9 990.9 L324.9 990.1 L326.9 989.3 L328.9 988.4 L330.8 987.6 L332.8 986.8 L334.8 986.0 L336.8 985.2 L338.8 984.3 L340.8 983.4 L342.8 982.5 L344.8 981.5 L346.8 980.4 L348.8 979.3 L350.8 978.1 L352.8 976.9 L354.8 975.6 L356.8 974.3 L358.8 972.9 L360.8 971.6 L362.8 970.1 L364.8 968.7 L366.8 967.2 L368.8 965.7 L370.8 964.1 L372.8 962.5 L374.8 960.8 L376.8 959.0 L378.8 957.2 L380.8 955.2 L382.8 953.2 L384.8 951.1 L386.8 949.0 L388.8 946.7 L390.8 944.4 L392.8 942.0 L394.8 939.6 L396.8 937.1 L398.8 934.5 L400.8 931.9 L402.8 929.2 L404.8 926.4 L406.8 923.6 L408.7 920.7 L410.7 917.7 L412.7 914.7 L414.7 911.6 L416.7 908.5 L418.7 905.3 L420.7 902.1 L422.7 898.9 L424.7 895.6 L426.7 892.3 L428.7 889.0 L430.7 885.6 L432.7 882.3 L434.7 878.8 L436.7 875.3 L438.7 871.7 L440.7 868.0 L442.7 864.2 L444.7 860.4 L446.7 856.4 L448.7 852.4 L450.7 848.3 L452.7 844.2 L454.7 840.1 L456.7 836.0 L458.7 831.9 L460.7 827.8 L462.7 823.8 L464.7 819.8 L466.7 815.9 L468.7 812.0 L470.7 808.1 L472.7 804.2 L474.7 800.4 L476.7 796.6 L478.7 792.8 L480.7 789.1 L482.7 785.4 L484.6 781.7 L486.6 778.1 L488.6 774.5 L490.6 771.0 L492.6 767.5 L494.6 764.1 L496.6 760.7 L498.6 757.3 L500.6 754.0 L502.6 750.7 L504.6 747.4 L506.6 744.1 L508.6 740.9 L510.6 737.7 L512.6 734.5 L514.6 731.4 L516.6 728.4 L518.6 725.4 L520.6 722.5 L522.6 719.7 L524.6 716.9 L526.6 714.2 L528.6 711.7 L530.6 709.2 L532.6 706.9 L534.6 704.7 L536.6 702.6 L538.6 700.6 L540.6 698.8 L542.6 697.2 L544.6 695.6 L546.6 694.2 L548.6 692.9 L550.6 691.7 L552.6 690.6 L554.6 689.6 L556.6 688.7 L558.6 687.9 L560.6 687.1 L562.5 686.4 L564.5 685.8 L566.5 685.3 L568.5 684.8 L570.5 684.4 L572.5 684.0 L574.5 683.7 L576.5 683.6 L578.5 683.5 L580.5 683.4 L582.5 683.5 L584.5 683.7 L586.5 684.0 L588.5 684.4 L590.5 684.9 L592.5 685.4 L594.5 686.1 L596.5 686.9 L598.5 687.8 L600.5 688.7 L602.5 689.7 L604.5 690.8 L606.5 691.9 L608.5 693.1 L610.5 694.3 L612.5 695.5 L614.5 696.8 L616.5 698.1 L618.5 699.4 L620.5 700.7 L622.5 702.1 L624.5 703.5 L626.5 704.9 L628.5 706.3 L630.5 707.8 L632.5 709.3 L634.5 710.9 L636.5 712.4 L638.4 714.0 L640.4 715.7 L642.4 717.4 L644.4 719.1 L646.4 720.9 L648.4 722.8 L650.4 724.6 L652.4 726.5 L654.4 728.5 L656.4 730.5 L658.4 732.5 L660.4 734.5 L662.4 736.6 L664.4 738.7 L666.4 740.7 L668.4 742.8 L670.4 745.0 L672.4 747.1 L674.4 749.2 L676.4 751.3 L678.4 753.5 L680.4 755.7 L682.4 757.8 L684.4 760.0 L686.4 762.2 L688.4 764.4 L690.4 766.6 L692.4 768.8 L694.4 771.1 L696.4 773.3 L698.4 775.5 L700.4 777.7 L702.4 779.9 L704.4 782.2 L706.4 784.4 L708.4 786.6 L710.4 788.8 L712.4 791.0 L714.4 793.2 L716.3 795.4 L718.3 797.6 L720.3 799.9 L722.3 802.1 L724.3 804.3 L726.3 806.5 L728.3 808.7 L730.3 810.9 L732.3 813.1 L734.3 815.3 L736.3 817.5 L738.3 819.7 L740.3 822.0 L742.3 824.2 L744.3 826.4 L746.3 828.7 L748.3 830.9 L750.3 833.1 L752.3 835.4 L754.3 837.6 L756.3 839.8 L758.3 842.0 L760.3 844.1 L762.3 846.3 L764.3 848.4 L766.3 850.4 L768.3 852.5 L770.3 854.4 L772.3 856.4 L774.3 858.3 L776.3 860.2 L778.3 862.1 L780.3 863.9 L782.3 865.7 L784.3 867.5 L786.3 869.2 L788.3 871.0 L790.3 872.7 L792.2 874.3 L794.2 876.0 L796.2 877.6 L798.2 879.2 L800.2 880.7 L802.2 882.2 L804.2 883.6 L806.2 884.9 L808.2 886.1 L810.2 887.2 L812.2 888.2 L814.2 889.1" stroke="#2a69a8" stroke-dasharray="5.6 4.8"/>
</g>
<g stroke="#000" stroke-width="2" fill="none">
<path d="M215.0 631.0 V1076.0"/>
<path d="M214.0 1075.0 H815.2"/>
<path d="M205.7 1075.0 H215.0"/>
<path d="M210.0 1019.6 H215.0"/>
<path d="M205.7 964.2 H215.0"/>
<path d="M210.0 908.9 H215.0"/>
<path d="M205.7 853.5 H215.0"/>
<path d="M210.0 798.1 H215.0"/>
<path d="M205.7 742.8 H215.0"/>
<path d="M210.0 687.4 H215.0"/>
<path d="M205.7 632.0 H215.0"/>
<path d="M215.0 1075.0 V1084.3"/>
<path d="M298.2 1075.0 V1080.0"/>
<path d="M381.5 1075.0 V1084.3"/>
<path d="M464.7 1075.0 V1080.0"/>
<path d="M547.9 1075.0 V1084.3"/>
<path d="M631.1 1075.0 V1080.0"/>
<path d="M714.4 1075.0 V1084.3"/>
<path d="M797.6 1075.0 V1080.0"/>
</g>
<text x="199.5" y="1083.9" font-size="28.0" text-anchor="end">0</text>
<text x="199.5" y="973.1" font-size="28.0" text-anchor="end">200</text>
<text x="199.5" y="862.4" font-size="28.0" text-anchor="end">400</text>
<text x="199.5" y="751.6" font-size="28.0" text-anchor="end">600</text>
<text x="199.5" y="640.9" font-size="28.0" text-anchor="end">800</text>
<text x="215.0" y="1108.2" font-size="28.0" text-anchor="middle">500</text>
<text x="381.5" y="1108.2" font-size="28.0" text-anchor="middle">550</text>
<text x="547.9" y="1108.2" font-size="28.0" text-anchor="middle">600</text>
<text x="714.4" y="1108.2" font-size="28.0" text-anchor="middle">650</text>
<text x="505" y="1145.4" font-size="28.0" text-anchor="middle">Wavelength/nm</text>
<text transform="translate(123 853.8) rotate(-90)" font-size="28.0" text-anchor="middle">Intensity/a.u.</text>
<text x="94.9" y="641.2" font-size="28.0">(b)</text>
<text x="227.5" y="662.6" font-size="24.5" text-anchor="start" fill="#000"><tspan font-style="italic">f</tspan><tspan font-size="15.2" dy="6.6">w</tspan><tspan dy="-6.6">/%</tspan></text>
<path d="M227.0 692.9 H279.6" stroke="#000000" stroke-width="2.5" stroke-linecap="round" fill="none"/>
<text x="286" y="701.3" font-size="24.5">0</text>
<path d="M227.0 724.7 H279.6" stroke="#ee1c25" stroke-width="2.5" stroke-linecap="round" fill="none"/>
<text x="286" y="733.1" font-size="24.5">10</text>
<path d="M227.0 757.1 H279.6" stroke="#2e3f9e" stroke-width="2.5" stroke-linecap="round" fill="none"/>
<text x="286" y="765.5" font-size="24.5">20</text>
<path d="M227.0 789.3 H279.6" stroke="#c2509f" stroke-width="2.5" stroke-linecap="round" fill="none"/>
<text x="286" y="797.7" font-size="24.5">30</text>
<path d="M227.0 821.4 H279.6" stroke="#0f7f3f" stroke-width="2.5" stroke-linecap="round" fill="none"/>
<text x="286" y="829.8" font-size="24.5">40</text>
<path d="M227.0 853.5 H279.6" stroke="#1b1b7a" stroke-width="2.5" stroke-linecap="round" fill="none"/>
<text x="286" y="861.9" font-size="24.5">50</text>
<path d="M331.5 692.9 H386.8" stroke="#7a52b3" stroke-width="2.5" fill="none" stroke-dasharray="12 11"/>
<text x="391.5" y="701.3" font-size="24.5">60</text>
<path d="M331.5 724.7 H386.8" stroke="#8b1a8b" stroke-width="2.5" fill="none" stroke-dasharray="3.6 10.4"/>
<text x="391.5" y="733.1" font-size="24.5">70</text>
<path d="M331.5 757.1 H386.8" stroke="#8b1420" stroke-width="2.5" fill="none" stroke-dasharray="13.7 6 3.3 6.2"/>
<text x="391.5" y="765.5" font-size="24.5">80</text>
<path d="M331.5 789.3 H386.8" stroke="#8c8c1e" stroke-width="2.5" fill="none" stroke-dasharray="10.3 6 3.4 6 3.4 6"/>
<text x="391.5" y="797.7" font-size="24.5">90</text>
<path d="M331.5 821.4 H386.8" stroke="#2a69a8" stroke-width="2.5" fill="none" stroke-dasharray="5.6 4.8"/>
<text x="391.5" y="829.8" font-size="24.5">100</text>
</g>
<g id="chart-c">
<g stroke="#222" stroke-width="0.9" fill="none">
<path d="M255.4 1621.6 L293.2 1614.7"/>
<path d="M309.8 1615.5 L348.6 1626.1"/>
<path d="M364.7 1631.5 L403.5 1646.7"/>
<path d="M419.9 1650.3 L458.0 1652.3"/>
<path d="M473.3 1647.8 L514.2 1617.7"/>
<path d="M522.7 1604.4 L574.1 1359.3"/>
<path d="M584.3 1350.2 L622.3 1346.7"/>
<path d="M639.1 1343.9 L677.0 1334.4"/>
<path d="M693.6 1334.1 L732.0 1341.9"/>
<path d="M745.1 1336.6 L790.6 1270.5"/>
</g>
<clipPath id="clipC"><rect x="220.0" y="1200" width="620" height="456.2"/></clipPath>
<g clip-path="url(#clipC)">
<circle cx="247.0" cy="1623.1" r="5.7"/>
<circle cx="301.6" cy="1613.2" r="5.7"/>
<circle cx="356.8" cy="1628.4" r="5.7"/>
<circle cx="411.4" cy="1649.8" r="5.7"/>
<circle cx="466.5" cy="1652.8" r="5.7"/>
<circle cx="521.0" cy="1612.7" r="5.7"/>
<circle cx="575.8" cy="1351.0" r="5.7"/>
<circle cx="630.8" cy="1345.9" r="5.7"/>
<circle cx="685.3" cy="1332.4" r="5.7"/>
<circle cx="740.3" cy="1343.6" r="5.7"/>
<circle cx="795.4" cy="1263.5" r="5.7"/>
</g>
<g stroke="#000" stroke-width="2" fill="none">
<path d="M220.0 1211.5 V1657.2"/>
<path d="M219.0 1656.2 H823.6"/>
<path d="M210.7 1656.2 H220.0"/>
<path d="M215.0 1600.7 H220.0"/>
<path d="M210.7 1545.3 H220.0"/>
<path d="M215.0 1489.8 H220.0"/>
<path d="M210.7 1434.4 H220.0"/>
<path d="M215.0 1378.9 H220.0"/>
<path d="M210.7 1323.4 H220.0"/>
<path d="M215.0 1268.0 H220.0"/>
<path d="M210.7 1212.5 H220.0"/>
<path d="M219.6 1656.2 V1661.0"/>
<path d="M247.0 1656.2 V1665.5"/>
<path d="M274.4 1656.2 V1661.0"/>
<path d="M301.9 1656.2 V1665.5"/>
<path d="M329.4 1656.2 V1661.0"/>
<path d="M356.8 1656.2 V1665.5"/>
<path d="M384.2 1656.2 V1661.0"/>
<path d="M411.7 1656.2 V1665.5"/>
<path d="M439.1 1656.2 V1661.0"/>
<path d="M466.6 1656.2 V1665.5"/>
<path d="M494.1 1656.2 V1661.0"/>
<path d="M521.5 1656.2 V1665.5"/>
<path d="M549.0 1656.2 V1661.0"/>
<path d="M576.4 1656.2 V1665.5"/>
<path d="M603.9 1656.2 V1661.0"/>
<path d="M631.3 1656.2 V1665.5"/>
<path d="M658.8 1656.2 V1661.0"/>
<path d="M686.2 1656.2 V1665.5"/>
<path d="M713.7 1656.2 V1661.0"/>
<path d="M741.1 1656.2 V1665.5"/>
<path d="M768.6 1656.2 V1661.0"/>
<path d="M796.0 1656.2 V1665.5"/>
<path d="M823.5 1656.2 V1661.0"/>
</g>
<text x="199.0" y="1665.1" font-size="28.0" text-anchor="end">0</text>
<text x="199.0" y="1554.2" font-size="28.0" text-anchor="end">200</text>
<text x="199.0" y="1443.3" font-size="28.0" text-anchor="end">400</text>
<text x="199.0" y="1332.3" font-size="28.0" text-anchor="end">600</text>
<text x="199.0" y="1221.4" font-size="28.0" text-anchor="end">800</text>
<text x="247.0" y="1698.6" font-size="28.0" text-anchor="middle">0</text>
<text x="301.9" y="1698.6" font-size="28.0" text-anchor="middle">10</text>
<text x="356.8" y="1698.6" font-size="28.0" text-anchor="middle">20</text>
<text x="411.7" y="1698.6" font-size="28.0" text-anchor="middle">30</text>
<text x="466.6" y="1698.6" font-size="28.0" text-anchor="middle">40</text>
<text x="521.5" y="1698.6" font-size="28.0" text-anchor="middle">50</text>
<text x="576.4" y="1698.6" font-size="28.0" text-anchor="middle">60</text>
<text x="631.3" y="1698.6" font-size="28.0" text-anchor="middle">70</text>
<text x="686.2" y="1698.6" font-size="28.0" text-anchor="middle">80</text>
<text x="741.1" y="1698.6" font-size="28.0" text-anchor="middle">90</text>
<text x="796.0" y="1698.6" font-size="28.0" text-anchor="middle">100</text>
<text x="490.5" y="1733.2" font-size="28.0" text-anchor="start" fill="#000"><tspan font-style="italic">f</tspan><tspan font-size="17.4" dy="7.6">w</tspan><tspan dy="-7.6">/%</tspan></text>
<text transform="translate(128.6 1434.5) rotate(-90)" font-size="28.0" text-anchor="middle">Intensity/a.u.</text>
<text x="102.9" y="1220.4" font-size="28.0">(c)</text>
<g id="photo">
<defs>
<clipPath id="phClip"><rect x="226.2" y="1223.2" width="317.4" height="240.1"/></clipPath>
<filter id="blur1" x="-20%" y="-20%" width="140%" height="140%"><feGaussianBlur stdDeviation="1.2"/></filter>
<filter id="blur3" x="-30%" y="-30%" width="160%" height="160%"><feGaussianBlur stdDeviation="3"/></filter>
<filter id="blur6" x="-50%" y="-50%" width="200%" height="200%"><feGaussianBlur stdDeviation="6"/></filter>
<linearGradient id="gBody1" x1="0" y1="0" x2="1" y2="0"><stop offset="0" stop-color="#a4dcff"/><stop offset="0.035" stop-color="#6cb8f8"/><stop offset="0.1" stop-color="#4494ec"/><stop offset="0.3" stop-color="#3078e0"/><stop offset="0.5" stop-color="#2a6ad4"/><stop offset="0.7" stop-color="#3078e0"/><stop offset="0.9" stop-color="#4494ec"/><stop offset="0.965" stop-color="#6cb8f8"/><stop offset="1" stop-color="#a4dcff"/></linearGradient>
<linearGradient id="gBody2" x1="0" y1="0" x2="1" y2="0"><stop offset="0" stop-color="#7cb8f6"/><stop offset="0.035" stop-color="#4c8ce6"/><stop offset="0.1" stop-color="#3560cc"/><stop offset="0.3" stop-color="#2a44b4"/><stop offset="0.5" stop-color="#263aaa"/><stop offset="0.7" stop-color="#2e40b0"/><stop offset="0.9" stop-color="#3a5cc8"/><stop offset="0.965" stop-color="#4e8ee6"/><stop offset="1" stop-color="#7cb8f6"/></linearGradient>
<linearGradient id="gBody3" x1="0" y1="0" x2="1" y2="0"><stop offset="0" stop-color="#a4dcff"/><stop offset="0.035" stop-color="#6cb8f8"/><stop offset="0.1" stop-color="#4494ec"/><stop offset="0.3" stop-color="#2e74de"/><stop offset="0.5" stop-color="#2866d0"/><stop offset="0.7" stop-color="#2e74de"/><stop offset="0.9" stop-color="#4494ec"/><stop offset="0.965" stop-color="#6cb8f8"/><stop offset="1" stop-color="#a4dcff"/></linearGradient>
<linearGradient id="gLiq1" x1="0" y1="0" x2="1" y2="0"><stop offset="0" stop-color="#b8e4ff"/><stop offset="0.05" stop-color="#9cccf8"/><stop offset="0.2" stop-color="#a2c0f2"/><stop offset="0.5" stop-color="#b6b2ea"/><stop offset="0.8" stop-color="#a2c0f2"/><stop offset="0.95" stop-color="#9cccf8"/><stop offset="1" stop-color="#b8e4ff"/></linearGradient>
<linearGradient id="gLiq2" x1="0" y1="0" x2="1" y2="0"><stop offset="0" stop-color="#98c4f8"/><stop offset="0.05" stop-color="#7898e2"/><stop offset="0.2" stop-color="#7680d0"/><stop offset="0.55" stop-color="#7e66c0"/><stop offset="0.85" stop-color="#747ccc"/><stop offset="0.95" stop-color="#7898e2"/><stop offset="1" stop-color="#98c4f8"/></linearGradient>
<linearGradient id="gLiq3" x1="0" y1="0" x2="1" y2="0"><stop offset="0" stop-color="#c4e0ff"/><stop offset="0.05" stop-color="#bcc8f4"/><stop offset="0.2" stop-color="#dcc4ec"/><stop offset="0.5" stop-color="#ea84b2"/><stop offset="0.8" stop-color="#dcc0ea"/><stop offset="0.95" stop-color="#bcc8f4"/><stop offset="1" stop-color="#c4e0ff"/></linearGradient>
<linearGradient id="gNeck" x1="0" y1="0" x2="0" y2="1"><stop offset="0" stop-color="#8cc8ff" stop-opacity="0.55"/><stop offset="0.7" stop-color="#6ab0ff" stop-opacity="0.35"/><stop offset="1" stop-color="#6ab0ff" stop-opacity="0"/></linearGradient>
<linearGradient id="gNeck2" x1="0" y1="0" x2="0" y2="1"><stop offset="0" stop-color="#7aa8f0" stop-opacity="0.35"/><stop offset="0.7" stop-color="#6a90e8" stop-opacity="0.2"/><stop offset="1" stop-color="#6a90e8" stop-opacity="0"/></linearGradient>
<linearGradient id="gDark" x1="0" y1="0" x2="0" y2="1"><stop offset="0" stop-color="#0c1c70" stop-opacity="0"/><stop offset="0.55" stop-color="#0c1c70" stop-opacity="0.12"/><stop offset="1" stop-color="#0c1c70" stop-opacity="0.22"/></linearGradient>
<linearGradient id="gBot" x1="0" y1="0" x2="0" y2="1"><stop offset="0" stop-color="#7cc4ff" stop-opacity="0"/><stop offset="0.6" stop-color="#7cc4ff" stop-opacity="0.55"/><stop offset="1" stop-color="#bfe4ff" stop-opacity="0.9"/></linearGradient>
<filter id="spk" x="0" y="0" width="100%" height="100%" color-interpolation-filters="sRGB"><feTurbulence type="fractalNoise" baseFrequency="0.42" numOctaves="2" seed="7"/><feColorMatrix type="matrix" values="0 0 0 0 0.85  0 0 0 0 0.95  0 0 0 0 1  0 0 0 9 -6.45"/></filter>
<filter id="streak" x="0" y="0" width="100%" height="100%" color-interpolation-filters="sRGB"><feTurbulence type="fractalNoise" baseFrequency="0.02 0.6" numOctaves="2" seed="11"/><feColorMatrix type="matrix" values="0 0 0 0 0.8  0 0 0 0 0.92  0 0 0 0 1  0 0 0 3.2 -1.45"/></filter>
</defs>
<g clip-path="url(#phClip)">
<rect x="226.2" y="1223.2" width="317.4" height="240.1" fill="#18183e"/>
<rect x="332.9" y="1223.2" width="210.7" height="240.1" fill="#20174f"/>
<rect x="439.4" y="1223.2" width="104.2" height="240.1" fill="#261844"/>
<ellipse cx="279.6" cy="1463.5" rx="46.1" ry="4.5" fill="#2a66e0" opacity="0.55" filter="url(#blur3)"/>
<ellipse cx="385.0" cy="1464.0" rx="46.0" ry="4.5" fill="#2a48c0" opacity="0.55" filter="url(#blur3)"/>
<ellipse cx="491.0" cy="1463.5" rx="45.5" ry="4.5" fill="#2a66e0" opacity="0.55" filter="url(#blur3)"/>
<clipPath id="vc1"><path d="M248.0 1229.4 H311.0 Q313.5 1229.4 313.5 1232.4 V1243.0 C314.5 1244.0 318.3 1244.5 318.3 1248.0 C318.3 1251.5 314.5 1252.0 313.5 1253.0 V1255.7 C314.5 1256.7 318.3 1257.2 318.3 1260.8 C318.3 1264.3 314.5 1264.8 313.5 1265.8 V1277.0 C321.9 1279.5 327.7 1287.5 327.7 1299.0 V1443.5 C327.7 1453.5 319.7 1458.5 307.7 1458.5 H251.5 C239.5 1458.5 231.5 1453.5 231.5 1443.5 V1299.0 C231.5 1287.5 237.1 1279.5 245.5 1277.0 V1261.2 C244.5 1260.2 240.7 1259.7 240.7 1255.6 C240.7 1251.5 244.5 1251.0 245.5 1250.0 V1248.4 C244.5 1247.4 240.7 1246.9 240.7 1242.7 C240.7 1238.5 244.5 1238.0 245.5 1237.0 V1232.4 Q245.5 1229.4 248.0 1229.4 Z"/></clipPath>
<path d="M248.0 1229.4 H311.0 Q313.5 1229.4 313.5 1232.4 V1243.0 C314.5 1244.0 318.3 1244.5 318.3 1248.0 C318.3 1251.5 314.5 1252.0 313.5 1253.0 V1255.7 C314.5 1256.7 318.3 1257.2 318.3 1260.8 C318.3 1264.3 314.5 1264.8 313.5 1265.8 V1277.0 C321.9 1279.5 327.7 1287.5 327.7 1299.0 V1443.5 C327.7 1453.5 319.7 1458.5 307.7 1458.5 H251.5 C239.5 1458.5 231.5 1453.5 231.5 1443.5 V1299.0 C231.5 1287.5 237.1 1279.5 245.5 1277.0 V1261.2 C244.5 1260.2 240.7 1259.7 240.7 1255.6 C240.7 1251.5 244.5 1251.0 245.5 1250.0 V1248.4 C244.5 1247.4 240.7 1246.9 240.7 1242.7 C240.7 1238.5 244.5 1238.0 245.5 1237.0 V1232.4 Q245.5 1229.4 248.0 1229.4 Z" fill="none" stroke="#3f8cf4" stroke-width="3" opacity="0.7" filter="url(#blur1)"/>
<g clip-path="url(#vc1)">
<rect x="231.5" y="1229.4" width="96.2" height="229.1" fill="url(#gBody1)"/>
<rect x="231.5" y="1229.4" width="96.2" height="69.6" fill="url(#gNeck)"/>
<path d="M245.7 1232.9 Q279.5 1235.4 313.3 1232.9" fill="none" stroke="#c0e2ff" stroke-width="1.6" opacity="0.6"/>
<path d="M241.7 1240.0 Q279.5 1245.5 317.3 1246.0" fill="none" stroke="#c0e2ff" stroke-width="2.2" opacity="0.6"/>
<path d="M243.7 1248.4 Q279.5 1253.2 315.3 1253.0" fill="none" stroke="#184cb4" stroke-width="2.0" opacity="0.5"/>
<ellipse cx="242.9" cy="1242.7" rx="2.2" ry="3.7" fill="#d8f0ff" opacity="0.55"/>
<ellipse cx="316.1" cy="1248.0" rx="2.2" ry="3.0" fill="#d8f0ff" opacity="0.55"/>
<path d="M241.7 1253.0 Q279.5 1258.3 317.3 1258.7" fill="none" stroke="#c0e2ff" stroke-width="2.2" opacity="0.6"/>
<path d="M243.7 1261.2 Q279.5 1266.0 315.3 1265.8" fill="none" stroke="#184cb4" stroke-width="2.0" opacity="0.5"/>
<ellipse cx="242.9" cy="1255.6" rx="2.2" ry="3.6" fill="#d8f0ff" opacity="0.55"/>
<ellipse cx="316.1" cy="1260.8" rx="2.2" ry="3.0" fill="#d8f0ff" opacity="0.55"/>
<path d="M244.7 1271.0 Q279.5 1273.5 314.3 1271.0" fill="none" stroke="#c0e2ff" stroke-width="1.6" opacity="0.45"/>
<path d="M244.7 1275.0 Q279.5 1277.5 314.3 1275.0" fill="none" stroke="#184cb4" stroke-width="1.6" opacity="0.45"/>
<path d="M244.7 1280.0 Q279.5 1282.5 314.3 1280.0" fill="none" stroke="#c0e2ff" stroke-width="1.6" opacity="0.35"/>
<rect x="237.5" y="1295.0" width="84.2" height="82.5" fill="url(#gDark)"/>
<rect x="246.9" y="1301.0" width="3.2" height="68.5" fill="#7cc0ff" opacity="0.30" filter="url(#blur1)"/>
<rect x="254.6" y="1301.0" width="3.2" height="68.5" fill="#7cc0ff" opacity="0.16" filter="url(#blur1)"/>
<rect x="306.5" y="1301.0" width="3.2" height="68.5" fill="#7cc0ff" opacity="0.22" filter="url(#blur1)"/>
<rect x="314.2" y="1301.0" width="3.2" height="68.5" fill="#7cc0ff" opacity="0.30" filter="url(#blur1)"/>
<path d="M234.5 1297.0 Q279.6 1285.0 324.7 1297.0" fill="none" stroke="#9ad0ff" stroke-width="2" opacity="0.50" filter="url(#blur1)"/>
<rect x="231.5" y="1382.5" width="96.2" height="76.0" fill="url(#gLiq1)"/>
<path d="M231.5 1376.5 Q279.6 1382.5 327.7 1376.5 V1385.5 Q279.6 1392.5 231.5 1385.5 Z" fill="#7cc0fa"/>
<path d="M231.5 1385.0 Q279.6 1392.0 327.7 1385.0" fill="none" stroke="#d8f0ff" stroke-width="1.3" opacity="0.8"/>
<path d="M231.5 1377.0 Q279.6 1383.0 327.7 1377.0" fill="none" stroke="#c8e8ff" stroke-width="1.1" opacity="0.7"/>
<rect x="231.5" y="1436.5" width="96.2" height="22" fill="url(#gBot)" opacity="0.75"/>
<path d="M233.5 1444.5 Q279.6 1453.5 325.7 1444.5" fill="none" stroke="#d0ecff" stroke-width="1.5" opacity="0.7"/>
</g>
<clipPath id="vc2"><path d="M354.5 1232.3 H417.5 Q420.0 1232.3 420.0 1235.3 V1249.9 C421.0 1250.9 425.0 1251.4 425.0 1254.3 C425.0 1257.3 421.0 1257.8 420.0 1258.8 V1260.3 C421.0 1261.3 425.0 1261.8 425.0 1264.8 C425.0 1267.8 421.0 1268.3 420.0 1269.3 V1279.0 C428.4 1281.5 433.0 1289.5 433.0 1301.0 V1444.0 C433.0 1454.0 425.0 1459.0 413.0 1459.0 H357.0 C345.0 1459.0 337.0 1454.0 337.0 1444.0 V1301.0 C337.0 1289.5 343.6 1281.5 352.0 1279.0 V1263.0 C351.0 1262.0 347.0 1261.5 347.0 1258.0 C347.0 1254.5 351.0 1254.0 352.0 1253.0 V1250.7 C351.0 1249.7 347.0 1249.2 347.0 1245.7 C347.0 1242.1 351.0 1241.6 352.0 1240.6 V1235.3 Q352.0 1232.3 354.5 1232.3 Z"/></clipPath>
<path d="M354.5 1232.3 H417.5 Q420.0 1232.3 420.0 1235.3 V1249.9 C421.0 1250.9 425.0 1251.4 425.0 1254.3 C425.0 1257.3 421.0 1257.8 420.0 1258.8 V1260.3 C421.0 1261.3 425.0 1261.8 425.0 1264.8 C425.0 1267.8 421.0 1268.3 420.0 1269.3 V1279.0 C428.4 1281.5 433.0 1289.5 433.0 1301.0 V1444.0 C433.0 1454.0 425.0 1459.0 413.0 1459.0 H357.0 C345.0 1459.0 337.0 1454.0 337.0 1444.0 V1301.0 C337.0 1289.5 343.6 1281.5 352.0 1279.0 V1263.0 C351.0 1262.0 347.0 1261.5 347.0 1258.0 C347.0 1254.5 351.0 1254.0 352.0 1253.0 V1250.7 C351.0 1249.7 347.0 1249.2 347.0 1245.7 C347.0 1242.1 351.0 1241.6 352.0 1240.6 V1235.3 Q352.0 1232.3 354.5 1232.3 Z" fill="none" stroke="#3a64d8" stroke-width="3" opacity="0.7" filter="url(#blur1)"/>
<g clip-path="url(#vc2)">
<rect x="337.0" y="1232.3" width="96.0" height="226.7" fill="url(#gBody2)"/>
<rect x="337.0" y="1232.3" width="96.0" height="68.7" fill="url(#gNeck2)"/>
<path d="M352.0 1235.8 Q386.0 1238.3 420.0 1235.8" fill="none" stroke="#94bcf6" stroke-width="1.6" opacity="0.6"/>
<path d="M348.0 1243.6 Q386.0 1250.8 424.0 1252.9" fill="none" stroke="#94bcf6" stroke-width="2.2" opacity="0.6"/>
<path d="M350.0 1250.7 Q386.0 1257.2 422.0 1258.8" fill="none" stroke="#1a2a94" stroke-width="2.0" opacity="0.5"/>
<ellipse cx="349.2" cy="1245.7" rx="2.2" ry="3.1" fill="#d8f0ff" opacity="0.55"/>
<ellipse cx="422.8" cy="1254.3" rx="2.2" ry="2.4" fill="#d8f0ff" opacity="0.55"/>
<path d="M348.0 1256.0 Q386.0 1262.2 424.0 1263.3" fill="none" stroke="#94bcf6" stroke-width="2.2" opacity="0.6"/>
<path d="M350.0 1263.0 Q386.0 1268.7 422.0 1269.3" fill="none" stroke="#1a2a94" stroke-width="2.0" opacity="0.5"/>
<ellipse cx="349.2" cy="1258.0" rx="2.2" ry="3.0" fill="#d8f0ff" opacity="0.55"/>
<ellipse cx="422.8" cy="1264.8" rx="2.2" ry="2.5" fill="#d8f0ff" opacity="0.55"/>
<path d="M351.0 1273.0 Q386.0 1275.5 421.0 1273.0" fill="none" stroke="#94bcf6" stroke-width="1.6" opacity="0.45"/>
<path d="M351.0 1277.0 Q386.0 1279.5 421.0 1277.0" fill="none" stroke="#1a2a94" stroke-width="1.6" opacity="0.45"/>
<path d="M351.0 1282.0 Q386.0 1284.5 421.0 1282.0" fill="none" stroke="#94bcf6" stroke-width="1.6" opacity="0.35"/>
<rect x="343.0" y="1297.0" width="84.0" height="81.4" fill="url(#gDark)"/>
<rect x="352.4" y="1303.0" width="3.2" height="67.4" fill="#6a8cf0" opacity="0.30" filter="url(#blur1)"/>
<rect x="360.0" y="1303.0" width="3.2" height="67.4" fill="#6a8cf0" opacity="0.16" filter="url(#blur1)"/>
<rect x="411.9" y="1303.0" width="3.2" height="67.4" fill="#6a8cf0" opacity="0.22" filter="url(#blur1)"/>
<rect x="419.6" y="1303.0" width="3.2" height="67.4" fill="#6a8cf0" opacity="0.30" filter="url(#blur1)"/>
<path d="M340.0 1299.0 Q385.0 1287.0 430.0 1299.0" fill="none" stroke="#9ad0ff" stroke-width="2" opacity="0.30" filter="url(#blur1)"/>
<rect x="337.0" y="1383.4" width="96.0" height="75.6" fill="url(#gLiq2)"/>
<path d="M337.0 1377.4 Q385.0 1383.4 433.0 1377.4 V1386.4 Q385.0 1393.4 337.0 1386.4 Z" fill="#5f86e0"/>
<path d="M337.0 1385.9 Q385.0 1392.9 433.0 1385.9" fill="none" stroke="#d8f0ff" stroke-width="1.3" opacity="0.8"/>
<path d="M337.0 1377.9 Q385.0 1383.9 433.0 1377.9" fill="none" stroke="#c8e8ff" stroke-width="1.1" opacity="0.7"/>
<rect x="337.0" y="1437.0" width="96.0" height="22" fill="url(#gBot)" opacity="0.50"/>
<path d="M339.0 1445.0 Q385.0 1454.0 431.0 1445.0" fill="none" stroke="#d0ecff" stroke-width="1.5" opacity="0.7"/>
</g>
<clipPath id="vc3"><path d="M459.4 1230.6 H521.8 Q524.3 1230.6 524.3 1233.6 V1248.7 C525.3 1249.7 529.2 1250.2 529.2 1253.8 C529.2 1257.3 525.3 1257.8 524.3 1258.8 V1260.0 C525.3 1261.0 529.2 1261.5 529.2 1265.2 C529.2 1269.0 525.3 1269.5 524.3 1270.5 V1278.8 C532.7 1281.3 538.5 1289.3 538.5 1300.8 V1443.5 C538.5 1453.5 530.5 1458.5 518.5 1458.5 H463.5 C451.5 1458.5 443.5 1453.5 443.5 1443.5 V1300.8 C443.5 1289.3 448.5 1281.3 456.9 1278.8 V1267.0 C455.9 1266.0 452.0 1265.5 452.0 1261.3 C452.0 1257.2 455.9 1256.7 456.9 1255.7 V1253.0 C455.9 1252.0 452.0 1251.5 452.0 1246.2 C452.0 1240.9 455.9 1240.4 456.9 1239.4 V1233.6 Q456.9 1230.6 459.4 1230.6 Z"/></clipPath>
<path d="M459.4 1230.6 H521.8 Q524.3 1230.6 524.3 1233.6 V1248.7 C525.3 1249.7 529.2 1250.2 529.2 1253.8 C529.2 1257.3 525.3 1257.8 524.3 1258.8 V1260.0 C525.3 1261.0 529.2 1261.5 529.2 1265.2 C529.2 1269.0 525.3 1269.5 524.3 1270.5 V1278.8 C532.7 1281.3 538.5 1289.3 538.5 1300.8 V1443.5 C538.5 1453.5 530.5 1458.5 518.5 1458.5 H463.5 C451.5 1458.5 443.5 1453.5 443.5 1443.5 V1300.8 C443.5 1289.3 448.5 1281.3 456.9 1278.8 V1267.0 C455.9 1266.0 452.0 1265.5 452.0 1261.3 C452.0 1257.2 455.9 1256.7 456.9 1255.7 V1253.0 C455.9 1252.0 452.0 1251.5 452.0 1246.2 C452.0 1240.9 455.9 1240.4 456.9 1239.4 V1233.6 Q456.9 1230.6 459.4 1230.6 Z" fill="none" stroke="#3f8cf4" stroke-width="3" opacity="0.7" filter="url(#blur1)"/>
<g clip-path="url(#vc3)">
<rect x="443.5" y="1230.6" width="95.0" height="227.9" fill="url(#gBody3)"/>
<rect x="443.5" y="1230.6" width="95.0" height="70.2" fill="url(#gNeck)"/>
<path d="M457.0 1234.1 Q490.6 1236.6 524.2 1234.1" fill="none" stroke="#c0e2ff" stroke-width="1.6" opacity="0.6"/>
<path d="M453.0 1242.4 Q490.6 1249.6 528.2 1251.7" fill="none" stroke="#c0e2ff" stroke-width="2.2" opacity="0.6"/>
<path d="M455.0 1253.0 Q490.6 1258.4 526.2 1258.8" fill="none" stroke="#184cb4" stroke-width="2.0" opacity="0.5"/>
<ellipse cx="454.2" cy="1246.2" rx="2.2" ry="4.8" fill="#d8f0ff" opacity="0.55"/>
<ellipse cx="527.0" cy="1253.8" rx="2.2" ry="3.0" fill="#d8f0ff" opacity="0.55"/>
<path d="M453.0 1258.7 Q490.6 1263.3 528.2 1263.0" fill="none" stroke="#c0e2ff" stroke-width="2.2" opacity="0.6"/>
<path d="M455.0 1267.0 Q490.6 1271.2 526.2 1270.5" fill="none" stroke="#184cb4" stroke-width="2.0" opacity="0.5"/>
<ellipse cx="454.2" cy="1261.3" rx="2.2" ry="3.6" fill="#d8f0ff" opacity="0.55"/>
<ellipse cx="527.0" cy="1265.2" rx="2.2" ry="3.2" fill="#d8f0ff" opacity="0.55"/>
<path d="M456.0 1272.8 Q490.6 1275.3 525.2 1272.8" fill="none" stroke="#c0e2ff" stroke-width="1.6" opacity="0.45"/>
<path d="M456.0 1276.8 Q490.6 1279.3 525.2 1276.8" fill="none" stroke="#184cb4" stroke-width="1.6" opacity="0.45"/>
<path d="M456.0 1281.8 Q490.6 1284.3 525.2 1281.8" fill="none" stroke="#c0e2ff" stroke-width="1.6" opacity="0.35"/>
<rect x="449.5" y="1296.8" width="83.0" height="80.7" fill="url(#gDark)"/>
<rect x="458.7" y="1302.8" width="3.2" height="66.7" fill="#7cc0ff" opacity="0.30" filter="url(#blur1)"/>
<rect x="466.3" y="1302.8" width="3.2" height="66.7" fill="#7cc0ff" opacity="0.16" filter="url(#blur1)"/>
<rect x="517.6" y="1302.8" width="3.2" height="66.7" fill="#7cc0ff" opacity="0.22" filter="url(#blur1)"/>
<rect x="525.2" y="1302.8" width="3.2" height="66.7" fill="#7cc0ff" opacity="0.30" filter="url(#blur1)"/>
<path d="M446.5 1298.8 Q491.0 1286.8 535.5 1298.8" fill="none" stroke="#9ad0ff" stroke-width="2" opacity="0.50" filter="url(#blur1)"/>
<rect x="443.5" y="1382.5" width="95.0" height="76.0" fill="url(#gLiq3)"/>
<path d="M443.5 1376.5 Q491.0 1382.5 538.5 1376.5 V1385.5 Q491.0 1392.5 443.5 1385.5 Z" fill="#8fc0f6"/>
<path d="M443.5 1385.0 Q491.0 1392.0 538.5 1385.0" fill="none" stroke="#d8f0ff" stroke-width="1.3" opacity="0.8"/>
<path d="M443.5 1377.0 Q491.0 1383.0 538.5 1377.0" fill="none" stroke="#c8e8ff" stroke-width="1.1" opacity="0.7"/>
<rect x="443.5" y="1436.5" width="95.0" height="22" fill="url(#gBot)" opacity="0.75"/>
<path d="M445.5 1444.5 Q491.0 1453.5 536.5 1444.5" fill="none" stroke="#d0ecff" stroke-width="1.5" opacity="0.7"/>
</g>
<g clip-path="url(#vc1)"><rect x="231.5" y="1229.4" width="96.2" height="229.1" filter="url(#spk)" opacity="0.45"/>
<rect x="231.5" y="1229.4" width="96.2" height="53.6" filter="url(#streak)" opacity="0.35"/></g>
<g clip-path="url(#vc2)"><rect x="337.0" y="1232.3" width="96.0" height="226.7" filter="url(#spk)" opacity="0.30"/>
<rect x="337.0" y="1232.3" width="96.0" height="52.7" filter="url(#streak)" opacity="0.28"/></g>
<g clip-path="url(#vc3)"><rect x="443.5" y="1230.6" width="95.0" height="227.9" filter="url(#spk)" opacity="0.45"/>
<rect x="443.5" y="1230.6" width="95.0" height="54.2" filter="url(#streak)" opacity="0.35"/></g>
<ellipse cx="312.5" cy="1358" rx="2.6" ry="9" fill="#c0489c" opacity="0.35" filter="url(#blur1)"/>
<ellipse cx="418.5" cy="1345" rx="3.6" ry="20" fill="#c84a9e" opacity="0.4" filter="url(#blur1)"/>
<ellipse cx="525" cy="1352" rx="3" ry="16" fill="#c84a9e" opacity="0.35" filter="url(#blur1)"/>
<ellipse cx="463" cy="1356" rx="1.8" ry="3" fill="#d0508c" opacity="0.6" filter="url(#blur1)"/>
<g clip-path="url(#vc3)"><ellipse cx="491" cy="1420" rx="19" ry="30" fill="#ea4a94" opacity="0.30" filter="url(#blur6)"/></g>
<g clip-path="url(#vc2)"><ellipse cx="392" cy="1420" rx="18" ry="26" fill="#8a3aa8" opacity="0.2" filter="url(#blur6)"/></g>
<g clip-path="url(#vc1)"><ellipse cx="282" cy="1418" rx="22" ry="24" fill="#b494dc" opacity="0.12" filter="url(#blur6)"/></g>
<rect x="374" y="1410.5" width="4" height="1.8" fill="#fff" opacity="0.9"/>
</g>
<g fill="#fff">
<path d="M256.8 1293.6 H508" stroke="#fff" stroke-width="4.4" fill="none"/>
<path d="M497.8 1285.0 L511.0 1293.6 L497.8 1302.2" stroke="#fff" stroke-width="4.4" fill="none" stroke-linejoin="miter" stroke-linecap="butt"/>
<text x="343.5" y="1279" font-size="34.0" fill="#fff" style="fill:#fff"><tspan font-style="italic">f</tspan><tspan font-size="21.1" dy="7.5">w</tspan><tspan dy="-7.5" dx="1.6"> (</tspan><tspan dx="2.6">%</tspan><tspan>)</tspan></text>
<text x="256.3" y="1343.5" font-size="34.0" style="fill:#fff">10</text>
<text x="362.8" y="1343.8" font-size="34.0" style="fill:#fff">40</text>
<text x="463.8" y="1343.5" font-size="34.0" style="fill:#fff">100</text>
</g>
</g>
</g>
</svg></body></html>
